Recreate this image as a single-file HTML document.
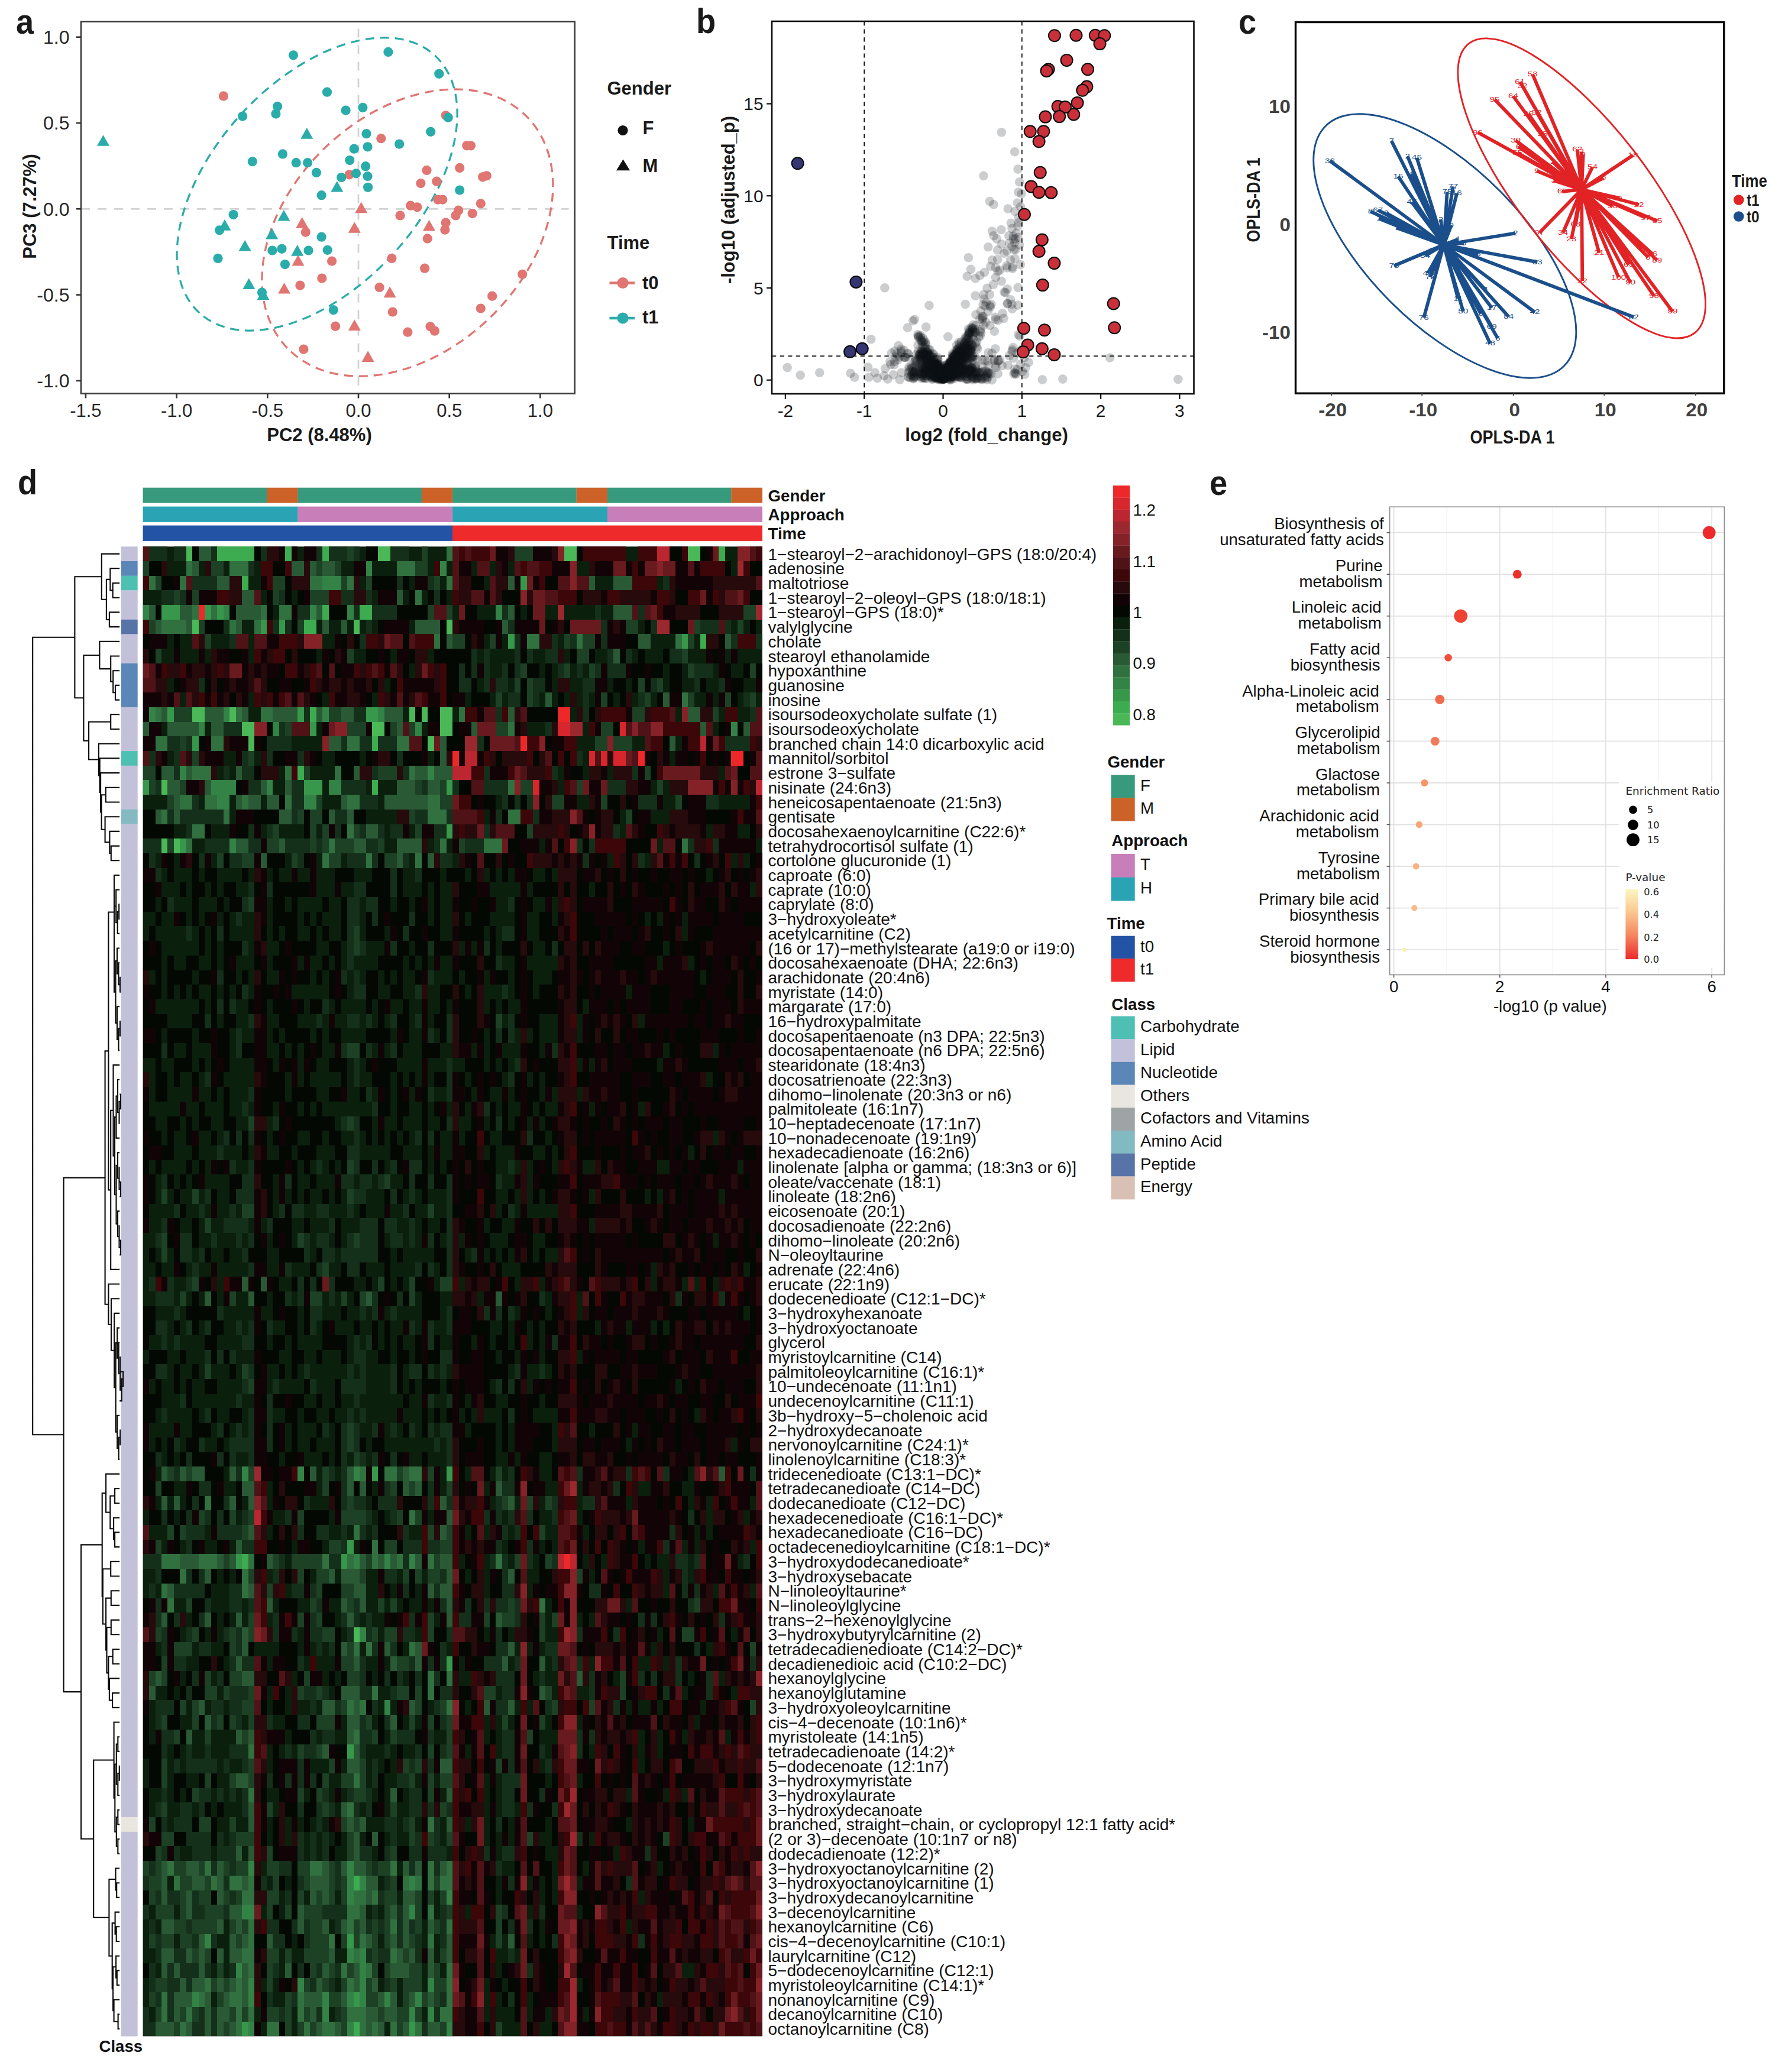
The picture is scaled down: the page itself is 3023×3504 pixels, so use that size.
<!DOCTYPE html>
<html><head><meta charset="utf-8"><title>Figure</title>
<style>
html,body{margin:0;padding:0;background:#fff}
body{width:3023px;height:3504px;overflow:hidden}
svg{display:block}
svg text{font-family:"Liberation Sans",sans-serif}
</style></head><body>
<svg width="3023" height="3504" viewBox="0 0 3023 3504">
<rect width="3023" height="3504" fill="#fff"/>
<g id="pa">
<line x1="606.0" y1="48.5" x2="606.0" y2="665.5" stroke="#d3d3d3" stroke-width="2.8" stroke-dasharray="15 13"/>
<line x1="137" y1="353.3" x2="961.7" y2="353.3" stroke="#d3d3d3" stroke-width="2.8" stroke-dasharray="15 13"/>
<ellipse cx="536.1" cy="311.4" rx="295.0" ry="174.6" transform="rotate(132.39 536.1 311.4)" fill="none" stroke="#2aacaa" stroke-width="3.3" stroke-dasharray="15 10"/>
<ellipse cx="688.9" cy="393.6" rx="281.6" ry="200.2" transform="rotate(136.20 688.9 393.6)" fill="none" stroke="#e07571" stroke-width="3.3" stroke-dasharray="15 10"/>
<circle cx="377.9" cy="162.4" r="8.1" fill="#e07571"/>
<circle cx="753.7" cy="195.3" r="8.1" fill="#e07571"/>
<circle cx="644.3" cy="234.2" r="8.1" fill="#e07571"/>
<circle cx="789.3" cy="246.3" r="8.1" fill="#e07571"/>
<circle cx="796.0" cy="246.3" r="8.1" fill="#e07571"/>
<circle cx="721.5" cy="287.9" r="8.1" fill="#e07571"/>
<circle cx="777.2" cy="283.9" r="8.1" fill="#e07571"/>
<circle cx="711.4" cy="310.1" r="8.1" fill="#e07571"/>
<circle cx="738.3" cy="306.7" r="8.1" fill="#e07571"/>
<circle cx="816.1" cy="299.3" r="8.1" fill="#e07571"/>
<circle cx="822.8" cy="297.3" r="8.1" fill="#e07571"/>
<circle cx="740.3" cy="337.6" r="8.1" fill="#e07571"/>
<circle cx="748.3" cy="337.6" r="8.1" fill="#e07571"/>
<circle cx="812.8" cy="344.3" r="8.1" fill="#e07571"/>
<circle cx="694.0" cy="347.7" r="8.1" fill="#e07571"/>
<circle cx="705.4" cy="350.3" r="8.1" fill="#e07571"/>
<circle cx="676.5" cy="364.4" r="8.1" fill="#e07571"/>
<circle cx="775.2" cy="355.7" r="8.1" fill="#e07571"/>
<circle cx="770.5" cy="364.4" r="8.1" fill="#e07571"/>
<circle cx="798.7" cy="361.1" r="8.1" fill="#e07571"/>
<circle cx="753.7" cy="376.5" r="8.1" fill="#e07571"/>
<circle cx="752.3" cy="388.6" r="8.1" fill="#e07571"/>
<circle cx="722.8" cy="403.4" r="8.1" fill="#e07571"/>
<circle cx="516.8" cy="392.6" r="8.1" fill="#e07571"/>
<circle cx="561.1" cy="441.6" r="8.1" fill="#e07571"/>
<circle cx="662.4" cy="436.9" r="8.1" fill="#e07571"/>
<circle cx="718.1" cy="453.7" r="8.1" fill="#e07571"/>
<circle cx="544.3" cy="470.5" r="8.1" fill="#e07571"/>
<circle cx="507.4" cy="482.6" r="8.1" fill="#e07571"/>
<circle cx="641.6" cy="485.9" r="8.1" fill="#e07571"/>
<circle cx="883.2" cy="463.8" r="8.1" fill="#e07571"/>
<circle cx="832.2" cy="500.7" r="8.1" fill="#e07571"/>
<circle cx="812.8" cy="521.5" r="8.1" fill="#e07571"/>
<circle cx="663.8" cy="527.5" r="8.1" fill="#e07571"/>
<circle cx="567.1" cy="551.7" r="8.1" fill="#e07571"/>
<circle cx="689.3" cy="561.7" r="8.1" fill="#e07571"/>
<circle cx="727.5" cy="552.3" r="8.1" fill="#e07571"/>
<circle cx="734.9" cy="559.7" r="8.1" fill="#e07571"/>
<circle cx="513.4" cy="590.6" r="8.1" fill="#e07571"/>
<circle cx="590.6" cy="295.3" r="8.1" fill="#e07571"/>
<path d="M610.7 341.6L621.2 360.2H600.2Z" fill="#e07571"/>
<path d="M599.3 375.2L609.8 393.8H588.8Z" fill="#e07571"/>
<path d="M510.7 367.1L521.2 385.7H500.2Z" fill="#e07571"/>
<path d="M725.5 371.8L736.0 390.4H715.0Z" fill="#e07571"/>
<path d="M504.0 430.9L514.5 449.5H493.5Z" fill="#e07571"/>
<path d="M480.5 477.9L491.0 496.4H470.0Z" fill="#e07571"/>
<path d="M659.1 484.6L669.6 503.2H648.6Z" fill="#e07571"/>
<path d="M599.3 540.3L609.8 558.9H588.8Z" fill="#e07571"/>
<path d="M622.1 593.3L632.6 611.9H611.6Z" fill="#e07571"/>
<circle cx="496.0" cy="93.3" r="8.1" fill="#2aacaa"/>
<circle cx="656.4" cy="87.9" r="8.1" fill="#2aacaa"/>
<circle cx="742.3" cy="124.8" r="8.1" fill="#2aacaa"/>
<circle cx="553.0" cy="155.7" r="8.1" fill="#2aacaa"/>
<circle cx="469.1" cy="179.9" r="8.1" fill="#2aacaa"/>
<circle cx="466.4" cy="192.6" r="8.1" fill="#2aacaa"/>
<circle cx="410.1" cy="196.6" r="8.1" fill="#2aacaa"/>
<circle cx="584.6" cy="186.6" r="8.1" fill="#2aacaa"/>
<circle cx="613.4" cy="181.9" r="8.1" fill="#2aacaa"/>
<circle cx="757.7" cy="198.7" r="8.1" fill="#2aacaa"/>
<circle cx="728.2" cy="222.8" r="8.1" fill="#2aacaa"/>
<circle cx="619.5" cy="226.2" r="8.1" fill="#2aacaa"/>
<circle cx="621.5" cy="248.3" r="8.1" fill="#2aacaa"/>
<circle cx="675.2" cy="243.6" r="8.1" fill="#2aacaa"/>
<circle cx="598.7" cy="251.7" r="8.1" fill="#2aacaa"/>
<circle cx="591.3" cy="271.1" r="8.1" fill="#2aacaa"/>
<circle cx="618.1" cy="281.2" r="8.1" fill="#2aacaa"/>
<circle cx="426.8" cy="273.2" r="8.1" fill="#2aacaa"/>
<circle cx="477.9" cy="260.4" r="8.1" fill="#2aacaa"/>
<circle cx="500.7" cy="275.2" r="8.1" fill="#2aacaa"/>
<circle cx="520.1" cy="275.2" r="8.1" fill="#2aacaa"/>
<circle cx="534.9" cy="291.9" r="8.1" fill="#2aacaa"/>
<circle cx="577.2" cy="300.0" r="8.1" fill="#2aacaa"/>
<circle cx="602.0" cy="293.3" r="8.1" fill="#2aacaa"/>
<circle cx="621.5" cy="298.0" r="8.1" fill="#2aacaa"/>
<circle cx="622.1" cy="316.8" r="8.1" fill="#2aacaa"/>
<circle cx="543.6" cy="330.2" r="8.1" fill="#2aacaa"/>
<circle cx="777.2" cy="321.5" r="8.1" fill="#2aacaa"/>
<circle cx="394.6" cy="363.1" r="8.1" fill="#2aacaa"/>
<circle cx="371.1" cy="389.3" r="8.1" fill="#2aacaa"/>
<circle cx="368.5" cy="436.9" r="8.1" fill="#2aacaa"/>
<circle cx="543.6" cy="400.7" r="8.1" fill="#2aacaa"/>
<circle cx="460.4" cy="423.5" r="8.1" fill="#2aacaa"/>
<circle cx="476.5" cy="420.8" r="8.1" fill="#2aacaa"/>
<circle cx="521.5" cy="423.5" r="8.1" fill="#2aacaa"/>
<circle cx="553.7" cy="422.8" r="8.1" fill="#2aacaa"/>
<circle cx="481.9" cy="447.0" r="8.1" fill="#2aacaa"/>
<circle cx="443.0" cy="494.6" r="8.1" fill="#2aacaa"/>
<circle cx="563.8" cy="524.2" r="8.1" fill="#2aacaa"/>
<path d="M174.5 228.2L185.0 246.8H164.0Z" fill="#2aacaa"/>
<path d="M518.8 216.1L529.3 234.7H508.3Z" fill="#2aacaa"/>
<path d="M569.8 306.0L580.3 324.6H559.3Z" fill="#2aacaa"/>
<path d="M479.9 355.0L490.4 373.6H469.4Z" fill="#2aacaa"/>
<path d="M379.9 371.1L390.4 389.7H369.4Z" fill="#2aacaa"/>
<path d="M459.7 385.9L470.2 404.5H449.2Z" fill="#2aacaa"/>
<path d="M414.1 406.0L424.6 424.6H403.6Z" fill="#2aacaa"/>
<path d="M502.7 414.1L513.2 432.7H492.2Z" fill="#2aacaa"/>
<path d="M420.8 470.5L431.3 489.1H410.3Z" fill="#2aacaa"/>
<path d="M445.0 488.6L455.5 507.2H434.5Z" fill="#2aacaa"/>
<rect x="137" y="36.5" width="834.7" height="629.0" fill="none" stroke="#3a3a3a" stroke-width="2.6"/>
<line x1="144.9" y1="665.5" x2="144.9" y2="673.5" stroke="#333" stroke-width="2.6"/>
<text x="144.9" y="704.5" text-anchor="middle" font-size="31" fill="#262626">-1.5</text>
<line x1="298.6" y1="665.5" x2="298.6" y2="673.5" stroke="#333" stroke-width="2.6"/>
<text x="298.6" y="704.5" text-anchor="middle" font-size="31" fill="#262626">-1.0</text>
<line x1="452.3" y1="665.5" x2="452.3" y2="673.5" stroke="#333" stroke-width="2.6"/>
<text x="452.3" y="704.5" text-anchor="middle" font-size="31" fill="#262626">-0.5</text>
<line x1="606.0" y1="665.5" x2="606.0" y2="673.5" stroke="#333" stroke-width="2.6"/>
<text x="606.0" y="704.5" text-anchor="middle" font-size="31" fill="#262626">0.0</text>
<line x1="759.7" y1="665.5" x2="759.7" y2="673.5" stroke="#333" stroke-width="2.6"/>
<text x="759.7" y="704.5" text-anchor="middle" font-size="31" fill="#262626">0.5</text>
<line x1="913.4" y1="665.5" x2="913.4" y2="673.5" stroke="#333" stroke-width="2.6"/>
<text x="913.4" y="704.5" text-anchor="middle" font-size="31" fill="#262626">1.0</text>
<line x1="129" y1="643.9" x2="137" y2="643.9" stroke="#333" stroke-width="2.6"/>
<text x="117.5" y="655.2" text-anchor="end" font-size="32" fill="#262626">-1.0</text>
<line x1="129" y1="498.6" x2="137" y2="498.6" stroke="#333" stroke-width="2.6"/>
<text x="117.5" y="509.9" text-anchor="end" font-size="32" fill="#262626">-0.5</text>
<line x1="129" y1="353.3" x2="137" y2="353.3" stroke="#333" stroke-width="2.6"/>
<text x="117.5" y="364.6" text-anchor="end" font-size="32" fill="#262626">0.0</text>
<line x1="129" y1="208.0" x2="137" y2="208.0" stroke="#333" stroke-width="2.6"/>
<text x="117.5" y="219.3" text-anchor="end" font-size="32" fill="#262626">0.5</text>
<line x1="129" y1="62.7" x2="137" y2="62.7" stroke="#333" stroke-width="2.6"/>
<text x="117.5" y="74.0" text-anchor="end" font-size="32" fill="#262626">1.0</text>
<text x="540" y="746" text-anchor="middle" font-size="31" font-weight="bold" fill="#1a1a1a">PC2 (8.48%)</text>
<text transform="translate(61 349) rotate(-90)" text-anchor="middle" font-size="31" font-weight="bold" fill="#1a1a1a">PC3 (7.27%)</text>
<text x="1026.5" y="159.8" font-size="31" font-weight="bold" fill="#1a1a1a">Gender</text>
<circle cx="1053" cy="220.5" r="8.6" fill="#111"/>
<text x="1086.5" y="226.5" font-size="31" font-weight="bold" fill="#1a1a1a">F</text>
<path d="M1053.5 269.5L1065 288.2H1042Z" fill="#111"/>
<text x="1086.5" y="290.5" font-size="31" font-weight="bold" fill="#1a1a1a">M</text>
<text x="1026.5" y="421" font-size="31" font-weight="bold" fill="#1a1a1a">Time</text>
<line x1="1030.5" y1="478.5" x2="1073" y2="478.5" stroke="#e07571" stroke-width="4.6"/><circle cx="1053" cy="478.5" r="9.6" fill="#e07571"/>
<text x="1086" y="488.5" font-size="31" font-weight="bold" fill="#1a1a1a">t0</text>
<line x1="1030.5" y1="538" x2="1073" y2="538" stroke="#2aacaa" stroke-width="4.6"/><circle cx="1053" cy="538" r="9.6" fill="#2aacaa"/>
<text x="1086" y="546.5" font-size="31" font-weight="bold" fill="#1a1a1a">t1</text>
<text transform="translate(27 56.5) scale(0.92 1)" font-size="59" font-weight="bold" fill="#1a1a1a">a</text>
</g>
<g id="pb">
<g fill="#101418" fill-opacity="0.21">
<circle cx="1636.8" cy="585.4" r="7.8"/>
<circle cx="1587.9" cy="628.5" r="7.8"/>
<circle cx="1599.2" cy="629.4" r="7.8"/>
<circle cx="1607.7" cy="618.3" r="7.8"/>
<circle cx="1580.6" cy="627.0" r="7.8"/>
<circle cx="1598.5" cy="638.1" r="7.8"/>
<circle cx="1598.5" cy="632.3" r="7.8"/>
<circle cx="1558.7" cy="595.8" r="7.8"/>
<circle cx="1621.6" cy="634.7" r="7.8"/>
<circle cx="1612.1" cy="617.4" r="7.8"/>
<circle cx="1584.3" cy="634.3" r="7.8"/>
<circle cx="1594.6" cy="637.1" r="7.8"/>
<circle cx="1609.9" cy="613.9" r="7.8"/>
<circle cx="1592.6" cy="632.3" r="7.8"/>
<circle cx="1593.0" cy="638.1" r="7.8"/>
<circle cx="1565.6" cy="581.8" r="7.8"/>
<circle cx="1611.1" cy="626.0" r="7.8"/>
<circle cx="1601.3" cy="630.0" r="7.8"/>
<circle cx="1604.7" cy="634.4" r="7.8"/>
<circle cx="1563.9" cy="583.0" r="7.8"/>
<circle cx="1635.9" cy="624.7" r="7.8"/>
<circle cx="1602.0" cy="626.4" r="7.8"/>
<circle cx="1589.7" cy="635.7" r="7.8"/>
<circle cx="1644.5" cy="554.5" r="7.8"/>
<circle cx="1597.5" cy="633.0" r="7.8"/>
<circle cx="1565.6" cy="627.2" r="7.8"/>
<circle cx="1589.3" cy="637.5" r="7.8"/>
<circle cx="1546.6" cy="635.1" r="7.8"/>
<circle cx="1622.3" cy="617.1" r="7.8"/>
<circle cx="1589.1" cy="628.6" r="7.8"/>
<circle cx="1581.7" cy="639.8" r="7.8"/>
<circle cx="1622.8" cy="581.7" r="7.8"/>
<circle cx="1561.1" cy="599.0" r="7.8"/>
<circle cx="1610.6" cy="624.9" r="7.8"/>
<circle cx="1551.7" cy="565.9" r="7.8"/>
<circle cx="1583.5" cy="638.7" r="7.8"/>
<circle cx="1571.2" cy="625.5" r="7.8"/>
<circle cx="1631.6" cy="572.3" r="7.8"/>
<circle cx="1638.5" cy="619.9" r="7.8"/>
<circle cx="1591.0" cy="637.0" r="7.8"/>
<circle cx="1617.6" cy="632.4" r="7.8"/>
<circle cx="1594.4" cy="636.1" r="7.8"/>
<circle cx="1611.4" cy="616.2" r="7.8"/>
<circle cx="1581.4" cy="628.9" r="7.8"/>
<circle cx="1559.8" cy="618.4" r="7.8"/>
<circle cx="1557.6" cy="600.0" r="7.8"/>
<circle cx="1607.2" cy="621.9" r="7.8"/>
<circle cx="1649.4" cy="620.7" r="7.8"/>
<circle cx="1604.6" cy="633.2" r="7.8"/>
<circle cx="1586.6" cy="618.3" r="7.8"/>
<circle cx="1641.8" cy="606.1" r="7.8"/>
<circle cx="1603.9" cy="622.2" r="7.8"/>
<circle cx="1600.8" cy="636.7" r="7.8"/>
<circle cx="1604.2" cy="628.0" r="7.8"/>
<circle cx="1595.5" cy="641.0" r="7.8"/>
<circle cx="1591.5" cy="636.3" r="7.8"/>
<circle cx="1566.0" cy="595.5" r="7.8"/>
<circle cx="1609.9" cy="612.5" r="7.8"/>
<circle cx="1596.4" cy="635.2" r="7.8"/>
<circle cx="1625.5" cy="591.7" r="7.8"/>
<circle cx="1590.1" cy="631.9" r="7.8"/>
<circle cx="1555.3" cy="607.7" r="7.8"/>
<circle cx="1596.2" cy="631.0" r="7.8"/>
<circle cx="1637.0" cy="590.5" r="7.8"/>
<circle cx="1589.8" cy="639.7" r="7.8"/>
<circle cx="1578.3" cy="636.4" r="7.8"/>
<circle cx="1571.5" cy="605.2" r="7.8"/>
<circle cx="1574.7" cy="609.6" r="7.8"/>
<circle cx="1591.7" cy="640.4" r="7.8"/>
<circle cx="1571.8" cy="613.7" r="7.8"/>
<circle cx="1632.4" cy="636.9" r="7.8"/>
<circle cx="1592.1" cy="634.0" r="7.8"/>
<circle cx="1601.0" cy="630.3" r="7.8"/>
<circle cx="1631.1" cy="586.7" r="7.8"/>
<circle cx="1632.6" cy="629.9" r="7.8"/>
<circle cx="1593.7" cy="642.1" r="7.8"/>
<circle cx="1606.0" cy="621.4" r="7.8"/>
<circle cx="1615.2" cy="607.6" r="7.8"/>
<circle cx="1594.1" cy="635.4" r="7.8"/>
<circle cx="1558.2" cy="610.7" r="7.8"/>
<circle cx="1613.3" cy="618.9" r="7.8"/>
<circle cx="1618.8" cy="605.1" r="7.8"/>
<circle cx="1607.9" cy="612.2" r="7.8"/>
<circle cx="1577.6" cy="625.7" r="7.8"/>
<circle cx="1594.1" cy="633.0" r="7.8"/>
<circle cx="1585.1" cy="636.3" r="7.8"/>
<circle cx="1591.7" cy="640.0" r="7.8"/>
<circle cx="1627.9" cy="616.9" r="7.8"/>
<circle cx="1633.2" cy="584.8" r="7.8"/>
<circle cx="1613.7" cy="599.2" r="7.8"/>
<circle cx="1610.9" cy="623.0" r="7.8"/>
<circle cx="1613.8" cy="614.9" r="7.8"/>
<circle cx="1598.2" cy="640.1" r="7.8"/>
<circle cx="1596.8" cy="635.3" r="7.8"/>
<circle cx="1583.2" cy="624.7" r="7.8"/>
<circle cx="1597.2" cy="637.9" r="7.8"/>
<circle cx="1649.7" cy="618.0" r="7.8"/>
<circle cx="1618.2" cy="607.6" r="7.8"/>
<circle cx="1590.7" cy="631.5" r="7.8"/>
<circle cx="1587.8" cy="627.4" r="7.8"/>
<circle cx="1578.9" cy="616.3" r="7.8"/>
<circle cx="1607.0" cy="627.7" r="7.8"/>
<circle cx="1607.4" cy="612.4" r="7.8"/>
<circle cx="1565.8" cy="601.2" r="7.8"/>
<circle cx="1609.5" cy="612.1" r="7.8"/>
<circle cx="1585.6" cy="626.0" r="7.8"/>
<circle cx="1630.8" cy="589.8" r="7.8"/>
<circle cx="1602.1" cy="632.0" r="7.8"/>
<circle cx="1637.4" cy="627.0" r="7.8"/>
<circle cx="1588.1" cy="625.4" r="7.8"/>
<circle cx="1592.0" cy="634.3" r="7.8"/>
<circle cx="1605.3" cy="641.1" r="7.8"/>
<circle cx="1622.4" cy="600.0" r="7.8"/>
<circle cx="1611.3" cy="604.7" r="7.8"/>
<circle cx="1570.5" cy="600.2" r="7.8"/>
<circle cx="1602.6" cy="621.1" r="7.8"/>
<circle cx="1599.0" cy="632.7" r="7.8"/>
<circle cx="1588.8" cy="629.5" r="7.8"/>
<circle cx="1583.8" cy="632.7" r="7.8"/>
<circle cx="1638.1" cy="631.3" r="7.8"/>
<circle cx="1589.7" cy="638.5" r="7.8"/>
<circle cx="1579.3" cy="617.5" r="7.8"/>
<circle cx="1612.9" cy="606.6" r="7.8"/>
<circle cx="1601.5" cy="635.6" r="7.8"/>
<circle cx="1596.8" cy="638.7" r="7.8"/>
<circle cx="1616.2" cy="608.1" r="7.8"/>
<circle cx="1609.6" cy="619.7" r="7.8"/>
<circle cx="1606.7" cy="635.8" r="7.8"/>
<circle cx="1620.3" cy="631.8" r="7.8"/>
<circle cx="1604.9" cy="627.2" r="7.8"/>
<circle cx="1584.5" cy="624.6" r="7.8"/>
<circle cx="1590.3" cy="639.2" r="7.8"/>
<circle cx="1586.7" cy="633.7" r="7.8"/>
<circle cx="1603.3" cy="639.3" r="7.8"/>
<circle cx="1574.1" cy="600.3" r="7.8"/>
<circle cx="1557.0" cy="574.9" r="7.8"/>
<circle cx="1600.5" cy="627.7" r="7.8"/>
<circle cx="1568.2" cy="596.9" r="7.8"/>
<circle cx="1554.3" cy="599.8" r="7.8"/>
<circle cx="1607.0" cy="619.2" r="7.8"/>
<circle cx="1582.4" cy="628.8" r="7.8"/>
<circle cx="1609.7" cy="619.7" r="7.8"/>
<circle cx="1586.5" cy="629.6" r="7.8"/>
<circle cx="1573.1" cy="624.2" r="7.8"/>
<circle cx="1570.3" cy="591.3" r="7.8"/>
<circle cx="1586.8" cy="635.5" r="7.8"/>
<circle cx="1592.3" cy="638.7" r="7.8"/>
<circle cx="1579.8" cy="624.1" r="7.8"/>
<circle cx="1592.1" cy="634.7" r="7.8"/>
<circle cx="1563.7" cy="624.4" r="7.8"/>
<circle cx="1598.8" cy="640.1" r="7.8"/>
<circle cx="1557.9" cy="594.2" r="7.8"/>
<circle cx="1594.1" cy="641.8" r="7.8"/>
<circle cx="1614.3" cy="628.7" r="7.8"/>
<circle cx="1623.2" cy="611.2" r="7.8"/>
<circle cx="1637.3" cy="556.2" r="7.8"/>
<circle cx="1563.2" cy="609.4" r="7.8"/>
<circle cx="1615.7" cy="599.2" r="7.8"/>
<circle cx="1625.8" cy="587.8" r="7.8"/>
<circle cx="1620.7" cy="610.1" r="7.8"/>
<circle cx="1577.4" cy="612.9" r="7.8"/>
<circle cx="1607.8" cy="638.8" r="7.8"/>
<circle cx="1640.6" cy="593.5" r="7.8"/>
<circle cx="1564.6" cy="587.9" r="7.8"/>
<circle cx="1609.3" cy="631.8" r="7.8"/>
<circle cx="1623.7" cy="634.7" r="7.8"/>
<circle cx="1582.7" cy="637.7" r="7.8"/>
<circle cx="1611.7" cy="629.4" r="7.8"/>
<circle cx="1574.2" cy="629.0" r="7.8"/>
<circle cx="1580.1" cy="612.2" r="7.8"/>
<circle cx="1580.0" cy="624.4" r="7.8"/>
<circle cx="1602.9" cy="632.9" r="7.8"/>
<circle cx="1596.4" cy="636.7" r="7.8"/>
<circle cx="1620.1" cy="619.3" r="7.8"/>
<circle cx="1577.2" cy="618.4" r="7.8"/>
<circle cx="1595.5" cy="637.5" r="7.8"/>
<circle cx="1620.3" cy="633.1" r="7.8"/>
<circle cx="1611.2" cy="621.5" r="7.8"/>
<circle cx="1568.5" cy="605.3" r="7.8"/>
<circle cx="1613.6" cy="602.8" r="7.8"/>
<circle cx="1587.7" cy="635.5" r="7.8"/>
<circle cx="1607.2" cy="628.7" r="7.8"/>
<circle cx="1605.3" cy="627.2" r="7.8"/>
<circle cx="1626.1" cy="630.9" r="7.8"/>
<circle cx="1601.1" cy="630.2" r="7.8"/>
<circle cx="1556.5" cy="567.6" r="7.8"/>
<circle cx="1567.5" cy="625.7" r="7.8"/>
<circle cx="1615.1" cy="618.7" r="7.8"/>
<circle cx="1592.6" cy="634.0" r="7.8"/>
<circle cx="1624.3" cy="607.6" r="7.8"/>
<circle cx="1604.7" cy="617.5" r="7.8"/>
<circle cx="1581.5" cy="620.2" r="7.8"/>
<circle cx="1623.0" cy="622.9" r="7.8"/>
<circle cx="1580.2" cy="627.1" r="7.8"/>
<circle cx="1552.0" cy="583.2" r="7.8"/>
<circle cx="1645.3" cy="549.4" r="7.8"/>
<circle cx="1555.2" cy="605.0" r="7.8"/>
<circle cx="1612.9" cy="623.2" r="7.8"/>
<circle cx="1619.8" cy="601.0" r="7.8"/>
<circle cx="1601.8" cy="640.3" r="7.8"/>
<circle cx="1560.4" cy="571.5" r="7.8"/>
<circle cx="1621.5" cy="611.7" r="7.8"/>
<circle cx="1565.8" cy="623.2" r="7.8"/>
<circle cx="1568.1" cy="593.4" r="7.8"/>
<circle cx="1590.3" cy="636.4" r="7.8"/>
<circle cx="1616.4" cy="631.2" r="7.8"/>
<circle cx="1605.3" cy="636.4" r="7.8"/>
<circle cx="1616.9" cy="604.4" r="7.8"/>
<circle cx="1588.4" cy="640.7" r="7.8"/>
<circle cx="1594.6" cy="640.6" r="7.8"/>
<circle cx="1572.7" cy="628.0" r="7.8"/>
<circle cx="1591.3" cy="634.6" r="7.8"/>
<circle cx="1611.9" cy="632.9" r="7.8"/>
<circle cx="1591.7" cy="629.6" r="7.8"/>
<circle cx="1609.3" cy="614.9" r="7.8"/>
<circle cx="1585.5" cy="630.6" r="7.8"/>
<circle cx="1585.1" cy="631.9" r="7.8"/>
<circle cx="1599.4" cy="629.2" r="7.8"/>
<circle cx="1594.1" cy="635.8" r="7.8"/>
<circle cx="1611.9" cy="633.1" r="7.8"/>
<circle cx="1602.5" cy="623.7" r="7.8"/>
<circle cx="1637.9" cy="564.1" r="7.8"/>
<circle cx="1593.5" cy="639.9" r="7.8"/>
<circle cx="1593.3" cy="636.7" r="7.8"/>
<circle cx="1574.9" cy="603.0" r="7.8"/>
<circle cx="1599.0" cy="630.5" r="7.8"/>
<circle cx="1614.0" cy="626.7" r="7.8"/>
<circle cx="1581.7" cy="631.5" r="7.8"/>
<circle cx="1597.4" cy="639.2" r="7.8"/>
<circle cx="1614.8" cy="613.3" r="7.8"/>
<circle cx="1595.6" cy="638.3" r="7.8"/>
<circle cx="1586.7" cy="625.4" r="7.8"/>
<circle cx="1620.6" cy="631.1" r="7.8"/>
<circle cx="1600.7" cy="634.4" r="7.8"/>
<circle cx="1607.5" cy="616.4" r="7.8"/>
<circle cx="1625.0" cy="613.3" r="7.8"/>
<circle cx="1624.5" cy="626.2" r="7.8"/>
<circle cx="1590.6" cy="634.0" r="7.8"/>
<circle cx="1586.6" cy="627.2" r="7.8"/>
<circle cx="1604.9" cy="629.0" r="7.8"/>
<circle cx="1595.5" cy="635.7" r="7.8"/>
<circle cx="1555.4" cy="614.2" r="7.8"/>
<circle cx="1627.4" cy="615.6" r="7.8"/>
<circle cx="1598.9" cy="634.4" r="7.8"/>
<circle cx="1615.2" cy="603.0" r="7.8"/>
<circle cx="1571.9" cy="623.3" r="7.8"/>
<circle cx="1627.7" cy="626.1" r="7.8"/>
<circle cx="1585.2" cy="631.9" r="7.8"/>
<circle cx="1596.1" cy="641.3" r="7.8"/>
<circle cx="1566.7" cy="609.8" r="7.8"/>
<circle cx="1594.7" cy="640.0" r="7.8"/>
<circle cx="1593.3" cy="631.6" r="7.8"/>
<circle cx="1594.3" cy="636.3" r="7.8"/>
<circle cx="1608.4" cy="635.3" r="7.8"/>
<circle cx="1599.9" cy="628.8" r="7.8"/>
<circle cx="1620.6" cy="594.4" r="7.8"/>
<circle cx="1587.9" cy="637.4" r="7.8"/>
<circle cx="1575.9" cy="627.0" r="7.8"/>
<circle cx="1598.1" cy="635.5" r="7.8"/>
<circle cx="1612.7" cy="608.0" r="7.8"/>
<circle cx="1626.7" cy="617.6" r="7.8"/>
<circle cx="1616.9" cy="617.4" r="7.8"/>
<circle cx="1558.5" cy="619.1" r="7.8"/>
<circle cx="1607.0" cy="616.2" r="7.8"/>
<circle cx="1631.6" cy="605.2" r="7.8"/>
<circle cx="1599.9" cy="631.8" r="7.8"/>
<circle cx="1586.8" cy="626.5" r="7.8"/>
<circle cx="1605.5" cy="624.5" r="7.8"/>
<circle cx="1587.1" cy="638.3" r="7.8"/>
<circle cx="1613.0" cy="620.6" r="7.8"/>
<circle cx="1598.2" cy="627.7" r="7.8"/>
<circle cx="1630.1" cy="584.0" r="7.8"/>
<circle cx="1609.8" cy="617.9" r="7.8"/>
<circle cx="1582.1" cy="617.3" r="7.8"/>
<circle cx="1612.2" cy="634.6" r="7.8"/>
<circle cx="1619.7" cy="612.8" r="7.8"/>
<circle cx="1585.6" cy="617.9" r="7.8"/>
<circle cx="1588.9" cy="639.5" r="7.8"/>
<circle cx="1546.3" cy="540.3" r="7.8"/>
<circle cx="1619.0" cy="591.9" r="7.8"/>
<circle cx="1585.2" cy="622.1" r="7.8"/>
<circle cx="1550.4" cy="608.3" r="7.8"/>
<circle cx="1558.4" cy="632.2" r="7.8"/>
<circle cx="1593.4" cy="636.8" r="7.8"/>
<circle cx="1615.7" cy="607.5" r="7.8"/>
<circle cx="1596.5" cy="637.4" r="7.8"/>
<circle cx="1609.2" cy="618.0" r="7.8"/>
<circle cx="1573.5" cy="633.5" r="7.8"/>
<circle cx="1568.1" cy="596.0" r="7.8"/>
<circle cx="1618.6" cy="597.0" r="7.8"/>
<circle cx="1609.7" cy="615.2" r="7.8"/>
<circle cx="1597.8" cy="632.4" r="7.8"/>
<circle cx="1627.6" cy="627.0" r="7.8"/>
<circle cx="1576.9" cy="637.2" r="7.8"/>
<circle cx="1589.0" cy="634.0" r="7.8"/>
<circle cx="1621.8" cy="594.4" r="7.8"/>
<circle cx="1640.1" cy="596.4" r="7.8"/>
<circle cx="1598.7" cy="630.0" r="7.8"/>
<circle cx="1636.6" cy="617.9" r="7.8"/>
<circle cx="1584.8" cy="627.1" r="7.8"/>
<circle cx="1606.0" cy="619.6" r="7.8"/>
<circle cx="1594.6" cy="636.9" r="7.8"/>
<circle cx="1562.5" cy="631.7" r="7.8"/>
<circle cx="1604.3" cy="622.5" r="7.8"/>
<circle cx="1619.6" cy="612.5" r="7.8"/>
<circle cx="1595.1" cy="639.3" r="7.8"/>
<circle cx="1596.9" cy="637.1" r="7.8"/>
<circle cx="1630.1" cy="616.9" r="7.8"/>
<circle cx="1570.2" cy="621.6" r="7.8"/>
<circle cx="1564.6" cy="578.7" r="7.8"/>
<circle cx="1583.7" cy="621.5" r="7.8"/>
<circle cx="1571.4" cy="633.9" r="7.8"/>
<circle cx="1629.0" cy="586.2" r="7.8"/>
<circle cx="1605.5" cy="637.4" r="7.8"/>
<circle cx="1578.9" cy="609.8" r="7.8"/>
<circle cx="1584.6" cy="625.0" r="7.8"/>
<circle cx="1663.3" cy="550.1" r="7.8"/>
<circle cx="1584.7" cy="638.5" r="7.8"/>
<circle cx="1581.2" cy="638.2" r="7.8"/>
<circle cx="1605.4" cy="626.1" r="7.8"/>
<circle cx="1613.0" cy="626.2" r="7.8"/>
<circle cx="1603.5" cy="621.7" r="7.8"/>
<circle cx="1577.9" cy="624.9" r="7.8"/>
<circle cx="1572.2" cy="617.3" r="7.8"/>
<circle cx="1612.0" cy="631.1" r="7.8"/>
<circle cx="1597.3" cy="637.9" r="7.8"/>
<circle cx="1561.3" cy="578.5" r="7.8"/>
<circle cx="1625.0" cy="624.4" r="7.8"/>
<circle cx="1616.1" cy="603.0" r="7.8"/>
<circle cx="1593.0" cy="641.1" r="7.8"/>
<circle cx="1592.6" cy="638.4" r="7.8"/>
<circle cx="1603.7" cy="623.8" r="7.8"/>
<circle cx="1582.9" cy="636.5" r="7.8"/>
<circle cx="1567.9" cy="600.2" r="7.8"/>
<circle cx="1605.8" cy="617.7" r="7.8"/>
<circle cx="1565.9" cy="627.8" r="7.8"/>
<circle cx="1607.4" cy="635.4" r="7.8"/>
<circle cx="1565.8" cy="627.0" r="7.8"/>
<circle cx="1596.3" cy="636.1" r="7.8"/>
<circle cx="1595.4" cy="640.3" r="7.8"/>
<circle cx="1638.9" cy="558.9" r="7.8"/>
<circle cx="1574.4" cy="620.8" r="7.8"/>
<circle cx="1566.4" cy="640.2" r="7.8"/>
<circle cx="1583.9" cy="624.6" r="7.8"/>
<circle cx="1573.0" cy="610.1" r="7.8"/>
<circle cx="1585.1" cy="632.2" r="7.8"/>
<circle cx="1608.0" cy="624.8" r="7.8"/>
<circle cx="1616.0" cy="599.5" r="7.8"/>
<circle cx="1636.1" cy="626.3" r="7.8"/>
<circle cx="1581.8" cy="634.2" r="7.8"/>
<circle cx="1658.3" cy="525.9" r="7.8"/>
<circle cx="1643.4" cy="622.2" r="7.8"/>
<circle cx="1593.9" cy="639.6" r="7.8"/>
<circle cx="1546.6" cy="618.9" r="7.8"/>
<circle cx="1596.6" cy="637.4" r="7.8"/>
<circle cx="1600.1" cy="636.4" r="7.8"/>
<circle cx="1546.4" cy="629.1" r="7.8"/>
<circle cx="1600.2" cy="634.6" r="7.8"/>
<circle cx="1594.0" cy="634.4" r="7.8"/>
<circle cx="1580.7" cy="615.1" r="7.8"/>
<circle cx="1612.7" cy="625.0" r="7.8"/>
<circle cx="1621.3" cy="589.2" r="7.8"/>
<circle cx="1587.5" cy="637.7" r="7.8"/>
<circle cx="1603.7" cy="625.8" r="7.8"/>
<circle cx="1583.7" cy="628.4" r="7.8"/>
<circle cx="1580.7" cy="618.7" r="7.8"/>
<circle cx="1600.3" cy="633.3" r="7.8"/>
<circle cx="1610.4" cy="630.6" r="7.8"/>
<circle cx="1585.7" cy="622.4" r="7.8"/>
<circle cx="1548.3" cy="606.7" r="7.8"/>
<circle cx="1611.8" cy="622.2" r="7.8"/>
<circle cx="1562.3" cy="575.5" r="7.8"/>
<circle cx="1601.3" cy="631.9" r="7.8"/>
<circle cx="1638.8" cy="605.2" r="7.8"/>
<circle cx="1598.1" cy="637.0" r="7.8"/>
<circle cx="1571.5" cy="633.9" r="7.8"/>
<circle cx="1565.4" cy="635.5" r="7.8"/>
<circle cx="1625.0" cy="597.4" r="7.8"/>
<circle cx="1598.1" cy="639.4" r="7.8"/>
<circle cx="1610.7" cy="637.8" r="7.8"/>
<circle cx="1619.5" cy="623.0" r="7.8"/>
<circle cx="1597.4" cy="630.7" r="7.8"/>
<circle cx="1591.5" cy="635.9" r="7.8"/>
<circle cx="1577.0" cy="616.5" r="7.8"/>
<circle cx="1528.6" cy="604.3" r="7.8"/>
<circle cx="1564.1" cy="590.4" r="7.8"/>
<circle cx="1596.9" cy="634.9" r="7.8"/>
<circle cx="1594.5" cy="638.9" r="7.8"/>
<circle cx="1607.6" cy="637.4" r="7.8"/>
<circle cx="1595.6" cy="638.5" r="7.8"/>
<circle cx="1602.1" cy="627.5" r="7.8"/>
<circle cx="1616.4" cy="620.5" r="7.8"/>
<circle cx="1578.4" cy="622.2" r="7.8"/>
<circle cx="1592.0" cy="635.6" r="7.8"/>
<circle cx="1562.1" cy="596.3" r="7.8"/>
<circle cx="1620.5" cy="605.3" r="7.8"/>
<circle cx="1599.4" cy="626.8" r="7.8"/>
<circle cx="1609.6" cy="635.7" r="7.8"/>
<circle cx="1633.5" cy="607.0" r="7.8"/>
<circle cx="1623.0" cy="593.8" r="7.8"/>
<circle cx="1597.1" cy="636.6" r="7.8"/>
<circle cx="1616.3" cy="591.6" r="7.8"/>
<circle cx="1566.1" cy="609.4" r="7.8"/>
<circle cx="1608.3" cy="632.8" r="7.8"/>
<circle cx="1601.6" cy="629.7" r="7.8"/>
<circle cx="1561.8" cy="613.3" r="7.8"/>
<circle cx="1628.8" cy="604.1" r="7.8"/>
<circle cx="1582.5" cy="618.7" r="7.8"/>
<circle cx="1614.0" cy="602.7" r="7.8"/>
<circle cx="1589.0" cy="634.9" r="7.8"/>
<circle cx="1621.0" cy="587.2" r="7.8"/>
<circle cx="1628.2" cy="597.9" r="7.8"/>
<circle cx="1579.7" cy="625.2" r="7.8"/>
<circle cx="1563.8" cy="620.5" r="7.8"/>
<circle cx="1595.5" cy="638.0" r="7.8"/>
<circle cx="1617.7" cy="592.6" r="7.8"/>
<circle cx="1590.1" cy="630.0" r="7.8"/>
<circle cx="1584.6" cy="633.1" r="7.8"/>
<circle cx="1609.6" cy="608.9" r="7.8"/>
<circle cx="1535.9" cy="638.1" r="7.8"/>
<circle cx="1583.4" cy="638.9" r="7.8"/>
<circle cx="1567.1" cy="610.5" r="7.8"/>
<circle cx="1605.2" cy="621.5" r="7.8"/>
<circle cx="1581.8" cy="633.4" r="7.8"/>
<circle cx="1573.2" cy="629.4" r="7.8"/>
<circle cx="1590.5" cy="641.8" r="7.8"/>
<circle cx="1565.2" cy="625.4" r="7.8"/>
<circle cx="1598.2" cy="635.2" r="7.8"/>
<circle cx="1583.0" cy="631.2" r="7.8"/>
<circle cx="1589.9" cy="640.1" r="7.8"/>
<circle cx="1582.2" cy="625.8" r="7.8"/>
<circle cx="1619.2" cy="628.1" r="7.8"/>
<circle cx="1596.0" cy="639.5" r="7.8"/>
<circle cx="1610.4" cy="621.3" r="7.8"/>
<circle cx="1609.4" cy="633.6" r="7.8"/>
<circle cx="1580.2" cy="616.1" r="7.8"/>
<circle cx="1611.4" cy="609.5" r="7.8"/>
<circle cx="1606.4" cy="627.7" r="7.8"/>
<circle cx="1605.6" cy="634.4" r="7.8"/>
<circle cx="1589.5" cy="629.0" r="7.8"/>
<circle cx="1588.8" cy="630.3" r="7.8"/>
<circle cx="1616.3" cy="600.1" r="7.8"/>
<circle cx="1647.9" cy="556.8" r="7.8"/>
<circle cx="1579.7" cy="622.4" r="7.8"/>
<circle cx="1610.6" cy="628.0" r="7.8"/>
<circle cx="1590.2" cy="639.2" r="7.8"/>
<circle cx="1616.3" cy="636.7" r="7.8"/>
<circle cx="1608.4" cy="614.2" r="7.8"/>
<circle cx="1622.5" cy="609.2" r="7.8"/>
<circle cx="1535.2" cy="604.3" r="7.8"/>
<circle cx="1584.9" cy="634.6" r="7.8"/>
<circle cx="1576.1" cy="628.4" r="7.8"/>
<circle cx="1596.1" cy="633.3" r="7.8"/>
<circle cx="1582.1" cy="632.5" r="7.8"/>
<circle cx="1584.0" cy="638.6" r="7.8"/>
<circle cx="1614.0" cy="621.0" r="7.8"/>
<circle cx="1641.6" cy="605.6" r="7.8"/>
<circle cx="1534.5" cy="554.2" r="7.8"/>
<circle cx="1591.5" cy="637.8" r="7.8"/>
<circle cx="1605.6" cy="622.9" r="7.8"/>
<circle cx="1598.6" cy="633.0" r="7.8"/>
<circle cx="1590.7" cy="632.6" r="7.8"/>
<circle cx="1567.8" cy="630.3" r="7.8"/>
<circle cx="1577.1" cy="625.3" r="7.8"/>
<circle cx="1614.9" cy="622.6" r="7.8"/>
<circle cx="1622.9" cy="637.5" r="7.8"/>
<circle cx="1600.7" cy="626.6" r="7.8"/>
<circle cx="1579.6" cy="610.7" r="7.8"/>
<circle cx="1600.7" cy="634.8" r="7.8"/>
<circle cx="1593.1" cy="630.7" r="7.8"/>
<circle cx="1610.9" cy="621.5" r="7.8"/>
<circle cx="1601.2" cy="631.5" r="7.8"/>
<circle cx="1584.4" cy="630.0" r="7.8"/>
<circle cx="1602.8" cy="625.1" r="7.8"/>
<circle cx="1571.8" cy="601.6" r="7.8"/>
<circle cx="1617.1" cy="595.9" r="7.8"/>
<circle cx="1625.3" cy="578.1" r="7.8"/>
<circle cx="1571.8" cy="618.2" r="7.8"/>
<circle cx="1608.0" cy="627.9" r="7.8"/>
<circle cx="1576.0" cy="641.4" r="7.8"/>
<circle cx="1622.8" cy="612.7" r="7.8"/>
<circle cx="1619.0" cy="630.4" r="7.8"/>
<circle cx="1593.3" cy="637.3" r="7.8"/>
<circle cx="1621.0" cy="597.2" r="7.8"/>
<circle cx="1588.7" cy="642.3" r="7.8"/>
<circle cx="1583.9" cy="639.0" r="7.8"/>
<circle cx="1585.6" cy="624.8" r="7.8"/>
<circle cx="1595.3" cy="640.6" r="7.8"/>
<circle cx="1591.2" cy="637.0" r="7.8"/>
<circle cx="1602.0" cy="625.0" r="7.8"/>
<circle cx="1584.6" cy="635.4" r="7.8"/>
<circle cx="1615.8" cy="629.4" r="7.8"/>
<circle cx="1621.6" cy="610.8" r="7.8"/>
<circle cx="1587.3" cy="633.9" r="7.8"/>
<circle cx="1566.2" cy="599.6" r="7.8"/>
<circle cx="1614.9" cy="601.6" r="7.8"/>
<circle cx="1624.3" cy="584.8" r="7.8"/>
<circle cx="1594.8" cy="640.6" r="7.8"/>
<circle cx="1569.3" cy="633.0" r="7.8"/>
<circle cx="1604.5" cy="628.3" r="7.8"/>
<circle cx="1633.0" cy="569.3" r="7.8"/>
<circle cx="1556.0" cy="570.4" r="7.8"/>
<circle cx="1609.3" cy="617.9" r="7.8"/>
<circle cx="1591.4" cy="634.1" r="7.8"/>
<circle cx="1579.1" cy="631.4" r="7.8"/>
<circle cx="1609.8" cy="633.5" r="7.8"/>
<circle cx="1569.1" cy="631.2" r="7.8"/>
<circle cx="1605.2" cy="614.0" r="7.8"/>
<circle cx="1628.3" cy="620.4" r="7.8"/>
<circle cx="1602.5" cy="623.7" r="7.8"/>
<circle cx="1578.6" cy="636.4" r="7.8"/>
<circle cx="1558.2" cy="576.9" r="7.8"/>
<circle cx="1569.4" cy="608.3" r="7.8"/>
<circle cx="1556.8" cy="632.3" r="7.8"/>
<circle cx="1634.7" cy="582.5" r="7.8"/>
<circle cx="1592.8" cy="634.5" r="7.8"/>
<circle cx="1574.8" cy="614.8" r="7.8"/>
<circle cx="1569.1" cy="602.5" r="7.8"/>
<circle cx="1574.3" cy="608.5" r="7.8"/>
<circle cx="1590.9" cy="634.3" r="7.8"/>
<circle cx="1592.4" cy="636.1" r="7.8"/>
<circle cx="1583.2" cy="629.3" r="7.8"/>
<circle cx="1594.7" cy="639.6" r="7.8"/>
<circle cx="1597.4" cy="622.8" r="7.8"/>
<circle cx="1604.9" cy="625.7" r="7.8"/>
<circle cx="1606.5" cy="612.5" r="7.8"/>
<circle cx="1590.3" cy="623.1" r="7.8"/>
<circle cx="1589.7" cy="633.2" r="7.8"/>
<circle cx="1594.1" cy="640.0" r="7.8"/>
<circle cx="1585.9" cy="616.2" r="7.8"/>
<circle cx="1596.1" cy="633.8" r="7.8"/>
<circle cx="1601.5" cy="625.3" r="7.8"/>
<circle cx="1597.6" cy="625.8" r="7.8"/>
<circle cx="1582.1" cy="628.4" r="7.8"/>
<circle cx="1586.0" cy="622.8" r="7.8"/>
<circle cx="1609.2" cy="624.0" r="7.8"/>
<circle cx="1587.7" cy="635.2" r="7.8"/>
<circle cx="1604.1" cy="635.4" r="7.8"/>
<circle cx="1603.1" cy="630.6" r="7.8"/>
<circle cx="1594.2" cy="638.3" r="7.8"/>
<circle cx="1587.9" cy="620.1" r="7.8"/>
<circle cx="1599.1" cy="629.1" r="7.8"/>
<circle cx="1588.9" cy="627.3" r="7.8"/>
<circle cx="1595.5" cy="636.8" r="7.8"/>
<circle cx="1598.2" cy="632.8" r="7.8"/>
<circle cx="1590.5" cy="631.3" r="7.8"/>
<circle cx="1595.0" cy="637.9" r="7.8"/>
<circle cx="1594.3" cy="630.8" r="7.8"/>
<circle cx="1585.6" cy="624.9" r="7.8"/>
<circle cx="1595.4" cy="637.7" r="7.8"/>
<circle cx="1591.2" cy="624.9" r="7.8"/>
<circle cx="1580.1" cy="624.0" r="7.8"/>
<circle cx="1594.0" cy="630.7" r="7.8"/>
<circle cx="1594.5" cy="636.6" r="7.8"/>
<circle cx="1591.5" cy="638.4" r="7.8"/>
<circle cx="1577.9" cy="623.9" r="7.8"/>
<circle cx="1604.4" cy="616.0" r="7.8"/>
<circle cx="1603.5" cy="633.0" r="7.8"/>
<circle cx="1603.2" cy="627.9" r="7.8"/>
<circle cx="1600.2" cy="629.6" r="7.8"/>
<circle cx="1585.4" cy="624.4" r="7.8"/>
<circle cx="1598.3" cy="636.0" r="7.8"/>
<circle cx="1588.5" cy="628.5" r="7.8"/>
<circle cx="1617.6" cy="583.6" r="7.8"/>
<circle cx="1592.3" cy="638.6" r="7.8"/>
<circle cx="1603.4" cy="623.3" r="7.8"/>
<circle cx="1582.7" cy="617.1" r="7.8"/>
<circle cx="1586.2" cy="630.3" r="7.8"/>
<circle cx="1592.2" cy="635.2" r="7.8"/>
<circle cx="1603.7" cy="619.5" r="7.8"/>
<circle cx="1602.3" cy="628.5" r="7.8"/>
<circle cx="1599.9" cy="624.3" r="7.8"/>
<circle cx="1579.9" cy="605.1" r="7.8"/>
<circle cx="1607.7" cy="609.1" r="7.8"/>
<circle cx="1588.5" cy="616.3" r="7.8"/>
<circle cx="1612.2" cy="623.3" r="7.8"/>
<circle cx="1614.6" cy="615.8" r="7.8"/>
<circle cx="1604.9" cy="622.6" r="7.8"/>
<circle cx="1606.4" cy="629.2" r="7.8"/>
<circle cx="1585.4" cy="626.0" r="7.8"/>
<circle cx="1621.2" cy="596.6" r="7.8"/>
<circle cx="1599.2" cy="636.6" r="7.8"/>
<circle cx="1606.5" cy="618.9" r="7.8"/>
<circle cx="1589.2" cy="625.3" r="7.8"/>
<circle cx="1596.6" cy="631.2" r="7.8"/>
<circle cx="1586.1" cy="630.0" r="7.8"/>
<circle cx="1594.9" cy="627.5" r="7.8"/>
<circle cx="1597.3" cy="634.2" r="7.8"/>
<circle cx="1599.6" cy="623.9" r="7.8"/>
<circle cx="1610.2" cy="623.8" r="7.8"/>
<circle cx="1601.7" cy="619.7" r="7.8"/>
<circle cx="1599.4" cy="633.3" r="7.8"/>
<circle cx="1597.5" cy="628.3" r="7.8"/>
<circle cx="1615.9" cy="609.7" r="7.8"/>
<circle cx="1591.8" cy="634.0" r="7.8"/>
<circle cx="1608.3" cy="624.0" r="7.8"/>
<circle cx="1578.9" cy="625.4" r="7.8"/>
<circle cx="1589.0" cy="631.5" r="7.8"/>
<circle cx="1601.0" cy="633.4" r="7.8"/>
<circle cx="1595.7" cy="640.6" r="7.8"/>
<circle cx="1625.2" cy="614.5" r="7.8"/>
<circle cx="1621.2" cy="579.0" r="7.8"/>
<circle cx="1583.0" cy="630.9" r="7.8"/>
<circle cx="1587.2" cy="619.5" r="7.8"/>
<circle cx="1595.8" cy="630.8" r="7.8"/>
<circle cx="1613.4" cy="602.4" r="7.8"/>
<circle cx="1607.8" cy="611.7" r="7.8"/>
<circle cx="1600.2" cy="631.1" r="7.8"/>
<circle cx="1584.0" cy="615.4" r="7.8"/>
<circle cx="1589.3" cy="630.3" r="7.8"/>
<circle cx="1572.1" cy="591.2" r="7.8"/>
<circle cx="1582.8" cy="634.2" r="7.8"/>
<circle cx="1601.2" cy="634.8" r="7.8"/>
<circle cx="1604.6" cy="624.3" r="7.8"/>
<circle cx="1585.0" cy="614.6" r="7.8"/>
<circle cx="1598.2" cy="635.6" r="7.8"/>
<circle cx="1612.4" cy="625.3" r="7.8"/>
<circle cx="1598.7" cy="627.6" r="7.8"/>
<circle cx="1594.3" cy="634.4" r="7.8"/>
<circle cx="1602.9" cy="628.2" r="7.8"/>
<circle cx="1602.1" cy="620.8" r="7.8"/>
<circle cx="1598.0" cy="632.1" r="7.8"/>
<circle cx="1592.2" cy="636.8" r="7.8"/>
<circle cx="1593.3" cy="633.1" r="7.8"/>
<circle cx="1598.1" cy="638.4" r="7.8"/>
<circle cx="1592.1" cy="627.7" r="7.8"/>
<circle cx="1609.7" cy="621.4" r="7.8"/>
<circle cx="1605.5" cy="615.1" r="7.8"/>
<circle cx="1607.4" cy="629.3" r="7.8"/>
<circle cx="1616.1" cy="625.1" r="7.8"/>
<circle cx="1611.9" cy="628.6" r="7.8"/>
<circle cx="1610.4" cy="624.1" r="7.8"/>
<circle cx="1600.7" cy="627.1" r="7.8"/>
<circle cx="1595.4" cy="634.2" r="7.8"/>
<circle cx="1618.7" cy="590.8" r="7.8"/>
<circle cx="1590.9" cy="626.4" r="7.8"/>
<circle cx="1591.4" cy="636.4" r="7.8"/>
<circle cx="1589.1" cy="634.7" r="7.8"/>
<circle cx="1599.2" cy="631.7" r="7.8"/>
<circle cx="1601.1" cy="634.3" r="7.8"/>
<circle cx="1606.8" cy="610.6" r="7.8"/>
<circle cx="1595.1" cy="627.4" r="7.8"/>
<circle cx="1581.0" cy="613.2" r="7.8"/>
<circle cx="1600.2" cy="621.3" r="7.8"/>
<circle cx="1606.3" cy="629.7" r="7.8"/>
<circle cx="1597.5" cy="627.6" r="7.8"/>
<circle cx="1596.0" cy="640.4" r="7.8"/>
<circle cx="1602.5" cy="614.9" r="7.8"/>
<circle cx="1610.6" cy="602.9" r="7.8"/>
<circle cx="1596.6" cy="631.6" r="7.8"/>
<circle cx="1584.0" cy="607.8" r="7.8"/>
<circle cx="1591.9" cy="631.7" r="7.8"/>
<circle cx="1595.7" cy="632.2" r="7.8"/>
<circle cx="1580.4" cy="615.4" r="7.8"/>
<circle cx="1604.4" cy="618.2" r="7.8"/>
<circle cx="1590.0" cy="631.4" r="7.8"/>
<circle cx="1601.9" cy="625.6" r="7.8"/>
<circle cx="1599.0" cy="630.3" r="7.8"/>
<circle cx="1594.3" cy="630.6" r="7.8"/>
<circle cx="1612.4" cy="610.4" r="7.8"/>
<circle cx="1591.9" cy="629.3" r="7.8"/>
<circle cx="1590.9" cy="639.2" r="7.8"/>
<circle cx="1599.9" cy="635.8" r="7.8"/>
<circle cx="1605.0" cy="623.8" r="7.8"/>
<circle cx="1597.2" cy="629.9" r="7.8"/>
<circle cx="1588.0" cy="621.0" r="7.8"/>
<circle cx="1603.6" cy="633.7" r="7.8"/>
<circle cx="1602.8" cy="635.3" r="7.8"/>
<circle cx="1616.5" cy="619.4" r="7.8"/>
<circle cx="1595.1" cy="641.3" r="7.8"/>
<circle cx="1599.2" cy="632.1" r="7.8"/>
<circle cx="1591.9" cy="632.7" r="7.8"/>
<circle cx="1583.3" cy="622.7" r="7.8"/>
<circle cx="1597.9" cy="626.0" r="7.8"/>
<circle cx="1605.1" cy="623.2" r="7.8"/>
<circle cx="1587.7" cy="624.5" r="7.8"/>
<circle cx="1590.9" cy="636.9" r="7.8"/>
<circle cx="1586.2" cy="621.9" r="7.8"/>
<circle cx="1609.7" cy="622.9" r="7.8"/>
<circle cx="1591.3" cy="633.2" r="7.8"/>
<circle cx="1608.7" cy="625.0" r="7.8"/>
<circle cx="1611.4" cy="625.5" r="7.8"/>
<circle cx="1610.6" cy="620.8" r="7.8"/>
<circle cx="1620.6" cy="595.1" r="7.8"/>
<circle cx="1608.7" cy="626.3" r="7.8"/>
<circle cx="1623.8" cy="594.6" r="7.8"/>
<circle cx="1627.8" cy="595.2" r="7.8"/>
<circle cx="1612.8" cy="616.2" r="7.8"/>
<circle cx="1635.9" cy="571.1" r="7.8"/>
<circle cx="1608.2" cy="625.4" r="7.8"/>
<circle cx="1628.2" cy="599.8" r="7.8"/>
<circle cx="1637.6" cy="571.9" r="7.8"/>
<circle cx="1629.7" cy="603.7" r="7.8"/>
<circle cx="1605.3" cy="631.0" r="7.8"/>
<circle cx="1608.2" cy="624.3" r="7.8"/>
<circle cx="1607.0" cy="626.0" r="7.8"/>
<circle cx="1610.3" cy="622.9" r="7.8"/>
<circle cx="1626.2" cy="604.3" r="7.8"/>
<circle cx="1643.5" cy="555.8" r="7.8"/>
<circle cx="1619.9" cy="608.4" r="7.8"/>
<circle cx="1636.7" cy="589.6" r="7.8"/>
<circle cx="1616.0" cy="606.4" r="7.8"/>
<circle cx="1644.1" cy="556.3" r="7.8"/>
<circle cx="1620.5" cy="600.8" r="7.8"/>
<circle cx="1613.0" cy="608.6" r="7.8"/>
<circle cx="1612.8" cy="622.7" r="7.8"/>
<circle cx="1609.7" cy="621.6" r="7.8"/>
<circle cx="1608.4" cy="618.9" r="7.8"/>
<circle cx="1642.2" cy="554.0" r="7.8"/>
<circle cx="1634.1" cy="596.8" r="7.8"/>
<circle cx="1611.0" cy="615.5" r="7.8"/>
<circle cx="1629.2" cy="602.0" r="7.8"/>
<circle cx="1623.7" cy="603.6" r="7.8"/>
<circle cx="1608.0" cy="620.2" r="7.8"/>
<circle cx="1644.7" cy="558.7" r="7.8"/>
<circle cx="1614.6" cy="621.9" r="7.8"/>
<circle cx="1628.1" cy="602.0" r="7.8"/>
<circle cx="1619.6" cy="596.4" r="7.8"/>
<circle cx="1624.7" cy="597.7" r="7.8"/>
<circle cx="1644.8" cy="567.2" r="7.8"/>
<circle cx="1635.8" cy="592.7" r="7.8"/>
<circle cx="1614.7" cy="614.7" r="7.8"/>
<circle cx="1633.3" cy="595.1" r="7.8"/>
<circle cx="1623.7" cy="610.4" r="7.8"/>
<circle cx="1614.7" cy="617.7" r="7.8"/>
<circle cx="1627.5" cy="593.8" r="7.8"/>
<circle cx="1614.5" cy="613.6" r="7.8"/>
<circle cx="1637.6" cy="580.0" r="7.8"/>
<circle cx="1616.9" cy="613.7" r="7.8"/>
<circle cx="1609.1" cy="622.6" r="7.8"/>
<circle cx="1639.7" cy="562.9" r="7.8"/>
<circle cx="1611.9" cy="611.2" r="7.8"/>
<circle cx="1633.5" cy="573.0" r="7.8"/>
<circle cx="1639.9" cy="588.5" r="7.8"/>
<circle cx="1634.2" cy="581.0" r="7.8"/>
<circle cx="1643.1" cy="561.4" r="7.8"/>
<circle cx="1616.0" cy="615.3" r="7.8"/>
<circle cx="1620.1" cy="606.6" r="7.8"/>
<circle cx="1630.6" cy="579.5" r="7.8"/>
<circle cx="1609.9" cy="617.9" r="7.8"/>
<circle cx="1644.7" cy="560.7" r="7.8"/>
<circle cx="1631.6" cy="603.7" r="7.8"/>
<circle cx="1632.3" cy="603.8" r="7.8"/>
<circle cx="1628.5" cy="588.2" r="7.8"/>
<circle cx="1625.4" cy="596.5" r="7.8"/>
<circle cx="1612.9" cy="621.8" r="7.8"/>
<circle cx="1609.4" cy="628.0" r="7.8"/>
<circle cx="1615.3" cy="617.8" r="7.8"/>
<circle cx="1606.3" cy="624.5" r="7.8"/>
<circle cx="1630.1" cy="596.2" r="7.8"/>
<circle cx="1612.4" cy="614.7" r="7.8"/>
<circle cx="1642.0" cy="589.5" r="7.8"/>
<circle cx="1609.5" cy="619.2" r="7.8"/>
<circle cx="1618.0" cy="617.3" r="7.8"/>
<circle cx="1639.5" cy="562.2" r="7.8"/>
<circle cx="1630.0" cy="599.7" r="7.8"/>
<circle cx="1621.7" cy="615.9" r="7.8"/>
<circle cx="1634.4" cy="574.8" r="7.8"/>
<circle cx="1621.2" cy="608.8" r="7.8"/>
<circle cx="1611.4" cy="619.9" r="7.8"/>
<circle cx="1644.3" cy="587.3" r="7.8"/>
<circle cx="1640.0" cy="589.7" r="7.8"/>
<circle cx="1634.7" cy="588.9" r="7.8"/>
<circle cx="1616.4" cy="615.5" r="7.8"/>
<circle cx="1625.4" cy="598.3" r="7.8"/>
<circle cx="1608.7" cy="625.4" r="7.8"/>
<circle cx="1606.7" cy="625.9" r="7.8"/>
<circle cx="1643.0" cy="593.8" r="7.8"/>
<circle cx="1621.9" cy="603.4" r="7.8"/>
<circle cx="1613.9" cy="613.2" r="7.8"/>
<circle cx="1636.7" cy="567.2" r="7.8"/>
<circle cx="1626.2" cy="591.2" r="7.8"/>
<circle cx="1631.6" cy="603.6" r="7.8"/>
<circle cx="1609.5" cy="623.1" r="7.8"/>
<circle cx="1623.0" cy="595.3" r="7.8"/>
<circle cx="1621.5" cy="598.8" r="7.8"/>
<circle cx="1616.9" cy="619.6" r="7.8"/>
<circle cx="1612.3" cy="624.8" r="7.8"/>
<circle cx="1640.1" cy="577.6" r="7.8"/>
<circle cx="1634.9" cy="586.8" r="7.8"/>
<circle cx="1627.7" cy="606.0" r="7.8"/>
<circle cx="1616.1" cy="616.4" r="7.8"/>
<circle cx="1630.5" cy="596.0" r="7.8"/>
<circle cx="1621.6" cy="596.9" r="7.8"/>
<circle cx="1605.2" cy="629.6" r="7.8"/>
<circle cx="1630.1" cy="582.0" r="7.8"/>
<circle cx="1631.8" cy="577.9" r="7.8"/>
<circle cx="1643.6" cy="583.5" r="7.8"/>
<circle cx="1638.2" cy="566.3" r="7.8"/>
<circle cx="1608.3" cy="628.1" r="7.8"/>
<circle cx="1617.8" cy="611.8" r="7.8"/>
<circle cx="1606.9" cy="629.4" r="7.8"/>
<circle cx="1607.9" cy="625.7" r="7.8"/>
<circle cx="1623.8" cy="606.5" r="7.8"/>
<circle cx="1613.5" cy="611.0" r="7.8"/>
<circle cx="1607.6" cy="620.0" r="7.8"/>
<circle cx="1630.2" cy="596.9" r="7.8"/>
<circle cx="1642.0" cy="581.6" r="7.8"/>
<circle cx="1638.2" cy="561.9" r="7.8"/>
<circle cx="1607.3" cy="628.3" r="7.8"/>
<circle cx="1568.9" cy="610.8" r="7.8"/>
<circle cx="1573.1" cy="611.1" r="7.8"/>
<circle cx="1575.5" cy="621.0" r="7.8"/>
<circle cx="1557.4" cy="593.5" r="7.8"/>
<circle cx="1563.3" cy="598.2" r="7.8"/>
<circle cx="1557.2" cy="602.3" r="7.8"/>
<circle cx="1579.1" cy="617.5" r="7.8"/>
<circle cx="1578.0" cy="620.4" r="7.8"/>
<circle cx="1581.4" cy="624.2" r="7.8"/>
<circle cx="1567.3" cy="600.9" r="7.8"/>
<circle cx="1552.5" cy="570.7" r="7.8"/>
<circle cx="1584.2" cy="631.5" r="7.8"/>
<circle cx="1555.6" cy="598.5" r="7.8"/>
<circle cx="1559.9" cy="605.3" r="7.8"/>
<circle cx="1553.0" cy="569.2" r="7.8"/>
<circle cx="1566.1" cy="604.8" r="7.8"/>
<circle cx="1576.8" cy="615.0" r="7.8"/>
<circle cx="1585.3" cy="632.4" r="7.8"/>
<circle cx="1571.6" cy="602.8" r="7.8"/>
<circle cx="1555.0" cy="599.9" r="7.8"/>
<circle cx="1583.7" cy="626.1" r="7.8"/>
<circle cx="1555.4" cy="603.5" r="7.8"/>
<circle cx="1559.2" cy="583.1" r="7.8"/>
<circle cx="1559.8" cy="597.6" r="7.8"/>
<circle cx="1583.7" cy="626.6" r="7.8"/>
<circle cx="1566.6" cy="601.6" r="7.8"/>
<circle cx="1582.2" cy="628.6" r="7.8"/>
<circle cx="1571.9" cy="612.1" r="7.8"/>
<circle cx="1569.0" cy="617.7" r="7.8"/>
<circle cx="1580.2" cy="619.5" r="7.8"/>
<circle cx="1559.4" cy="595.2" r="7.8"/>
<circle cx="1561.6" cy="603.0" r="7.8"/>
<circle cx="1584.6" cy="629.9" r="7.8"/>
<circle cx="1573.6" cy="615.2" r="7.8"/>
<circle cx="1565.5" cy="610.5" r="7.8"/>
<circle cx="1574.5" cy="617.1" r="7.8"/>
<circle cx="1578.8" cy="618.6" r="7.8"/>
<circle cx="1577.5" cy="618.2" r="7.8"/>
<circle cx="1570.0" cy="598.9" r="7.8"/>
<circle cx="1574.3" cy="610.5" r="7.8"/>
<circle cx="1560.4" cy="586.1" r="7.8"/>
<circle cx="1569.2" cy="614.8" r="7.8"/>
<circle cx="1583.6" cy="627.4" r="7.8"/>
<circle cx="1584.7" cy="631.2" r="7.8"/>
<circle cx="1552.6" cy="593.4" r="7.8"/>
<circle cx="1561.0" cy="600.8" r="7.8"/>
<circle cx="1561.3" cy="594.6" r="7.8"/>
<circle cx="1563.6" cy="601.9" r="7.8"/>
<circle cx="1562.8" cy="601.2" r="7.8"/>
<circle cx="1562.0" cy="601.0" r="7.8"/>
<circle cx="1568.9" cy="596.9" r="7.8"/>
<circle cx="1560.5" cy="597.6" r="7.8"/>
<circle cx="1578.1" cy="614.3" r="7.8"/>
<circle cx="1552.9" cy="568.1" r="7.8"/>
<circle cx="1586.5" cy="630.8" r="7.8"/>
<circle cx="1558.6" cy="578.8" r="7.8"/>
<circle cx="1584.0" cy="623.9" r="7.8"/>
<circle cx="1576.3" cy="612.7" r="7.8"/>
<circle cx="1583.7" cy="625.7" r="7.8"/>
<circle cx="1567.5" cy="611.3" r="7.8"/>
<circle cx="1560.2" cy="635.6" r="7.8"/>
<circle cx="1541.9" cy="632.3" r="7.8"/>
<circle cx="1564.9" cy="622.9" r="7.8"/>
<circle cx="1608.4" cy="636.2" r="7.8"/>
<circle cx="1595.7" cy="640.8" r="7.8"/>
<circle cx="1640.2" cy="623.0" r="7.8"/>
<circle cx="1576.6" cy="640.1" r="7.8"/>
<circle cx="1621.4" cy="637.7" r="7.8"/>
<circle cx="1585.0" cy="632.2" r="7.8"/>
<circle cx="1565.5" cy="625.7" r="7.8"/>
<circle cx="1643.1" cy="621.4" r="7.8"/>
<circle cx="1575.5" cy="638.6" r="7.8"/>
<circle cx="1607.1" cy="637.6" r="7.8"/>
<circle cx="1569.7" cy="621.0" r="7.8"/>
<circle cx="1625.3" cy="630.4" r="7.8"/>
<circle cx="1558.9" cy="623.9" r="7.8"/>
<circle cx="1543.3" cy="634.7" r="7.8"/>
<circle cx="1622.3" cy="636.4" r="7.8"/>
<circle cx="1603.7" cy="623.6" r="7.8"/>
<circle cx="1625.6" cy="638.2" r="7.8"/>
<circle cx="1545.4" cy="636.9" r="7.8"/>
<circle cx="1643.3" cy="634.7" r="7.8"/>
<circle cx="1541.3" cy="635.4" r="7.8"/>
<circle cx="1668.4" cy="639.1" r="7.8"/>
<circle cx="1666.0" cy="636.4" r="7.8"/>
<circle cx="1646.6" cy="638.9" r="7.8"/>
<circle cx="1578.3" cy="631.1" r="7.8"/>
<circle cx="1624.9" cy="627.6" r="7.8"/>
<circle cx="1673.3" cy="631.5" r="7.8"/>
<circle cx="1634.9" cy="641.2" r="7.8"/>
<circle cx="1627.0" cy="629.8" r="7.8"/>
<circle cx="1538.7" cy="627.2" r="7.8"/>
<circle cx="1539.6" cy="638.8" r="7.8"/>
<circle cx="1622.5" cy="632.1" r="7.8"/>
<circle cx="1599.6" cy="621.5" r="7.8"/>
<circle cx="1603.2" cy="624.7" r="7.8"/>
<circle cx="1561.3" cy="632.8" r="7.8"/>
<circle cx="1577.2" cy="637.1" r="7.8"/>
<circle cx="1659.1" cy="639.2" r="7.8"/>
<circle cx="1585.6" cy="641.7" r="7.8"/>
<circle cx="1670.4" cy="637.6" r="7.8"/>
<circle cx="1557.9" cy="632.1" r="7.8"/>
<circle cx="1608.9" cy="631.8" r="7.8"/>
<circle cx="1623.9" cy="638.9" r="7.8"/>
<circle cx="1630.5" cy="632.8" r="7.8"/>
<circle cx="1647.2" cy="633.1" r="7.8"/>
<circle cx="1640.4" cy="625.0" r="7.8"/>
<circle cx="1649.0" cy="622.6" r="7.8"/>
<circle cx="1542.8" cy="621.8" r="7.8"/>
<circle cx="1545.8" cy="632.1" r="7.8"/>
<circle cx="1553.1" cy="624.1" r="7.8"/>
<circle cx="1562.2" cy="629.2" r="7.8"/>
<circle cx="1635.0" cy="640.5" r="7.8"/>
<circle cx="1609.8" cy="641.1" r="7.8"/>
<circle cx="1633.5" cy="629.5" r="7.8"/>
<circle cx="1618.4" cy="627.8" r="7.8"/>
<circle cx="1612.9" cy="628.5" r="7.8"/>
<circle cx="1560.5" cy="632.1" r="7.8"/>
<circle cx="1654.9" cy="629.8" r="7.8"/>
<circle cx="1642.7" cy="628.2" r="7.8"/>
<circle cx="1640.3" cy="627.4" r="7.8"/>
<circle cx="1664.9" cy="639.6" r="7.8"/>
<circle cx="1589.9" cy="632.3" r="7.8"/>
<circle cx="1593.6" cy="635.5" r="7.8"/>
<circle cx="1600.5" cy="632.2" r="7.8"/>
<circle cx="1583.5" cy="634.1" r="7.8"/>
<circle cx="1606.1" cy="641.1" r="7.8"/>
<circle cx="1622.2" cy="625.5" r="7.8"/>
<circle cx="1616.7" cy="631.3" r="7.8"/>
<circle cx="1559.2" cy="623.6" r="7.8"/>
<circle cx="1636.0" cy="641.8" r="7.8"/>
<circle cx="1544.4" cy="640.6" r="7.8"/>
<circle cx="1563.5" cy="640.0" r="7.8"/>
<circle cx="1590.0" cy="623.7" r="7.8"/>
<circle cx="1650.2" cy="631.6" r="7.8"/>
<circle cx="1569.8" cy="626.3" r="7.8"/>
<circle cx="1650.3" cy="641.0" r="7.8"/>
<circle cx="1615.8" cy="626.4" r="7.8"/>
<circle cx="1632.4" cy="641.0" r="7.8"/>
<circle cx="1576.0" cy="622.8" r="7.8"/>
<circle cx="1670.4" cy="631.5" r="7.8"/>
<circle cx="1625.6" cy="621.8" r="7.8"/>
<circle cx="1545.8" cy="628.9" r="7.8"/>
<circle cx="1647.4" cy="629.6" r="7.8"/>
<circle cx="1599.9" cy="639.1" r="7.8"/>
<circle cx="1651.4" cy="628.9" r="7.8"/>
<circle cx="1632.6" cy="626.3" r="7.8"/>
<circle cx="1669.8" cy="629.4" r="7.8"/>
<circle cx="1661.8" cy="627.7" r="7.8"/>
<circle cx="1627.8" cy="623.4" r="7.8"/>
<circle cx="1641.6" cy="627.5" r="7.8"/>
<circle cx="1542.9" cy="628.7" r="7.8"/>
<circle cx="1645.8" cy="631.2" r="7.8"/>
<circle cx="1637.4" cy="632.8" r="7.8"/>
<circle cx="1666.5" cy="627.2" r="7.8"/>
<circle cx="1640.2" cy="624.6" r="7.8"/>
<circle cx="1620.9" cy="626.8" r="7.8"/>
<circle cx="1643.5" cy="640.5" r="7.8"/>
<circle cx="1618.8" cy="637.1" r="7.8"/>
<circle cx="1602.1" cy="629.3" r="7.8"/>
<circle cx="1671.7" cy="630.3" r="7.8"/>
<circle cx="1603.7" cy="622.7" r="7.8"/>
<circle cx="1548.7" cy="621.3" r="7.8"/>
<circle cx="1540.9" cy="623.2" r="7.8"/>
<circle cx="1586.1" cy="629.5" r="7.8"/>
<circle cx="1598.4" cy="627.0" r="7.8"/>
<circle cx="1612.4" cy="624.2" r="7.8"/>
<circle cx="1544.3" cy="639.5" r="7.8"/>
<circle cx="1611.6" cy="635.9" r="7.8"/>
<circle cx="1668.7" cy="642.2" r="7.8"/>
<circle cx="1639.7" cy="629.1" r="7.8"/>
<circle cx="1633.0" cy="622.7" r="7.8"/>
<circle cx="1606.6" cy="642.6" r="7.8"/>
<circle cx="1658.3" cy="639.9" r="7.8"/>
<circle cx="1547.2" cy="638.3" r="7.8"/>
<circle cx="1643.3" cy="625.7" r="7.8"/>
<circle cx="1634.3" cy="634.6" r="7.8"/>
<circle cx="1587.5" cy="638.4" r="7.8"/>
<circle cx="1603.2" cy="634.6" r="7.8"/>
<circle cx="1555.8" cy="637.1" r="7.8"/>
<circle cx="1535.4" cy="637.2" r="7.8"/>
<circle cx="1581.5" cy="630.4" r="7.8"/>
<circle cx="1581.8" cy="628.1" r="7.8"/>
<circle cx="1607.4" cy="637.3" r="7.8"/>
<circle cx="1582.9" cy="630.7" r="7.8"/>
<circle cx="1659.0" cy="642.1" r="7.8"/>
<circle cx="1554.7" cy="621.5" r="7.8"/>
<circle cx="1649.8" cy="640.5" r="7.8"/>
<circle cx="1610.7" cy="630.5" r="7.8"/>
<circle cx="1565.5" cy="621.0" r="7.8"/>
<circle cx="1657.1" cy="635.7" r="7.8"/>
<circle cx="1611.9" cy="636.4" r="7.8"/>
<circle cx="1548.0" cy="626.6" r="7.8"/>
<circle cx="1655.8" cy="632.5" r="7.8"/>
<circle cx="1572.7" cy="636.9" r="7.8"/>
<circle cx="1614.5" cy="630.2" r="7.8"/>
<circle cx="1629.5" cy="624.7" r="7.8"/>
<circle cx="1638.6" cy="628.1" r="7.8"/>
<circle cx="1634.8" cy="637.5" r="7.8"/>
<circle cx="1650.9" cy="628.1" r="7.8"/>
<circle cx="1642.4" cy="622.4" r="7.8"/>
<circle cx="1560.9" cy="638.4" r="7.8"/>
<circle cx="1612.5" cy="628.5" r="7.8"/>
<circle cx="1603.6" cy="631.8" r="7.8"/>
<circle cx="1553.2" cy="628.2" r="7.8"/>
<circle cx="1595.2" cy="639.7" r="7.8"/>
<circle cx="1643.2" cy="637.6" r="7.8"/>
<circle cx="1596.7" cy="635.1" r="7.8"/>
<circle cx="1589.4" cy="624.4" r="7.8"/>
<circle cx="1601.2" cy="634.3" r="7.8"/>
<circle cx="1613.6" cy="635.3" r="7.8"/>
<circle cx="1641.6" cy="626.5" r="7.8"/>
<circle cx="1653.9" cy="639.7" r="7.8"/>
<circle cx="1575.0" cy="635.7" r="7.8"/>
<circle cx="1571.4" cy="630.7" r="7.8"/>
<circle cx="1578.7" cy="635.1" r="7.8"/>
<circle cx="1655.6" cy="629.7" r="7.8"/>
<circle cx="1660.6" cy="629.6" r="7.8"/>
<circle cx="1582.4" cy="639.6" r="7.8"/>
<circle cx="1651.2" cy="639.8" r="7.8"/>
<circle cx="1610.7" cy="625.6" r="7.8"/>
<circle cx="1668.6" cy="633.6" r="7.8"/>
<circle cx="1614.3" cy="639.4" r="7.8"/>
<circle cx="1661.1" cy="641.0" r="7.8"/>
<circle cx="1612.1" cy="633.6" r="7.8"/>
<circle cx="1583.4" cy="624.3" r="7.8"/>
<circle cx="1653.4" cy="638.2" r="7.8"/>
<circle cx="1581.7" cy="621.0" r="7.8"/>
<circle cx="1644.9" cy="642.2" r="7.8"/>
<circle cx="1608.8" cy="629.8" r="7.8"/>
<circle cx="1617.9" cy="613.0" r="7.8"/>
<circle cx="1602.8" cy="634.3" r="7.8"/>
<circle cx="1578.0" cy="598.5" r="7.8"/>
<circle cx="1583.2" cy="626.2" r="7.8"/>
<circle cx="1604.7" cy="614.4" r="7.8"/>
<circle cx="1635.7" cy="612.9" r="7.8"/>
<circle cx="1592.6" cy="632.5" r="7.8"/>
<circle cx="1585.8" cy="607.4" r="7.8"/>
<circle cx="1590.8" cy="620.1" r="7.8"/>
<circle cx="1645.1" cy="603.6" r="7.8"/>
<circle cx="1578.7" cy="628.6" r="7.8"/>
<circle cx="1570.0" cy="614.6" r="7.8"/>
<circle cx="1635.4" cy="607.0" r="7.8"/>
<circle cx="1565.9" cy="629.5" r="7.8"/>
<circle cx="1630.6" cy="605.2" r="7.8"/>
<circle cx="1611.2" cy="600.3" r="7.8"/>
<circle cx="1641.3" cy="594.9" r="7.8"/>
<circle cx="1583.3" cy="617.4" r="7.8"/>
<circle cx="1632.1" cy="632.2" r="7.8"/>
<circle cx="1562.4" cy="624.9" r="7.8"/>
<circle cx="1625.4" cy="600.7" r="7.8"/>
<circle cx="1584.2" cy="630.2" r="7.8"/>
<circle cx="1596.3" cy="627.9" r="7.8"/>
<circle cx="1626.8" cy="606.9" r="7.8"/>
<circle cx="1612.1" cy="615.4" r="7.8"/>
<circle cx="1596.0" cy="625.4" r="7.8"/>
<circle cx="1581.0" cy="629.0" r="7.8"/>
<circle cx="1623.0" cy="608.2" r="7.8"/>
<circle cx="1596.7" cy="631.5" r="7.8"/>
<circle cx="1576.7" cy="598.6" r="7.8"/>
<circle cx="1590.1" cy="628.7" r="7.8"/>
<circle cx="1626.7" cy="625.7" r="7.8"/>
<circle cx="1559.8" cy="619.4" r="7.8"/>
<circle cx="1583.7" cy="617.1" r="7.8"/>
<circle cx="1620.4" cy="630.1" r="7.8"/>
<circle cx="1610.0" cy="598.4" r="7.8"/>
<circle cx="1594.3" cy="630.0" r="7.8"/>
<circle cx="1568.6" cy="620.7" r="7.8"/>
<circle cx="1558.8" cy="608.7" r="7.8"/>
<circle cx="1590.9" cy="617.4" r="7.8"/>
<circle cx="1616.9" cy="608.9" r="7.8"/>
<circle cx="1578.8" cy="616.9" r="7.8"/>
<circle cx="1636.3" cy="605.8" r="7.8"/>
<circle cx="1610.7" cy="602.7" r="7.8"/>
<circle cx="1595.8" cy="627.6" r="7.8"/>
<circle cx="1622.9" cy="624.8" r="7.8"/>
<circle cx="1581.7" cy="633.2" r="7.8"/>
<circle cx="1635.5" cy="620.5" r="7.8"/>
<circle cx="1587.8" cy="625.2" r="7.8"/>
<circle cx="1555.0" cy="599.7" r="7.8"/>
<circle cx="1643.2" cy="629.8" r="7.8"/>
<circle cx="1599.5" cy="617.7" r="7.8"/>
<circle cx="1636.4" cy="630.9" r="7.8"/>
<circle cx="1564.4" cy="620.6" r="7.8"/>
<circle cx="1572.6" cy="617.0" r="7.8"/>
<circle cx="1598.4" cy="618.1" r="7.8"/>
<circle cx="1635.7" cy="594.9" r="7.8"/>
<circle cx="1562.9" cy="631.7" r="7.8"/>
<circle cx="1603.3" cy="629.8" r="7.8"/>
<circle cx="1623.2" cy="615.2" r="7.8"/>
<circle cx="1589.9" cy="631.3" r="7.8"/>
<circle cx="1594.9" cy="625.1" r="7.8"/>
<circle cx="1639.1" cy="608.6" r="7.8"/>
<circle cx="1603.2" cy="626.0" r="7.8"/>
<circle cx="1617.1" cy="609.1" r="7.8"/>
<circle cx="1615.5" cy="606.0" r="7.8"/>
<circle cx="1635.8" cy="598.7" r="7.8"/>
<circle cx="1585.5" cy="608.4" r="7.8"/>
<circle cx="1604.1" cy="622.0" r="7.8"/>
<circle cx="1573.9" cy="602.6" r="7.8"/>
<circle cx="1584.7" cy="604.1" r="7.8"/>
<circle cx="1629.0" cy="611.7" r="7.8"/>
<circle cx="1641.9" cy="603.7" r="7.8"/>
<circle cx="1584.2" cy="619.0" r="7.8"/>
<circle cx="1623.6" cy="617.9" r="7.8"/>
<circle cx="1603.2" cy="629.6" r="7.8"/>
<circle cx="1617.3" cy="629.7" r="7.8"/>
<circle cx="1587.7" cy="628.0" r="7.8"/>
<circle cx="1586.5" cy="625.9" r="7.8"/>
<circle cx="1573.2" cy="610.3" r="7.8"/>
<circle cx="1693.5" cy="412.8" r="7.8"/>
<circle cx="1697.7" cy="428.3" r="7.8"/>
<circle cx="1703.8" cy="513.6" r="7.8"/>
<circle cx="1683.3" cy="452.7" r="7.8"/>
<circle cx="1677.1" cy="597.3" r="7.8"/>
<circle cx="1687.4" cy="541.8" r="7.8"/>
<circle cx="1696.9" cy="538.4" r="7.8"/>
<circle cx="1711.7" cy="451.6" r="7.8"/>
<circle cx="1650.0" cy="532.0" r="7.8"/>
<circle cx="1713.1" cy="399.2" r="7.8"/>
<circle cx="1644.4" cy="602.2" r="7.8"/>
<circle cx="1625.6" cy="602.5" r="7.8"/>
<circle cx="1706.7" cy="411.0" r="7.8"/>
<circle cx="1647.8" cy="602.2" r="7.8"/>
<circle cx="1711.0" cy="386.4" r="7.8"/>
<circle cx="1660.9" cy="538.1" r="7.8"/>
<circle cx="1660.5" cy="534.9" r="7.8"/>
<circle cx="1714.3" cy="422.2" r="7.8"/>
<circle cx="1702.7" cy="453.0" r="7.8"/>
<circle cx="1629.9" cy="605.1" r="7.8"/>
<circle cx="1722.0" cy="376.5" r="7.8"/>
<circle cx="1645.5" cy="573.4" r="7.8"/>
<circle cx="1693.1" cy="475.5" r="7.8"/>
<circle cx="1721.6" cy="566.0" r="7.8"/>
<circle cx="1711.4" cy="522.2" r="7.8"/>
<circle cx="1674.6" cy="519.0" r="7.8"/>
<circle cx="1722.3" cy="368.0" r="7.8"/>
<circle cx="1695.1" cy="529.9" r="7.8"/>
<circle cx="1649.8" cy="562.2" r="7.8"/>
<circle cx="1724.1" cy="568.2" r="7.8"/>
<circle cx="1682.8" cy="589.7" r="7.8"/>
<circle cx="1657.3" cy="560.6" r="7.8"/>
<circle cx="1669.0" cy="487.3" r="7.8"/>
<circle cx="1644.0" cy="583.7" r="7.8"/>
<circle cx="1683.5" cy="540.2" r="7.8"/>
<circle cx="1682.7" cy="536.2" r="7.8"/>
<circle cx="1640.4" cy="593.6" r="7.8"/>
<circle cx="1667.0" cy="545.0" r="7.8"/>
<circle cx="1651.5" cy="577.9" r="7.8"/>
<circle cx="1716.9" cy="403.8" r="7.8"/>
<circle cx="1644.1" cy="609.2" r="7.8"/>
<circle cx="1687.1" cy="458.8" r="7.8"/>
<circle cx="1690.4" cy="456.8" r="7.8"/>
<circle cx="1686.6" cy="438.7" r="7.8"/>
<circle cx="1662.6" cy="535.4" r="7.8"/>
<circle cx="1649.3" cy="550.5" r="7.8"/>
<circle cx="1624.7" cy="625.1" r="7.8"/>
<circle cx="1645.1" cy="564.0" r="7.8"/>
<circle cx="1708.5" cy="439.4" r="7.8"/>
<circle cx="1652.7" cy="590.1" r="7.8"/>
<circle cx="1679.3" cy="481.5" r="7.8"/>
<circle cx="1654.8" cy="570.1" r="7.8"/>
<circle cx="1630.5" cy="594.0" r="7.8"/>
<circle cx="1667.6" cy="511.2" r="7.8"/>
<circle cx="1727.0" cy="327.6" r="7.8"/>
<circle cx="1665.6" cy="517.3" r="7.8"/>
<circle cx="1658.5" cy="562.9" r="7.8"/>
<circle cx="1683.4" cy="469.0" r="7.8"/>
<circle cx="1661.1" cy="541.2" r="7.8"/>
<circle cx="1648.4" cy="562.1" r="7.8"/>
<circle cx="1663.5" cy="505.8" r="7.8"/>
<circle cx="1717.4" cy="422.0" r="7.8"/>
<circle cx="1638.7" cy="595.0" r="7.8"/>
<circle cx="1637.5" cy="576.1" r="7.8"/>
<circle cx="1702.2" cy="449.6" r="7.8"/>
<circle cx="1643.3" cy="620.9" r="7.8"/>
<circle cx="1637.4" cy="580.1" r="7.8"/>
<circle cx="1649.1" cy="580.9" r="7.8"/>
<circle cx="1715.6" cy="410.1" r="7.8"/>
<circle cx="1721.6" cy="325.0" r="7.8"/>
<circle cx="1720.8" cy="382.3" r="7.8"/>
<circle cx="1656.5" cy="539.4" r="7.8"/>
<circle cx="1718.0" cy="394.5" r="7.8"/>
<circle cx="1630.4" cy="590.7" r="7.8"/>
<circle cx="1673.9" cy="550.3" r="7.8"/>
<circle cx="1681.2" cy="560.2" r="7.8"/>
<circle cx="1670.5" cy="526.6" r="7.8"/>
<circle cx="1725.6" cy="349.5" r="7.8"/>
<circle cx="1702.2" cy="424.6" r="7.8"/>
<circle cx="1673.5" cy="517.0" r="7.8"/>
<circle cx="1700.0" cy="494.8" r="7.8"/>
<circle cx="1703.1" cy="513.4" r="7.8"/>
<circle cx="1635.5" cy="625.6" r="7.8"/>
<circle cx="1657.3" cy="568.1" r="7.8"/>
<circle cx="1657.9" cy="556.7" r="7.8"/>
<circle cx="1681.0" cy="609.9" r="7.8"/>
<circle cx="1725.4" cy="615.9" r="7.8"/>
<circle cx="1646.2" cy="639.6" r="7.8"/>
<circle cx="1694.3" cy="618.5" r="7.8"/>
<circle cx="1710.9" cy="594.2" r="7.8"/>
<circle cx="1739.1" cy="612.7" r="7.8"/>
<circle cx="1635.5" cy="629.0" r="7.8"/>
<circle cx="1711.7" cy="591.8" r="7.8"/>
<circle cx="1670.8" cy="618.8" r="7.8"/>
<circle cx="1714.0" cy="632.4" r="7.8"/>
<circle cx="1690.7" cy="609.3" r="7.8"/>
<circle cx="1717.7" cy="632.9" r="7.8"/>
<circle cx="1652.1" cy="607.7" r="7.8"/>
<circle cx="1732.0" cy="604.7" r="7.8"/>
<circle cx="1675.8" cy="631.9" r="7.8"/>
<circle cx="1720.2" cy="625.1" r="7.8"/>
<circle cx="1665.7" cy="609.7" r="7.8"/>
<circle cx="1648.9" cy="630.4" r="7.8"/>
<circle cx="1671.1" cy="596.6" r="7.8"/>
<circle cx="1706.4" cy="601.7" r="7.8"/>
<circle cx="1732.6" cy="632.9" r="7.8"/>
<circle cx="1687.5" cy="609.7" r="7.8"/>
<circle cx="1670.1" cy="610.6" r="7.8"/>
<circle cx="1733.9" cy="621.8" r="7.8"/>
<circle cx="1713.5" cy="605.9" r="7.8"/>
<circle cx="1682.7" cy="618.6" r="7.8"/>
<circle cx="1704.1" cy="617.8" r="7.8"/>
<circle cx="1661.7" cy="620.6" r="7.8"/>
<circle cx="1687.6" cy="610.5" r="7.8"/>
<circle cx="1677.2" cy="642.6" r="7.8"/>
<circle cx="1660.7" cy="609.0" r="7.8"/>
<circle cx="1643.9" cy="636.0" r="7.8"/>
<circle cx="1658.8" cy="630.0" r="7.8"/>
<circle cx="1719.7" cy="597.1" r="7.8"/>
<circle cx="1715.5" cy="630.0" r="7.8"/>
<circle cx="1681.2" cy="607.9" r="7.8"/>
<circle cx="1728.4" cy="628.5" r="7.8"/>
<circle cx="1651.3" cy="586.9" r="7.8"/>
<circle cx="1712.8" cy="587.6" r="7.8"/>
<circle cx="1715.8" cy="624.1" r="7.8"/>
<circle cx="1641.6" cy="591.6" r="7.8"/>
<circle cx="1726.8" cy="591.6" r="7.8"/>
<circle cx="1717.0" cy="631.3" r="7.8"/>
<circle cx="1684.0" cy="621.6" r="7.8"/>
<circle cx="1687.2" cy="632.1" r="7.8"/>
<circle cx="1512.8" cy="611.4" r="7.8"/>
<circle cx="1536.6" cy="620.9" r="7.8"/>
<circle cx="1534.7" cy="597.7" r="7.8"/>
<circle cx="1530.7" cy="604.6" r="7.8"/>
<circle cx="1510.4" cy="633.9" r="7.8"/>
<circle cx="1537.2" cy="624.4" r="7.8"/>
<circle cx="1570.2" cy="607.9" r="7.8"/>
<circle cx="1523.3" cy="590.2" r="7.8"/>
<circle cx="1549.5" cy="612.5" r="7.8"/>
<circle cx="1513.0" cy="593.7" r="7.8"/>
<circle cx="1554.7" cy="630.2" r="7.8"/>
<circle cx="1540.6" cy="618.7" r="7.8"/>
<circle cx="1567.9" cy="612.3" r="7.8"/>
<circle cx="1500.8" cy="641.1" r="7.8"/>
<circle cx="1547.0" cy="611.4" r="7.8"/>
<circle cx="1528.2" cy="592.2" r="7.8"/>
<circle cx="1524.1" cy="630.3" r="7.8"/>
<circle cx="1521.2" cy="642.0" r="7.8"/>
<circle cx="1566.7" cy="610.7" r="7.8"/>
<circle cx="1514.7" cy="603.6" r="7.8"/>
<circle cx="1545.0" cy="628.3" r="7.8"/>
<circle cx="1496.6" cy="623.4" r="7.8"/>
<circle cx="1571.6" cy="628.7" r="7.8"/>
<circle cx="1558.7" cy="637.8" r="7.8"/>
<circle cx="1549.7" cy="598.7" r="7.8"/>
<circle cx="1536.0" cy="630.0" r="7.8"/>
<circle cx="1523.3" cy="597.0" r="7.8"/>
<circle cx="1529.4" cy="604.1" r="7.8"/>
<circle cx="1547.3" cy="636.6" r="7.8"/>
<circle cx="1535.2" cy="598.4" r="7.8"/>
<circle cx="1566.0" cy="635.4" r="7.8"/>
<circle cx="1520.5" cy="603.7" r="7.8"/>
<circle cx="1563.6" cy="638.4" r="7.8"/>
<circle cx="1518.6" cy="608.3" r="7.8"/>
<circle cx="1506.1" cy="616.4" r="7.8"/>
<circle cx="1504.7" cy="611.7" r="7.8"/>
<circle cx="1515.8" cy="598.4" r="7.8"/>
<circle cx="1567.9" cy="607.8" r="7.8"/>
<circle cx="1558.5" cy="640.0" r="7.8"/>
<circle cx="1553.3" cy="633.0" r="7.8"/>
<circle cx="1519.0" cy="584.6" r="7.8"/>
<circle cx="1511.8" cy="616.7" r="7.8"/>
<circle cx="1523.5" cy="594.1" r="7.8"/>
<circle cx="1548.0" cy="610.1" r="7.8"/>
<circle cx="1507.5" cy="596.9" r="7.8"/>
<circle cx="1693.3" cy="223.8" r="7.8"/>
<circle cx="1715.5" cy="256.8" r="7.8"/>
<circle cx="1721.1" cy="286.1" r="7.8"/>
<circle cx="1663.0" cy="297.4" r="7.8"/>
<circle cx="1723.7" cy="307.7" r="7.8"/>
<circle cx="1673.3" cy="340.6" r="7.8"/>
<circle cx="1680.0" cy="345.8" r="7.8"/>
<circle cx="1720.1" cy="343.2" r="7.8"/>
<circle cx="1704.2" cy="353.0" r="7.8"/>
<circle cx="1716.0" cy="357.6" r="7.8"/>
<circle cx="1709.3" cy="377.2" r="7.8"/>
<circle cx="1677.4" cy="391.0" r="7.8"/>
<circle cx="1692.8" cy="388.5" r="7.8"/>
<circle cx="1680.0" cy="398.8" r="7.8"/>
<circle cx="1705.7" cy="398.8" r="7.8"/>
<circle cx="1713.4" cy="403.9" r="7.8"/>
<circle cx="1721.1" cy="401.3" r="7.8"/>
<circle cx="1685.1" cy="403.9" r="7.8"/>
<circle cx="1670.7" cy="417.8" r="7.8"/>
<circle cx="1686.7" cy="422.9" r="7.8"/>
<circle cx="1710.8" cy="416.8" r="7.8"/>
<circle cx="1723.7" cy="414.2" r="7.8"/>
<circle cx="1637.3" cy="435.8" r="7.8"/>
<circle cx="1716.0" cy="437.4" r="7.8"/>
<circle cx="1677.4" cy="439.9" r="7.8"/>
<circle cx="1674.8" cy="450.2" r="7.8"/>
<circle cx="1725.3" cy="447.6" r="7.8"/>
<circle cx="1641.4" cy="455.4" r="7.8"/>
<circle cx="1711.9" cy="454.3" r="7.8"/>
<circle cx="1635.2" cy="467.2" r="7.8"/>
<circle cx="1656.8" cy="465.7" r="7.8"/>
<circle cx="1664.5" cy="460.5" r="7.8"/>
<circle cx="1649.1" cy="470.8" r="7.8"/>
<circle cx="1495.8" cy="486.8" r="7.8"/>
<circle cx="1721.1" cy="486.2" r="7.8"/>
<circle cx="1703.1" cy="488.8" r="7.8"/>
<circle cx="1698.0" cy="494.0" r="7.8"/>
<circle cx="1649.1" cy="500.1" r="7.8"/>
<circle cx="1663.0" cy="498.1" r="7.8"/>
<circle cx="1673.3" cy="498.1" r="7.8"/>
<circle cx="1708.3" cy="506.8" r="7.8"/>
<circle cx="1570.9" cy="516.6" r="7.8"/>
<circle cx="1632.1" cy="514.5" r="7.8"/>
<circle cx="1662.0" cy="515.6" r="7.8"/>
<circle cx="1675.9" cy="514.5" r="7.8"/>
<circle cx="1710.8" cy="514.5" r="7.8"/>
<circle cx="1721.1" cy="516.1" r="7.8"/>
<circle cx="1331.1" cy="621.6" r="7.8"/>
<circle cx="1353.2" cy="634.4" r="7.8"/>
<circle cx="1385.7" cy="630.3" r="7.8"/>
<circle cx="1438.1" cy="631.3" r="7.8"/>
<circle cx="1444.8" cy="638.0" r="7.8"/>
<circle cx="1467.5" cy="621.0" r="7.8"/>
<circle cx="1469.0" cy="638.0" r="7.8"/>
<circle cx="1479.3" cy="630.3" r="7.8"/>
<circle cx="1483.4" cy="639.6" r="7.8"/>
<circle cx="1494.7" cy="635.5" r="7.8"/>
<circle cx="1762.3" cy="642.1" r="7.8"/>
<circle cx="1796.8" cy="641.1" r="7.8"/>
<circle cx="1991.8" cy="641.6" r="7.8"/>
<circle cx="1876.5" cy="605.1" r="7.8"/>
<circle cx="1543.6" cy="542.8" r="7.8"/>
<circle cx="1565.7" cy="553.1" r="7.8"/>
<circle cx="1472.6" cy="573.7" r="7.8"/>
<circle cx="1602.8" cy="569.6" r="7.8"/>
</g>
<line x1="1461.2" y1="36" x2="1461.2" y2="666" stroke="#111" stroke-width="1.8" stroke-dasharray="7.2 6.4"/>
<line x1="1727.8" y1="36" x2="1727.8" y2="666" stroke="#111" stroke-width="1.8" stroke-dasharray="7.2 6.4"/>
<line x1="1305" y1="602.1" x2="2018.5" y2="602.1" stroke="#111" stroke-width="1.8" stroke-dasharray="7.2 6.4"/>
<g fill="#c9303a" stroke="#0a0a0a" stroke-width="2">
<circle cx="1782.9" cy="60.2" r="10"/>
<circle cx="1819.4" cy="59.7" r="10"/>
<circle cx="1851.8" cy="59.7" r="10"/>
<circle cx="1867.3" cy="60.2" r="10"/>
<circle cx="1859.5" cy="74.1" r="10"/>
<circle cx="1803.5" cy="101.9" r="10"/>
<circle cx="1772.6" cy="117.3" r="10"/>
<circle cx="1769.5" cy="119.9" r="10"/>
<circle cx="1839.0" cy="117.3" r="10"/>
<circle cx="1837.4" cy="146.6" r="10"/>
<circle cx="1830.2" cy="152.8" r="10"/>
<circle cx="1821.5" cy="173.9" r="10"/>
<circle cx="1788.5" cy="180.1" r="10"/>
<circle cx="1815.3" cy="193.5" r="10"/>
<circle cx="1800.9" cy="181.1" r="10"/>
<circle cx="1791.1" cy="197.1" r="10"/>
<circle cx="1767.4" cy="197.6" r="10"/>
<circle cx="1741.7" cy="222.3" r="10"/>
<circle cx="1764.4" cy="222.3" r="10"/>
<circle cx="1756.6" cy="239.3" r="10"/>
<circle cx="1758.7" cy="291.7" r="10"/>
<circle cx="1743.3" cy="315.4" r="10"/>
<circle cx="1756.6" cy="325.2" r="10"/>
<circle cx="1777.2" cy="325.7" r="10"/>
<circle cx="1731.9" cy="362.7" r="10"/>
<circle cx="1761.8" cy="405.5" r="10"/>
<circle cx="1756.6" cy="425.0" r="10"/>
<circle cx="1782.4" cy="445.1" r="10"/>
<circle cx="1762.8" cy="482.1" r="10"/>
<circle cx="1882.7" cy="513.5" r="10"/>
<circle cx="1884.2" cy="554.2" r="10"/>
<circle cx="1730.9" cy="555.2" r="10"/>
<circle cx="1765.9" cy="558.3" r="10"/>
<circle cx="1737.6" cy="583.5" r="10"/>
<circle cx="1761.8" cy="589.7" r="10"/>
<circle cx="1729.9" cy="595.3" r="10"/>
<circle cx="1782.4" cy="599.9" r="10"/>
</g><g fill="#343572" stroke="#0a0a0a" stroke-width="2">
<circle cx="1348.6" cy="276.3" r="10"/>
<circle cx="1447.4" cy="477.0" r="10"/>
<circle cx="1457.7" cy="589.7" r="10"/>
<circle cx="1437.1" cy="594.8" r="10"/>
</g>
<rect x="1305" y="36" width="713.5" height="630" fill="none" stroke="#0a0a0a" stroke-width="2.6"/>
<line x1="1327.9" y1="666" x2="1327.9" y2="675" stroke="#0a0a0a" stroke-width="2.2"/>
<text x="1327.9" y="704.5" text-anchor="middle" font-size="29.8" fill="#1a1a1a">-2</text>
<line x1="1461.2" y1="666" x2="1461.2" y2="675" stroke="#0a0a0a" stroke-width="2.2"/>
<text x="1461.2" y="704.5" text-anchor="middle" font-size="29.8" fill="#1a1a1a">-1</text>
<line x1="1594.5" y1="666" x2="1594.5" y2="675" stroke="#0a0a0a" stroke-width="2.2"/>
<text x="1594.5" y="704.5" text-anchor="middle" font-size="29.8" fill="#1a1a1a">0</text>
<line x1="1727.8" y1="666" x2="1727.8" y2="675" stroke="#0a0a0a" stroke-width="2.2"/>
<text x="1727.8" y="704.5" text-anchor="middle" font-size="29.8" fill="#1a1a1a">1</text>
<line x1="1861.1" y1="666" x2="1861.1" y2="675" stroke="#0a0a0a" stroke-width="2.2"/>
<text x="1861.1" y="704.5" text-anchor="middle" font-size="29.8" fill="#1a1a1a">2</text>
<line x1="1994.4" y1="666" x2="1994.4" y2="675" stroke="#0a0a0a" stroke-width="2.2"/>
<text x="1994.4" y="704.5" text-anchor="middle" font-size="29.8" fill="#1a1a1a">3</text>
<line x1="1296" y1="642.7" x2="1305" y2="642.7" stroke="#0a0a0a" stroke-width="2.2"/>
<text x="1290.5" y="653.3" text-anchor="end" font-size="29.8" fill="#1a1a1a">0</text>
<line x1="1296" y1="487.0" x2="1305" y2="487.0" stroke="#0a0a0a" stroke-width="2.2"/>
<text x="1290.5" y="497.6" text-anchor="end" font-size="29.8" fill="#1a1a1a">5</text>
<line x1="1296" y1="331.2" x2="1305" y2="331.2" stroke="#0a0a0a" stroke-width="2.2"/>
<text x="1290.5" y="341.8" text-anchor="end" font-size="29.8" fill="#1a1a1a">10</text>
<line x1="1296" y1="175.5" x2="1305" y2="175.5" stroke="#0a0a0a" stroke-width="2.2"/>
<text x="1290.5" y="186.1" text-anchor="end" font-size="29.8" fill="#1a1a1a">15</text>
<text x="1668" y="746" text-anchor="middle" font-size="31" font-weight="bold" fill="#1a1a1a">log2 (fold_change)</text>
<text transform="translate(1242 338) rotate(-90)" text-anchor="middle" font-size="31" font-weight="bold" fill="#1a1a1a">-log10 (adjusted_p)</text>
<text transform="translate(1177 55.5) scale(0.92 1)" font-size="59" font-weight="bold" fill="#1a1a1a">b</text>
</g>
<g id="pc">
<ellipse cx="2442.8" cy="416.0" rx="286.0" ry="131.6" transform="rotate(45.23 2442.8 416.0)" fill="none" stroke="#1b4f8b" stroke-width="2.9"/>
<ellipse cx="2674.2" cy="318.4" rx="310.4" ry="108.4" transform="rotate(52.00 2674.2 318.4)" fill="none" stroke="#e22326" stroke-width="2.9"/>
<path d="M2441 414L2248.5 272.1M2441 414L2352.6 238.4M2441 414L2379.7 264.1M2441 414L2395.4 266.9M2441 414L2364.0 298.3M2441 414L2385.4 294.0M2441 414L2456.7 315.4M2441 414L2446.7 324.6M2441 414L2463.2 326.8M2441 414L2386.8 341.7M2441 414L2316.9 357.6M2441 414L2329.8 355.4M2441 414L2344.0 360.5M2441 414L2331.2 369.6M2441 414L2361.1 385.3M2441 414L2435.9 371.0M2441 414L2453.8 381.0M2441 414L2562.2 394.4M2441 414L2465.2 404.7M2441 414L2475.2 411.0M2441 414L2499.5 429.5M2441 414L2599.3 443.2M2441 414L2418.2 423.8M2441 414L2409.6 432.4M2441 414L2356.9 449.5M2441 414L2413.9 462.3M2441 414L2418.2 468.9M2441 414L2595.0 527.9M2441 414L2550.8 535.6M2441 414L2522.3 520.8M2441 414L2510.9 489.4M2441 414L2465.2 505.1M2441 414L2473.8 526.5M2441 414L2407.3 537.3M2441 414L2522.3 552.7M2441 414L2532.3 572.1M2441 414L2519.4 580.7M2441 414L2503.7 530.8M2441 414L2762.3 536.3" stroke="#1b4f8b" stroke-width="5.8" fill="none"/>
<path d="M2674 320.5L2591.2 125.6M2674 320.5L2569.8 138.4M2674 320.5L2574.1 145.5M2674 320.5L2558.4 162.6M2674 320.5L2527.0 168.3M2674 320.5L2584.0 192.6M2674 320.5L2598.3 190.3M2674 320.5L2498.5 224.0M2674 320.5L2608.3 226.8M2674 320.5L2562.6 237.6M2674 320.5L2566.9 248.2M2674 320.5L2565.5 258.2M2674 320.5L2666.8 252.5M2674 320.5L2673.9 256.8M2674 320.5L2676.7 261.6M2674 320.5L2760.9 262.5M2674 320.5L2598.3 289.0M2674 320.5L2692.4 282.4M2674 320.5L2625.4 273.9M2674 320.5L2626.8 305.2M2674 320.5L2711.0 301.0M2674 320.5L2641.1 323.8M2674 320.5L2738.1 335.2M2674 320.5L2770.9 346.0M2674 320.5L2726.7 348.9M2674 320.5L2782.3 368.0M2674 320.5L2802.2 373.7M2674 320.5L2663.9 379.4M2674 320.5L2602.6 393.7M2674 320.5L2642.5 393.7M2674 320.5L2656.8 404.2M2674 320.5L2703.8 427.9M2674 320.5L2793.7 429.3M2674 320.5L2786.5 435.0M2674 320.5L2801.7 440.2M2674 320.5L2753.7 447.9M2674 320.5L2675.3 475.0M2674 320.5L2736.6 469.2M2674 320.5L2756.6 477.8M2674 320.5L2796.5 500.6M2674 320.5L2827.9 526.9" stroke="#e22326" stroke-width="5.8" fill="none"/>
<g font-size="10.5" text-anchor="middle" fill="#1b4f8b">
<text transform="translate(2248.5 275.6) scale(1.45 1)">36</text>
<text transform="translate(2352.6 241.9) scale(1.45 1)">7</text>
<text transform="translate(2379.7 267.6) scale(1.45 1)">2</text>
<text transform="translate(2395.4 270.4) scale(1.45 1)">45</text>
<text transform="translate(2364.0 301.8) scale(1.45 1)">15</text>
<text transform="translate(2385.4 297.5) scale(1.45 1)">4</text>
<text transform="translate(2456.7 318.9) scale(1.45 1)">77</text>
<text transform="translate(2446.7 328.1) scale(1.45 1)">75</text>
<text transform="translate(2463.2 330.3) scale(1.45 1)">16</text>
<text transform="translate(2386.8 345.2) scale(1.45 1)">47</text>
<text transform="translate(2316.9 361.1) scale(1.45 1)">8</text>
<text transform="translate(2329.8 358.9) scale(1.45 1)">67</text>
<text transform="translate(2344.0 364.0) scale(1.45 1)">0</text>
<text transform="translate(2331.2 373.1) scale(1.45 1)">1</text>
<text transform="translate(2361.1 388.8) scale(1.45 1)">7</text>
<text transform="translate(2435.9 374.5) scale(1.45 1)">2</text>
<text transform="translate(2453.8 384.5) scale(1.45 1)">9</text>
<text transform="translate(2562.2 397.9) scale(1.45 1)">2</text>
<text transform="translate(2465.2 408.2) scale(1.45 1)">1</text>
<text transform="translate(2475.2 414.5) scale(1.45 1)">3</text>
<text transform="translate(2499.5 433.0) scale(1.45 1)">8</text>
<text transform="translate(2599.3 446.7) scale(1.45 1)">33</text>
<text transform="translate(2418.2 427.3) scale(1.45 1)">7</text>
<text transform="translate(2409.6 435.9) scale(1.45 1)">34</text>
<text transform="translate(2356.9 453.0) scale(1.45 1)">78</text>
<text transform="translate(2413.9 465.8) scale(1.45 1)">41</text>
<text transform="translate(2418.2 472.4) scale(1.45 1)">72</text>
<text transform="translate(2595.0 531.4) scale(1.45 1)">42</text>
<text transform="translate(2550.8 539.1) scale(1.45 1)">84</text>
<text transform="translate(2522.3 524.3) scale(1.45 1)">17</text>
<text transform="translate(2510.9 492.9) scale(1.45 1)">8</text>
<text transform="translate(2465.2 508.6) scale(1.45 1)">11</text>
<text transform="translate(2473.8 530.0) scale(1.45 1)">50</text>
<text transform="translate(2407.3 540.8) scale(1.45 1)">76</text>
<text transform="translate(2522.3 556.2) scale(1.45 1)">69</text>
<text transform="translate(2532.3 575.6) scale(1.45 1)">6</text>
<text transform="translate(2519.4 584.2) scale(1.45 1)">48</text>
<text transform="translate(2503.7 534.3) scale(1.45 1)">5</text>
<text transform="translate(2762.3 539.8) scale(1.45 1)">82</text>
</g><g font-size="10.5" text-anchor="middle" fill="#e22326">
<text transform="translate(2591.2 129.1) scale(1.45 1)">53</text>
<text transform="translate(2569.8 141.9) scale(1.45 1)">61</text>
<text transform="translate(2574.1 149.0) scale(1.45 1)">32</text>
<text transform="translate(2558.4 166.1) scale(1.45 1)">64</text>
<text transform="translate(2527.0 171.8) scale(1.45 1)">95</text>
<text transform="translate(2584.0 196.1) scale(1.45 1)">26</text>
<text transform="translate(2598.3 193.8) scale(1.45 1)">52</text>
<text transform="translate(2498.5 227.5) scale(1.45 1)">96</text>
<text transform="translate(2608.3 230.3) scale(1.45 1)">25</text>
<text transform="translate(2562.6 241.1) scale(1.45 1)">30</text>
<text transform="translate(2566.9 251.7) scale(1.45 1)">6</text>
<text transform="translate(2565.5 261.7) scale(1.45 1)">55</text>
<text transform="translate(2666.8 256.0) scale(1.45 1)">62</text>
<text transform="translate(2673.9 260.3) scale(1.45 1)">3</text>
<text transform="translate(2676.7 265.1) scale(1.45 1)">9</text>
<text transform="translate(2760.9 266.0) scale(1.45 1)">18</text>
<text transform="translate(2598.3 292.5) scale(1.45 1)">9</text>
<text transform="translate(2692.4 285.9) scale(1.45 1)">54</text>
<text transform="translate(2625.4 277.4) scale(1.45 1)">2</text>
<text transform="translate(2626.8 308.7) scale(1.45 1)">3</text>
<text transform="translate(2711.0 304.5) scale(1.45 1)">0</text>
<text transform="translate(2641.1 327.3) scale(1.45 1)">65</text>
<text transform="translate(2738.1 338.7) scale(1.45 1)">9</text>
<text transform="translate(2770.9 349.5) scale(1.45 1)">22</text>
<text transform="translate(2726.7 352.4) scale(1.45 1)">58</text>
<text transform="translate(2782.3 371.5) scale(1.45 1)">97</text>
<text transform="translate(2802.2 377.2) scale(1.45 1)">85</text>
<text transform="translate(2663.9 382.9) scale(1.45 1)">68</text>
<text transform="translate(2602.6 397.2) scale(1.45 1)">67</text>
<text transform="translate(2642.5 397.2) scale(1.45 1)">34</text>
<text transform="translate(2656.8 407.7) scale(1.45 1)">23</text>
<text transform="translate(2703.8 431.4) scale(1.45 1)">21</text>
<text transform="translate(2793.7 432.8) scale(1.45 1)">86</text>
<text transform="translate(2786.5 438.5) scale(1.45 1)">8</text>
<text transform="translate(2801.7 443.7) scale(1.45 1)">89</text>
<text transform="translate(2753.7 451.4) scale(1.45 1)">63</text>
<text transform="translate(2675.3 478.5) scale(1.45 1)">92</text>
<text transform="translate(2736.6 472.7) scale(1.45 1)">100</text>
<text transform="translate(2756.6 481.3) scale(1.45 1)">90</text>
<text transform="translate(2796.5 504.1) scale(1.45 1)">98</text>
<text transform="translate(2827.9 530.4) scale(1.45 1)">99</text>
</g>
<rect x="2190.5" y="37.5" width="724.3000000000002" height="627.7" fill="none" stroke="#050505" stroke-width="3.4"/>
<line x1="2251.2" y1="665.2" x2="2251.2" y2="669.2" stroke="#444" stroke-width="2"/>
<text transform="translate(2253.2 704) scale(1.07 1)" text-anchor="middle" font-size="31" font-weight="bold" fill="#404040">-20</text>
<line x1="2404.2" y1="665.2" x2="2404.2" y2="669.2" stroke="#444" stroke-width="2"/>
<text transform="translate(2406.2 704) scale(1.07 1)" text-anchor="middle" font-size="31" font-weight="bold" fill="#404040">-10</text>
<line x1="2558.8" y1="665.2" x2="2558.8" y2="669.2" stroke="#444" stroke-width="2"/>
<text transform="translate(2560.8 704) scale(1.07 1)" text-anchor="middle" font-size="31" font-weight="bold" fill="#404040">0</text>
<line x1="2712.3" y1="665.2" x2="2712.3" y2="669.2" stroke="#444" stroke-width="2"/>
<text transform="translate(2714.3 704) scale(1.07 1)" text-anchor="middle" font-size="31" font-weight="bold" fill="#404040">10</text>
<line x1="2866.8" y1="665.2" x2="2866.8" y2="669.2" stroke="#444" stroke-width="2"/>
<text transform="translate(2868.8 704) scale(1.07 1)" text-anchor="middle" font-size="31" font-weight="bold" fill="#404040">20</text>
<text transform="translate(2182 191.2) scale(1.07 1)" text-anchor="end" font-size="31" font-weight="bold" fill="#404040">10</text>
<text transform="translate(2182 390.5) scale(1.07 1)" text-anchor="end" font-size="31" font-weight="bold" fill="#404040">0</text>
<text transform="translate(2182 573.3) scale(1.07 1)" text-anchor="end" font-size="31" font-weight="bold" fill="#404040">-10</text>
<text transform="translate(2557 750) scale(0.844 1)" text-anchor="middle" font-size="32" font-weight="bold" fill="#1a1a1a">OPLS-DA 1</text>
<text transform="translate(2130 338) rotate(-90) scale(0.844 1)" text-anchor="middle" font-size="32" font-weight="bold" fill="#1a1a1a">OPLS-DA 1</text>
<text transform="translate(2928 316) scale(0.86 1)" font-size="30" font-weight="bold" fill="#1a1a1a">Time</text>
<circle cx="2939.7" cy="338" r="8.8" fill="#e22326"/><circle cx="2939.7" cy="366" r="8.8" fill="#1b4f8b"/>
<text transform="translate(2953 347.5) scale(0.9 1)" font-size="27" font-weight="bold" fill="#1a1a1a">t1</text>
<text transform="translate(2953 376) scale(0.9 1)" font-size="27" font-weight="bold" fill="#1a1a1a">t0</text>
<text transform="translate(2094 57) scale(0.92 1)" font-size="59" font-weight="bold" fill="#1a1a1a">c</text>
</g>
<g id="pd">
<rect x="241.6" y="824.7" width="209.7" height="25.9" fill="#379a7c"/><rect x="451.0" y="824.7" width="52.7" height="25.9" fill="#cd6228"/><rect x="503.4" y="824.7" width="209.7" height="25.9" fill="#379a7c"/><rect x="712.8" y="824.7" width="52.7" height="25.9" fill="#cd6228"/><rect x="765.1" y="824.7" width="209.7" height="25.9" fill="#379a7c"/><rect x="974.6" y="824.7" width="52.7" height="25.9" fill="#cd6228"/><rect x="1026.9" y="824.7" width="209.7" height="25.9" fill="#379a7c"/><rect x="1236.3" y="824.7" width="52.7" height="25.9" fill="#cd6228"/>
<rect x="241.6" y="856.6" width="262.1" height="26.3" fill="#2aa4b5"/><rect x="503.4" y="856.6" width="262.1" height="26.3" fill="#c87eb8"/><rect x="765.1" y="856.6" width="262.1" height="26.3" fill="#2aa4b5"/><rect x="1026.9" y="856.6" width="262.1" height="26.3" fill="#c87eb8"/>
<rect x="241.6" y="888.6" width="523.8" height="26.3" fill="#2353a5"/><rect x="765.1" y="888.6" width="523.8" height="26.3" fill="#ee2a2a"/>
<text x="1298.5" y="847.5" font-size="27.7" font-weight="bold" fill="#111">Gender</text>
<text x="1298.5" y="879.6" font-size="27.7" font-weight="bold" fill="#111">Approach</text>
<text x="1298.5" y="911.6" font-size="27.7" font-weight="bold" fill="#111">Time</text>
<rect x="241.6" y="924.3" width="1047.1" height="2519.2" fill="#0b1f0d"/>
<g transform="translate(241.6 924.3) scale(10.471 24.698)" shape-rendering="crispEdges">
<path fill="#ee2729" d="M9 4h1v1h-1zM67 11h2v1h-2zM61 13h1v1h-1zM50 14h1v1h-1zM80 14h1v1h-1zM95 14h2v1h-2zM68 69h1v1h-1z"/>
<path fill="#d7262c" d="M67 12h2v1h-2zM77 12h1v1h-1zM72 14h1v1h-1zM74 14h1v1h-1zM76 14h2v1h-2zM63 16h1v1h-1z"/>
<path fill="#bb2630" d="M83 0h2v1h-2zM90 13h1v1h-1zM52 14h2v1h-2zM50 15h3v1h-3zM99 16h1v1h-1zM18 66h1v1h-1zM67 69h1v1h-1zM69 69h1v1h-1z"/>
<path fill="#9b282e" d="M96 1h1v1h-1zM67 4h1v1h-1zM99 4h1v1h-1zM83 5h2v1h-2zM69 12h2v1h-2zM52 13h2v1h-2zM18 63h1v1h-1zM69 64h1v1h-1zM68 74h1v1h-1zM69 85h1v1h-1zM68 86h1v1h-1zM69 88h1v1h-1zM68 91h1v1h-1zM68 97h1v1h-1zM69 98h1v1h-1zM69 99h1v1h-1zM69 100h1v1h-1z"/>
<path fill="#842228" d="M67 0h1v1h-1zM96 0h2v1h-2zM69 1h1v1h-1zM83 1h1v1h-1zM69 2h1v1h-1zM61 3h1v1h-1zM26 6h3v1h-3zM87 11h1v1h-1zM18 12h2v1h-2zM31 12h2v1h-2zM79 12h1v1h-1zM82 12h2v1h-2zM29 13h1v1h-1zM64 13h1v1h-1zM75 13h1v1h-1zM60 16h1v1h-1zM88 16h4v1h-4zM95 16h1v1h-1zM63 17h1v1h-1zM69 18h1v1h-1zM72 19h1v1h-1zM69 20h1v1h-1zM90 63h1v1h-1zM61 64h1v1h-1zM18 65h1v1h-1zM69 70h1v1h-1zM61 71h1v1h-1zM68 71h2v1h-2zM69 72h1v1h-1zM69 73h1v1h-1zM18 74h1v1h-1zM69 74h1v1h-1zM61 75h1v1h-1zM73 76h1v1h-1zM99 77h1v1h-1zM61 78h1v1h-1zM50 79h1v1h-1zM68 80h2v1h-2zM69 82h1v1h-1zM99 90h1v1h-1zM61 91h1v1h-1zM68 92h2v1h-2zM73 93h1v1h-1zM99 93h1v1h-1zM69 94h1v1h-1zM68 95h1v1h-1zM69 96h1v1h-1zM50 98h1v1h-1zM99 98h1v1h-1zM54 99h1v1h-1zM73 100h1v1h-1zM95 100h1v1h-1zM68 101h2v1h-2z"/>
<path fill="#691a1e" d="M56 0h1v1h-1zM92 0h1v1h-1zM76 1h2v1h-2zM81 1h2v1h-2zM84 1h2v1h-2zM62 2h1v1h-1zM63 3h2v1h-2zM90 3h1v1h-1zM96 3h1v1h-1zM51 4h1v1h-1zM63 4h2v1h-2zM82 4h1v1h-1zM64 5h1v1h-1zM69 5h5v1h-5zM88 5h1v1h-1zM39 6h1v1h-1zM0 8h1v1h-1zM14 8h2v1h-2zM45 8h1v1h-1zM30 12h1v1h-1zM54 12h3v1h-3zM47 13h1v1h-1zM56 13h4v1h-4zM92 13h1v1h-1zM78 14h1v1h-1zM60 15h1v1h-1zM84 15h6v1h-6zM95 15h1v1h-1zM71 16h1v1h-1zM74 16h1v1h-1zM50 17h1v1h-1zM54 19h1v1h-1zM58 20h1v1h-1zM82 20h1v1h-1zM29 50h1v1h-1zM96 63h1v1h-1zM54 64h1v1h-1zM68 64h1v1h-1zM61 65h1v1h-1zM50 66h1v1h-1zM69 66h1v1h-1zM79 66h1v1h-1zM69 68h1v1h-1zM61 69h1v1h-1zM94 69h1v1h-1zM50 70h1v1h-1zM61 72h1v1h-1zM75 72h2v1h-2zM95 72h1v1h-1zM18 73h1v1h-1zM67 73h1v1h-1zM19 74h1v1h-1zM45 75h1v1h-1zM67 75h2v1h-2zM61 76h1v1h-1zM69 76h1v1h-1zM90 76h1v1h-1zM96 76h1v1h-1zM61 77h1v1h-1zM67 77h1v1h-1zM18 78h1v1h-1zM68 78h1v1h-1zM50 80h1v1h-1zM61 80h1v1h-1zM67 81h3v1h-3zM61 82h1v1h-1zM68 82h1v1h-1zM68 83h2v1h-2zM73 83h1v1h-1zM61 84h1v1h-1zM69 84h1v1h-1zM61 85h1v1h-1zM67 85h1v1h-1zM69 86h1v1h-1zM54 87h1v1h-1zM69 87h1v1h-1zM91 87h1v1h-1zM99 87h1v1h-1zM54 88h1v1h-1zM99 88h1v1h-1zM68 89h1v1h-1zM68 90h1v1h-1zM67 91h1v1h-1zM69 91h1v1h-1zM95 91h1v1h-1zM99 92h1v1h-1zM18 93h1v1h-1zM61 93h1v1h-1zM67 93h1v1h-1zM93 93h1v1h-1zM61 94h1v1h-1zM67 94h2v1h-2zM54 95h1v1h-1zM69 95h1v1h-1zM99 95h1v1h-1zM61 96h1v1h-1zM68 96h1v1h-1zM98 96h1v1h-1zM50 97h1v1h-1zM61 97h1v1h-1zM99 97h1v1h-1zM54 98h1v1h-1zM50 99h1v1h-1zM95 99h1v1h-1zM99 99h1v1h-1zM67 100h1v1h-1zM94 100h1v1h-1zM99 100h1v1h-1zM93 101h1v1h-1z"/>
<path fill="#4f1216" d="M0 0h1v1h-1zM50 0h1v1h-1zM52 0h1v1h-1zM98 0h1v1h-1zM50 1h1v1h-1zM54 1h2v1h-2zM60 1h1v1h-1zM62 1h2v1h-2zM88 1h1v1h-1zM7 2h1v1h-1zM50 2h1v1h-1zM56 2h1v1h-1zM67 2h2v1h-2zM70 2h2v1h-2zM99 2h1v1h-1zM18 3h1v1h-1zM53 3h2v1h-2zM56 3h1v1h-1zM65 3h2v1h-2zM94 3h2v1h-2zM47 4h2v1h-2zM79 4h1v1h-1zM81 4h1v1h-1zM93 5h1v1h-1zM8 6h1v1h-1zM15 6h2v1h-2zM18 6h2v1h-2zM40 6h2v1h-2zM43 6h1v1h-1zM1 8h1v1h-1zM28 8h1v1h-1zM30 8h1v1h-1zM37 8h1v1h-1zM40 8h1v1h-1zM0 9h2v1h-2zM18 9h1v1h-1zM5 10h1v1h-1zM7 10h1v1h-1zM23 10h1v1h-1zM25 10h1v1h-1zM41 10h1v1h-1zM44 10h1v1h-1zM55 11h2v1h-2zM61 11h1v1h-1zM85 11h1v1h-1zM99 11h1v1h-1zM24 12h3v1h-3zM42 12h1v1h-1zM78 12h1v1h-1zM80 12h2v1h-2zM91 12h1v1h-1zM98 12h2v1h-2zM43 13h2v1h-2zM60 13h1v1h-1zM81 13h1v1h-1zM0 14h1v1h-1zM6 14h1v1h-1zM65 14h1v1h-1zM73 14h1v1h-1zM79 14h1v1h-1zM99 14h1v1h-1zM61 15h1v1h-1zM94 15h1v1h-1zM98 15h2v1h-2zM53 16h2v1h-2zM69 16h1v1h-1zM50 18h4v1h-4zM70 18h1v1h-1zM99 18h1v1h-1zM57 19h3v1h-3zM78 19h1v1h-1zM66 20h1v1h-1zM84 20h2v1h-2zM54 21h1v1h-1zM83 21h1v1h-1zM68 48h1v1h-1zM68 50h1v1h-1zM72 50h1v1h-1zM88 50h1v1h-1zM71 51h1v1h-1zM69 60h1v1h-1zM53 63h2v1h-2zM67 63h1v1h-1zM69 63h1v1h-1zM74 63h1v1h-1zM80 63h1v1h-1zM83 63h1v1h-1zM89 63h1v1h-1zM92 63h1v1h-1zM18 64h1v1h-1zM99 64h1v1h-1zM19 65h1v1h-1zM50 65h1v1h-1zM74 65h1v1h-1zM99 65h1v1h-1zM61 66h1v1h-1zM68 66h1v1h-1zM0 67h1v1h-1zM18 67h1v1h-1zM54 67h1v1h-1zM67 67h2v1h-2zM79 67h1v1h-1zM67 68h1v1h-1zM86 68h1v1h-1zM90 69h1v1h-1zM61 70h1v1h-1zM74 70h1v1h-1zM18 71h1v1h-1zM85 71h1v1h-1zM93 71h1v1h-1zM99 71h1v1h-1zM18 72h1v1h-1zM79 72h1v1h-1zM73 73h1v1h-1zM0 74h1v1h-1zM50 74h2v1h-2zM85 74h1v1h-1zM93 74h1v1h-1zM97 74h1v1h-1zM69 75h1v1h-1zM80 75h1v1h-1zM96 75h1v1h-1zM18 76h1v1h-1zM68 76h1v1h-1zM77 76h1v1h-1zM22 77h1v1h-1zM69 77h1v1h-1zM92 77h1v1h-1zM54 78h1v1h-1zM69 78h1v1h-1zM86 78h1v1h-1zM18 79h1v1h-1zM63 79h1v1h-1zM73 79h1v1h-1zM95 79h1v1h-1zM75 80h1v1h-1zM82 80h1v1h-1zM54 81h1v1h-1zM61 81h1v1h-1zM93 81h1v1h-1zM19 82h1v1h-1zM50 82h1v1h-1zM54 82h1v1h-1zM67 82h1v1h-1zM96 82h1v1h-1zM18 83h1v1h-1zM61 83h1v1h-1zM86 83h1v1h-1zM99 83h1v1h-1zM50 84h1v1h-1zM54 84h1v1h-1zM68 84h1v1h-1zM79 84h1v1h-1zM79 85h1v1h-1zM88 85h1v1h-1zM93 85h1v1h-1zM99 85h1v1h-1zM93 86h1v1h-1zM97 86h1v1h-1zM99 86h1v1h-1zM61 87h1v1h-1zM67 87h2v1h-2zM50 88h1v1h-1zM61 88h1v1h-1zM93 88h1v1h-1zM69 89h1v1h-1zM50 90h1v1h-1zM54 90h1v1h-1zM61 90h1v1h-1zM63 90h1v1h-1zM69 90h1v1h-1zM73 90h1v1h-1zM79 90h1v1h-1zM92 90h1v1h-1zM98 90h1v1h-1zM50 91h1v1h-1zM54 91h1v1h-1zM73 91h1v1h-1zM79 91h1v1h-1zM94 91h1v1h-1zM96 91h1v1h-1zM98 91h2v1h-2zM54 92h1v1h-1zM87 92h1v1h-1zM91 92h1v1h-1zM60 93h1v1h-1zM68 93h2v1h-2zM74 93h1v1h-1zM94 93h1v1h-1zM98 93h1v1h-1zM54 94h1v1h-1zM82 94h1v1h-1zM93 94h1v1h-1zM95 94h2v1h-2zM99 94h1v1h-1zM61 95h1v1h-1zM93 95h1v1h-1zM96 95h1v1h-1zM98 95h1v1h-1zM54 96h1v1h-1zM74 96h1v1h-1zM85 96h1v1h-1zM94 96h1v1h-1zM54 97h1v1h-1zM69 97h1v1h-1zM82 97h1v1h-1zM86 97h1v1h-1zM94 97h1v1h-1zM96 97h1v1h-1zM76 98h1v1h-1zM90 98h1v1h-1zM96 98h1v1h-1zM51 99h1v1h-1zM68 99h1v1h-1zM73 99h1v1h-1zM79 99h1v1h-1zM98 99h1v1h-1zM54 100h1v1h-1zM61 100h1v1h-1zM68 100h1v1h-1zM82 100h1v1h-1zM89 100h1v1h-1zM96 100h1v1h-1zM61 101h1v1h-1zM67 101h1v1h-1zM75 101h1v1h-1zM79 101h1v1h-1zM81 101h1v1h-1zM97 101h1v1h-1zM99 101h1v1h-1z"/>
<path fill="#3d0608" d="M51 0h1v1h-1zM53 0h3v1h-3zM71 0h7v1h-7zM80 0h3v1h-3zM87 0h1v1h-1zM99 0h1v1h-1zM19 1h2v1h-2zM23 1h1v1h-1zM47 1h1v1h-1zM61 1h1v1h-1zM64 1h2v1h-2zM79 1h1v1h-1zM90 1h4v1h-4zM97 1h1v1h-1zM0 2h1v1h-1zM20 2h1v1h-1zM64 2h1v1h-1zM79 2h4v1h-4zM12 3h2v1h-2zM30 3h2v1h-2zM50 3h1v1h-1zM67 3h3v1h-3zM75 3h2v1h-2zM83 3h2v1h-2zM88 3h2v1h-2zM92 3h1v1h-1zM97 3h1v1h-1zM83 4h1v1h-1zM0 5h1v1h-1zM20 5h1v1h-1zM22 6h3v1h-3zM36 6h2v1h-2zM44 6h3v1h-3zM96 6h3v1h-3zM18 7h1v1h-1zM21 7h2v1h-2zM3 8h1v1h-1zM6 8h1v1h-1zM12 8h1v1h-1zM23 8h2v1h-2zM27 8h1v1h-1zM34 8h1v1h-1zM36 8h1v1h-1zM38 8h1v1h-1zM46 8h1v1h-1zM48 8h1v1h-1zM27 9h1v1h-1zM41 9h1v1h-1zM48 9h1v1h-1zM9 10h1v1h-1zM11 10h1v1h-1zM18 10h1v1h-1zM20 10h1v1h-1zM22 10h1v1h-1zM30 10h1v1h-1zM38 10h1v1h-1zM45 10h1v1h-1zM48 10h1v1h-1zM52 11h2v1h-2zM58 11h1v1h-1zM74 11h4v1h-4zM82 11h3v1h-3zM94 11h2v1h-2zM72 12h1v1h-1zM84 12h6v1h-6zM62 13h2v1h-2zM68 13h2v1h-2zM82 13h2v1h-2zM88 13h2v1h-2zM93 13h1v1h-1zM98 13h1v1h-1zM55 14h1v1h-1zM62 14h1v1h-1zM67 14h1v1h-1zM69 14h1v1h-1zM90 14h1v1h-1zM24 15h1v1h-1zM53 15h2v1h-2zM59 15h1v1h-1zM65 15h1v1h-1zM83 15h1v1h-1zM68 16h1v1h-1zM93 16h1v1h-1zM97 16h1v1h-1zM51 17h2v1h-2zM99 17h1v1h-1zM54 18h1v1h-1zM61 18h2v1h-2zM96 18h1v1h-1zM51 19h1v1h-1zM67 19h1v1h-1zM83 19h1v1h-1zM68 20h1v1h-1zM73 20h5v1h-5zM91 20h1v1h-1zM62 21h1v1h-1zM76 21h1v1h-1zM85 21h1v1h-1zM87 21h1v1h-1zM94 21h1v1h-1zM68 24h1v1h-1zM85 24h1v1h-1zM69 25h1v1h-1zM69 26h1v1h-1zM69 32h1v1h-1zM69 34h1v1h-1zM69 35h1v1h-1zM69 36h1v1h-1zM69 38h1v1h-1zM54 40h1v1h-1zM79 40h1v1h-1zM69 41h1v1h-1zM68 42h1v1h-1zM69 43h1v1h-1zM76 43h1v1h-1zM54 44h1v1h-1zM69 45h1v1h-1zM69 48h1v1h-1zM2 50h1v1h-1zM13 50h1v1h-1zM50 50h1v1h-1zM58 50h1v1h-1zM63 50h1v1h-1zM67 50h1v1h-1zM73 50h1v1h-1zM79 50h1v1h-1zM90 50h1v1h-1zM94 50h1v1h-1zM96 50h1v1h-1zM69 51h1v1h-1zM73 51h1v1h-1zM77 51h1v1h-1zM92 51h1v1h-1zM95 51h1v1h-1zM69 52h1v1h-1zM61 54h1v1h-1zM69 54h1v1h-1zM69 55h1v1h-1zM95 55h1v1h-1zM69 57h1v1h-1zM99 58h1v1h-1zM69 59h1v1h-1zM96 59h1v1h-1zM67 60h1v1h-1zM24 63h1v1h-1zM50 63h1v1h-1zM61 63h1v1h-1zM68 63h1v1h-1zM79 63h1v1h-1zM81 63h1v1h-1zM94 63h1v1h-1zM19 64h1v1h-1zM67 64h1v1h-1zM78 64h1v1h-1zM94 64h1v1h-1zM47 65h1v1h-1zM54 65h1v1h-1zM68 65h2v1h-2zM86 65h1v1h-1zM92 65h1v1h-1zM95 65h1v1h-1zM19 66h1v1h-1zM53 66h2v1h-2zM67 66h1v1h-1zM73 66h1v1h-1zM45 67h1v1h-1zM50 67h1v1h-1zM61 67h1v1h-1zM63 67h1v1h-1zM69 67h1v1h-1zM77 67h1v1h-1zM80 67h1v1h-1zM97 67h1v1h-1zM18 68h2v1h-2zM45 68h1v1h-1zM50 68h1v1h-1zM61 68h1v1h-1zM68 68h1v1h-1zM73 68h1v1h-1zM75 68h1v1h-1zM83 68h1v1h-1zM99 68h1v1h-1zM50 69h1v1h-1zM54 69h1v1h-1zM75 69h1v1h-1zM79 69h1v1h-1zM99 69h1v1h-1zM19 70h1v1h-1zM67 70h2v1h-2zM78 70h1v1h-1zM82 70h1v1h-1zM90 70h1v1h-1zM94 70h1v1h-1zM22 71h1v1h-1zM50 71h1v1h-1zM67 71h1v1h-1zM76 71h1v1h-1zM79 71h1v1h-1zM95 71h1v1h-1zM19 72h1v1h-1zM63 72h1v1h-1zM67 72h1v1h-1zM93 72h2v1h-2zM99 72h1v1h-1zM19 73h1v1h-1zM23 73h1v1h-1zM42 73h1v1h-1zM45 73h1v1h-1zM50 73h1v1h-1zM85 73h1v1h-1zM96 73h1v1h-1zM45 74h1v1h-1zM67 74h1v1h-1zM74 74h1v1h-1zM77 74h1v1h-1zM90 74h1v1h-1zM50 75h1v1h-1zM93 75h1v1h-1zM27 76h1v1h-1zM71 76h1v1h-1zM74 76h2v1h-2zM79 76h1v1h-1zM82 76h1v1h-1zM95 76h1v1h-1zM53 77h1v1h-1zM79 77h1v1h-1zM21 78h1v1h-1zM67 78h1v1h-1zM74 78h1v1h-1zM81 78h2v1h-2zM92 78h1v1h-1zM96 78h2v1h-2zM54 79h1v1h-1zM61 79h1v1h-1zM68 79h2v1h-2zM71 79h1v1h-1zM85 79h2v1h-2zM94 79h1v1h-1zM53 80h2v1h-2zM67 80h1v1h-1zM99 80h1v1h-1zM18 81h1v1h-1zM50 81h1v1h-1zM79 81h1v1h-1zM85 81h1v1h-1zM96 81h1v1h-1zM99 81h1v1h-1zM18 82h1v1h-1zM56 82h1v1h-1zM73 82h1v1h-1zM76 82h1v1h-1zM88 82h1v1h-1zM90 82h2v1h-2zM94 82h1v1h-1zM97 82h1v1h-1zM50 83h1v1h-1zM54 83h1v1h-1zM67 83h1v1h-1zM75 83h1v1h-1zM79 83h1v1h-1zM85 83h1v1h-1zM92 83h1v1h-1zM96 83h1v1h-1zM67 84h1v1h-1zM73 84h1v1h-1zM85 84h1v1h-1zM93 84h1v1h-1zM96 84h1v1h-1zM50 85h1v1h-1zM52 85h1v1h-1zM54 85h1v1h-1zM68 85h1v1h-1zM85 85h1v1h-1zM94 85h3v1h-3zM98 85h1v1h-1zM18 86h1v1h-1zM50 86h1v1h-1zM61 86h1v1h-1zM67 86h1v1h-1zM75 86h1v1h-1zM90 86h1v1h-1zM96 86h1v1h-1zM98 86h1v1h-1zM18 87h1v1h-1zM50 87h1v1h-1zM85 87h1v1h-1zM92 87h5v1h-5zM98 87h1v1h-1zM18 88h1v1h-1zM45 88h1v1h-1zM68 88h1v1h-1zM73 88h1v1h-1zM85 88h1v1h-1zM89 88h2v1h-2zM94 88h1v1h-1zM96 88h3v1h-3zM18 89h1v1h-1zM50 89h1v1h-1zM53 89h1v1h-1zM61 89h1v1h-1zM77 89h1v1h-1zM90 89h1v1h-1zM95 89h1v1h-1zM97 89h1v1h-1zM52 90h1v1h-1zM67 90h1v1h-1zM75 90h1v1h-1zM90 90h1v1h-1zM93 90h1v1h-1zM85 91h1v1h-1zM92 91h1v1h-1zM50 92h1v1h-1zM60 92h1v1h-1zM67 92h1v1h-1zM79 92h1v1h-1zM88 92h1v1h-1zM93 92h1v1h-1zM95 92h4v1h-4zM50 93h1v1h-1zM53 93h2v1h-2zM77 93h1v1h-1zM81 93h2v1h-2zM88 93h1v1h-1zM90 93h1v1h-1zM95 93h3v1h-3zM19 94h1v1h-1zM50 94h1v1h-1zM73 94h2v1h-2zM77 94h1v1h-1zM86 94h1v1h-1zM88 94h2v1h-2zM91 94h1v1h-1zM94 94h1v1h-1zM98 94h1v1h-1zM50 95h1v1h-1zM67 95h1v1h-1zM73 95h3v1h-3zM79 95h1v1h-1zM82 95h1v1h-1zM85 95h2v1h-2zM90 95h2v1h-2zM94 95h2v1h-2zM50 96h1v1h-1zM56 96h1v1h-1zM67 96h1v1h-1zM77 96h1v1h-1zM82 96h1v1h-1zM93 96h1v1h-1zM97 96h1v1h-1zM99 96h1v1h-1zM73 97h1v1h-1zM76 97h1v1h-1zM79 97h1v1h-1zM91 97h2v1h-2zM95 97h1v1h-1zM98 97h1v1h-1zM61 98h1v1h-1zM67 98h2v1h-2zM73 98h1v1h-1zM79 98h1v1h-1zM85 98h1v1h-1zM94 98h2v1h-2zM97 98h2v1h-2zM18 99h1v1h-1zM53 99h1v1h-1zM56 99h1v1h-1zM61 99h1v1h-1zM67 99h1v1h-1zM74 99h3v1h-3zM88 99h2v1h-2zM91 99h1v1h-1zM94 99h1v1h-1zM96 99h2v1h-2zM50 100h1v1h-1zM74 100h2v1h-2zM79 100h1v1h-1zM85 100h1v1h-1zM98 100h1v1h-1zM54 101h1v1h-1zM73 101h2v1h-2zM76 101h2v1h-2zM84 101h2v1h-2zM88 101h1v1h-1zM90 101h2v1h-2zM94 101h3v1h-3zM98 101h1v1h-1z"/>
<path fill="#260a0c" d="M20 0h2v1h-2zM59 0h1v1h-1zM66 0h1v1h-1zM3 1h1v1h-1zM10 1h1v1h-1zM26 1h1v1h-1zM57 1h1v1h-1zM72 1h1v1h-1zM14 2h2v1h-2zM24 2h3v1h-3zM34 2h1v1h-1zM51 2h2v1h-2zM57 2h2v1h-2zM85 2h1v1h-1zM92 2h7v1h-7zM14 3h2v1h-2zM34 3h2v1h-2zM51 3h2v1h-2zM57 3h1v1h-1zM62 3h1v1h-1zM71 3h3v1h-3zM77 3h5v1h-5zM85 3h1v1h-1zM93 3h1v1h-1zM86 4h4v1h-4zM93 4h4v1h-4zM50 5h1v1h-1zM67 5h1v1h-1zM76 5h1v1h-1zM9 6h1v1h-1zM25 6h1v1h-1zM33 6h1v1h-1zM38 6h1v1h-1zM53 6h1v1h-1zM64 6h2v1h-2zM91 6h2v1h-2zM0 7h1v1h-1zM11 7h1v1h-1zM20 7h1v1h-1zM24 7h1v1h-1zM31 7h1v1h-1zM44 7h2v1h-2zM67 7h1v1h-1zM4 8h2v1h-2zM8 8h2v1h-2zM11 8h1v1h-1zM13 8h1v1h-1zM17 8h1v1h-1zM19 8h1v1h-1zM26 8h1v1h-1zM35 8h1v1h-1zM41 8h1v1h-1zM44 8h1v1h-1zM47 8h1v1h-1zM2 9h2v1h-2zM7 9h2v1h-2zM11 9h1v1h-1zM14 9h1v1h-1zM17 9h1v1h-1zM19 9h1v1h-1zM28 9h1v1h-1zM30 9h2v1h-2zM33 9h1v1h-1zM36 9h1v1h-1zM38 9h1v1h-1zM47 9h1v1h-1zM56 9h1v1h-1zM67 9h2v1h-2zM3 10h1v1h-1zM8 10h1v1h-1zM13 10h1v1h-1zM15 10h1v1h-1zM19 10h1v1h-1zM26 10h1v1h-1zM33 10h2v1h-2zM39 10h1v1h-1zM43 10h1v1h-1zM69 10h1v1h-1zM78 10h1v1h-1zM60 11h1v1h-1zM70 11h1v1h-1zM73 11h1v1h-1zM81 11h1v1h-1zM90 11h2v1h-2zM61 12h1v1h-1zM66 12h1v1h-1zM13 13h1v1h-1zM99 13h1v1h-1zM2 14h1v1h-1zM7 14h1v1h-1zM9 14h1v1h-1zM19 14h1v1h-1zM26 14h1v1h-1zM38 14h2v1h-2zM49 14h1v1h-1zM56 14h1v1h-1zM58 14h4v1h-4zM64 14h1v1h-1zM75 14h1v1h-1zM83 14h1v1h-1zM11 15h1v1h-1zM19 15h3v1h-3zM35 15h2v1h-2zM41 15h1v1h-1zM62 15h3v1h-3zM72 15h2v1h-2zM76 15h3v1h-3zM90 15h3v1h-3zM9 16h1v1h-1zM66 16h1v1h-1zM78 16h2v1h-2zM85 16h3v1h-3zM98 16h1v1h-1zM65 17h1v1h-1zM72 17h1v1h-1zM77 17h1v1h-1zM41 18h2v1h-2zM66 18h3v1h-3zM74 18h2v1h-2zM85 18h3v1h-3zM50 19h1v1h-1zM52 19h2v1h-2zM56 19h1v1h-1zM63 19h4v1h-4zM68 19h1v1h-1zM71 19h1v1h-1zM74 19h2v1h-2zM79 19h1v1h-1zM84 19h1v1h-1zM86 19h4v1h-4zM92 19h2v1h-2zM99 19h1v1h-1zM45 20h1v1h-1zM89 20h2v1h-2zM7 21h1v1h-1zM47 21h1v1h-1zM51 21h1v1h-1zM57 21h1v1h-1zM63 21h3v1h-3zM67 21h1v1h-1zM69 21h1v1h-1zM77 21h1v1h-1zM79 21h1v1h-1zM82 21h1v1h-1zM92 21h1v1h-1zM96 21h1v1h-1zM18 22h1v1h-1zM54 22h1v1h-1zM67 22h3v1h-3zM73 22h1v1h-1zM77 22h1v1h-1zM94 22h1v1h-1zM99 22h1v1h-1zM50 23h1v1h-1zM67 23h1v1h-1zM69 23h1v1h-1zM75 23h1v1h-1zM79 23h1v1h-1zM88 23h1v1h-1zM93 23h1v1h-1zM95 23h1v1h-1zM99 23h1v1h-1zM67 24h1v1h-1zM69 24h1v1h-1zM75 24h1v1h-1zM88 24h1v1h-1zM93 24h1v1h-1zM18 25h1v1h-1zM50 25h1v1h-1zM68 25h1v1h-1zM18 26h1v1h-1zM67 26h1v1h-1zM81 26h1v1h-1zM86 26h1v1h-1zM19 27h1v1h-1zM50 27h1v1h-1zM61 27h1v1h-1zM68 27h2v1h-2zM71 27h1v1h-1zM73 27h1v1h-1zM91 27h1v1h-1zM99 27h1v1h-1zM54 28h1v1h-1zM67 28h1v1h-1zM69 28h1v1h-1zM87 28h1v1h-1zM95 28h1v1h-1zM0 29h1v1h-1zM18 29h1v1h-1zM69 29h1v1h-1zM73 29h1v1h-1zM77 29h1v1h-1zM82 29h1v1h-1zM96 29h1v1h-1zM45 30h1v1h-1zM50 30h1v1h-1zM54 30h1v1h-1zM67 30h1v1h-1zM69 30h1v1h-1zM96 30h1v1h-1zM99 30h1v1h-1zM54 31h1v1h-1zM68 31h2v1h-2zM96 31h1v1h-1zM18 32h1v1h-1zM50 32h1v1h-1zM54 32h1v1h-1zM68 32h1v1h-1zM74 32h1v1h-1zM76 32h1v1h-1zM79 32h1v1h-1zM94 32h1v1h-1zM50 33h1v1h-1zM61 33h1v1h-1zM68 33h2v1h-2zM73 33h1v1h-1zM76 33h1v1h-1zM50 34h1v1h-1zM67 34h1v1h-1zM81 34h1v1h-1zM90 34h2v1h-2zM61 35h1v1h-1zM67 35h2v1h-2zM74 35h1v1h-1zM86 35h1v1h-1zM99 35h1v1h-1zM0 36h1v1h-1zM18 36h1v1h-1zM68 36h1v1h-1zM90 36h1v1h-1zM94 36h1v1h-1zM96 36h1v1h-1zM67 37h3v1h-3zM71 37h1v1h-1zM74 37h1v1h-1zM85 37h1v1h-1zM94 37h2v1h-2zM50 38h1v1h-1zM54 38h1v1h-1zM68 38h1v1h-1zM77 38h1v1h-1zM81 38h1v1h-1zM85 38h1v1h-1zM18 39h2v1h-2zM50 39h1v1h-1zM67 39h2v1h-2zM76 39h1v1h-1zM61 40h1v1h-1zM68 40h2v1h-2zM90 40h2v1h-2zM93 40h1v1h-1zM97 40h3v1h-3zM18 41h1v1h-1zM54 41h1v1h-1zM68 41h1v1h-1zM81 41h1v1h-1zM90 41h1v1h-1zM52 42h1v1h-1zM61 42h1v1h-1zM67 42h1v1h-1zM69 42h1v1h-1zM73 42h1v1h-1zM75 42h1v1h-1zM18 43h1v1h-1zM61 43h1v1h-1zM74 43h2v1h-2zM91 43h1v1h-1zM95 43h1v1h-1zM19 44h1v1h-1zM61 44h1v1h-1zM67 44h2v1h-2zM73 44h1v1h-1zM77 44h1v1h-1zM85 44h1v1h-1zM19 45h1v1h-1zM54 45h1v1h-1zM56 45h1v1h-1zM67 45h2v1h-2zM77 45h2v1h-2zM83 45h1v1h-1zM93 45h1v1h-1zM95 45h1v1h-1zM50 46h1v1h-1zM63 46h1v1h-1zM65 46h1v1h-1zM67 46h3v1h-3zM73 46h4v1h-4zM78 46h1v1h-1zM82 46h1v1h-1zM91 46h1v1h-1zM94 46h1v1h-1zM96 46h1v1h-1zM50 47h1v1h-1zM68 47h1v1h-1zM84 47h2v1h-2zM88 47h1v1h-1zM95 47h1v1h-1zM50 48h1v1h-1zM61 48h1v1h-1zM67 48h1v1h-1zM73 48h1v1h-1zM86 48h1v1h-1zM89 48h1v1h-1zM99 48h1v1h-1zM50 49h1v1h-1zM56 49h1v1h-1zM65 49h1v1h-1zM67 49h3v1h-3zM73 49h1v1h-1zM83 49h1v1h-1zM85 49h1v1h-1zM95 49h1v1h-1zM11 50h1v1h-1zM52 50h1v1h-1zM54 50h2v1h-2zM61 50h2v1h-2zM66 50h1v1h-1zM69 50h1v1h-1zM74 50h3v1h-3zM78 50h1v1h-1zM81 50h1v1h-1zM84 50h2v1h-2zM93 50h1v1h-1zM95 50h1v1h-1zM99 50h1v1h-1zM50 51h2v1h-2zM53 51h1v1h-1zM61 51h1v1h-1zM67 51h2v1h-2zM79 51h2v1h-2zM85 51h1v1h-1zM89 51h2v1h-2zM99 51h1v1h-1zM54 52h1v1h-1zM68 52h1v1h-1zM71 52h1v1h-1zM79 52h1v1h-1zM83 52h1v1h-1zM67 53h1v1h-1zM69 53h1v1h-1zM75 53h1v1h-1zM86 53h1v1h-1zM89 53h2v1h-2zM92 53h1v1h-1zM94 53h1v1h-1zM71 54h1v1h-1zM79 54h2v1h-2zM86 54h1v1h-1zM99 54h1v1h-1zM67 55h2v1h-2zM85 55h1v1h-1zM91 55h1v1h-1zM50 56h1v1h-1zM67 56h1v1h-1zM69 56h1v1h-1zM73 56h2v1h-2zM79 56h1v1h-1zM87 56h1v1h-1zM99 56h1v1h-1zM61 57h1v1h-1zM73 57h1v1h-1zM76 57h1v1h-1zM79 57h1v1h-1zM90 57h1v1h-1zM99 57h1v1h-1zM54 58h1v1h-1zM67 58h3v1h-3zM75 58h1v1h-1zM83 58h1v1h-1zM94 58h1v1h-1zM54 59h1v1h-1zM73 59h2v1h-2zM85 59h1v1h-1zM90 59h1v1h-1zM95 59h1v1h-1zM99 59h1v1h-1zM68 60h1v1h-1zM76 60h1v1h-1zM50 61h1v1h-1zM67 61h3v1h-3zM83 61h1v1h-1zM94 61h1v1h-1zM98 61h2v1h-2zM50 62h1v1h-1zM69 62h1v1h-1zM71 62h2v1h-2zM75 62h1v1h-1zM85 62h1v1h-1zM89 62h1v1h-1zM45 63h1v1h-1zM62 63h1v1h-1zM73 63h1v1h-1zM76 63h2v1h-2zM91 63h1v1h-1zM22 64h1v1h-1zM50 64h1v1h-1zM72 64h2v1h-2zM75 64h1v1h-1zM79 64h1v1h-1zM84 64h1v1h-1zM93 64h1v1h-1zM0 65h1v1h-1zM23 65h2v1h-2zM30 65h1v1h-1zM41 65h1v1h-1zM45 65h1v1h-1zM52 65h2v1h-2zM63 65h1v1h-1zM67 65h1v1h-1zM73 65h1v1h-1zM79 65h1v1h-1zM89 65h1v1h-1zM51 66h1v1h-1zM60 66h1v1h-1zM74 66h3v1h-3zM78 66h1v1h-1zM85 66h1v1h-1zM90 66h1v1h-1zM92 66h2v1h-2zM96 66h1v1h-1zM99 66h1v1h-1zM19 67h1v1h-1zM22 67h1v1h-1zM24 67h1v1h-1zM41 67h1v1h-1zM47 67h1v1h-1zM56 67h1v1h-1zM73 67h2v1h-2zM76 67h1v1h-1zM86 67h1v1h-1zM98 67h1v1h-1zM0 68h1v1h-1zM52 68h1v1h-1zM54 68h1v1h-1zM71 68h1v1h-1zM76 68h1v1h-1zM90 68h1v1h-1zM95 68h1v1h-1zM97 68h1v1h-1zM72 69h1v1h-1zM76 69h1v1h-1zM85 69h1v1h-1zM18 70h1v1h-1zM22 70h1v1h-1zM24 70h1v1h-1zM54 70h1v1h-1zM66 70h1v1h-1zM83 70h1v1h-1zM86 70h1v1h-1zM89 70h1v1h-1zM99 70h1v1h-1zM19 71h1v1h-1zM21 71h1v1h-1zM38 71h1v1h-1zM53 71h2v1h-2zM60 71h1v1h-1zM80 71h1v1h-1zM82 71h2v1h-2zM91 71h1v1h-1zM97 71h1v1h-1zM50 72h1v1h-1zM54 72h1v1h-1zM56 72h1v1h-1zM62 72h1v1h-1zM73 72h2v1h-2zM77 72h1v1h-1zM85 72h1v1h-1zM90 72h2v1h-2zM1 73h1v1h-1zM6 73h1v1h-1zM61 73h1v1h-1zM74 73h1v1h-1zM84 73h1v1h-1zM88 73h1v1h-1zM92 73h1v1h-1zM95 73h1v1h-1zM99 73h1v1h-1zM1 74h1v1h-1zM20 74h1v1h-1zM41 74h1v1h-1zM52 74h2v1h-2zM60 74h2v1h-2zM80 74h1v1h-1zM99 74h1v1h-1zM53 75h1v1h-1zM73 75h3v1h-3zM77 75h1v1h-1zM83 75h1v1h-1zM85 75h1v1h-1zM92 75h1v1h-1zM11 76h1v1h-1zM67 76h1v1h-1zM83 76h1v1h-1zM85 76h1v1h-1zM87 76h1v1h-1zM99 76h1v1h-1zM0 77h1v1h-1zM18 77h2v1h-2zM23 77h1v1h-1zM50 77h1v1h-1zM54 77h1v1h-1zM56 77h1v1h-1zM68 77h1v1h-1zM71 77h1v1h-1zM74 77h1v1h-1zM84 77h2v1h-2zM94 77h1v1h-1zM96 77h1v1h-1zM98 77h1v1h-1zM0 78h1v1h-1zM24 78h1v1h-1zM50 78h1v1h-1zM53 78h1v1h-1zM75 78h2v1h-2zM80 78h1v1h-1zM98 78h2v1h-2zM24 79h1v1h-1zM42 79h1v1h-1zM67 79h1v1h-1zM75 79h1v1h-1zM93 79h1v1h-1zM99 79h1v1h-1zM18 80h2v1h-2zM56 80h1v1h-1zM73 80h1v1h-1zM77 80h1v1h-1zM84 80h1v1h-1zM88 80h1v1h-1zM93 80h1v1h-1zM96 80h1v1h-1zM98 80h1v1h-1zM19 81h1v1h-1zM51 81h1v1h-1zM73 81h1v1h-1zM75 81h2v1h-2zM78 81h1v1h-1zM82 81h1v1h-1zM88 81h1v1h-1zM91 81h1v1h-1zM98 81h1v1h-1zM74 82h1v1h-1zM79 82h1v1h-1zM82 82h1v1h-1zM93 82h1v1h-1zM95 82h1v1h-1zM98 82h2v1h-2zM19 83h1v1h-1zM41 83h1v1h-1zM45 83h1v1h-1zM51 83h2v1h-2zM63 83h1v1h-1zM66 83h1v1h-1zM74 83h1v1h-1zM76 83h1v1h-1zM82 83h2v1h-2zM89 83h3v1h-3zM94 83h2v1h-2zM97 83h2v1h-2zM18 84h1v1h-1zM51 84h1v1h-1zM81 84h1v1h-1zM92 84h1v1h-1zM99 84h1v1h-1zM18 85h1v1h-1zM51 85h1v1h-1zM73 85h2v1h-2zM76 85h2v1h-2zM86 85h1v1h-1zM90 85h1v1h-1zM97 85h1v1h-1zM22 86h1v1h-1zM45 86h1v1h-1zM47 86h1v1h-1zM53 86h2v1h-2zM71 86h1v1h-1zM73 86h1v1h-1zM76 86h1v1h-1zM79 86h1v1h-1zM83 86h1v1h-1zM85 86h1v1h-1zM88 86h1v1h-1zM91 86h2v1h-2zM94 86h2v1h-2zM22 87h1v1h-1zM31 87h1v1h-1zM51 87h1v1h-1zM53 87h1v1h-1zM73 87h2v1h-2zM79 87h1v1h-1zM81 87h1v1h-1zM83 87h1v1h-1zM86 87h1v1h-1zM97 87h1v1h-1zM0 88h1v1h-1zM22 88h1v1h-1zM24 88h1v1h-1zM63 88h1v1h-1zM67 88h1v1h-1zM75 88h2v1h-2zM79 88h1v1h-1zM81 88h1v1h-1zM86 88h1v1h-1zM88 88h1v1h-1zM19 89h1v1h-1zM52 89h1v1h-1zM54 89h1v1h-1zM60 89h1v1h-1zM67 89h1v1h-1zM78 89h1v1h-1zM82 89h1v1h-1zM85 89h1v1h-1zM87 89h1v1h-1zM91 89h1v1h-1zM93 89h1v1h-1zM96 89h1v1h-1zM98 89h2v1h-2zM18 90h1v1h-1zM51 90h1v1h-1zM56 90h1v1h-1zM74 90h1v1h-1zM76 90h3v1h-3zM82 90h1v1h-1zM86 90h1v1h-1zM95 90h2v1h-2zM52 91h1v1h-1zM76 91h1v1h-1zM81 91h2v1h-2zM86 91h2v1h-2zM90 91h2v1h-2zM93 91h1v1h-1zM97 91h1v1h-1zM18 92h2v1h-2zM61 92h1v1h-1zM63 92h1v1h-1zM75 92h1v1h-1zM77 92h1v1h-1zM81 92h1v1h-1zM90 92h1v1h-1zM94 92h1v1h-1zM51 93h1v1h-1zM56 93h1v1h-1zM63 93h1v1h-1zM75 93h2v1h-2zM79 93h2v1h-2zM85 93h1v1h-1zM91 93h1v1h-1zM18 94h1v1h-1zM51 94h3v1h-3zM71 94h1v1h-1zM75 94h1v1h-1zM79 94h1v1h-1zM84 94h2v1h-2zM92 94h1v1h-1zM97 94h1v1h-1zM71 95h1v1h-1zM76 95h2v1h-2zM84 95h1v1h-1zM87 95h2v1h-2zM92 95h1v1h-1zM19 96h1v1h-1zM52 96h2v1h-2zM63 96h1v1h-1zM70 96h1v1h-1zM87 96h1v1h-1zM90 96h2v1h-2zM95 96h2v1h-2zM18 97h1v1h-1zM56 97h1v1h-1zM60 97h1v1h-1zM63 97h1v1h-1zM67 97h1v1h-1zM84 97h2v1h-2zM89 97h1v1h-1zM93 97h1v1h-1zM18 98h1v1h-1zM24 98h1v1h-1zM53 98h1v1h-1zM63 98h1v1h-1zM75 98h1v1h-1zM80 98h1v1h-1zM82 98h1v1h-1zM86 98h2v1h-2zM89 98h1v1h-1zM91 98h3v1h-3zM77 99h2v1h-2zM81 99h1v1h-1zM84 99h3v1h-3zM92 99h1v1h-1zM51 100h1v1h-1zM56 100h1v1h-1zM66 100h1v1h-1zM76 100h2v1h-2zM80 100h2v1h-2zM86 100h2v1h-2zM90 100h1v1h-1zM92 100h2v1h-2zM97 100h1v1h-1zM50 101h2v1h-2zM56 101h1v1h-1zM63 101h1v1h-1zM80 101h1v1h-1zM82 101h1v1h-1zM86 101h1v1h-1zM89 101h1v1h-1zM92 101h1v1h-1z"/>
<path fill="#120406" d="M22 0h1v1h-1zM24 0h1v1h-1zM26 0h2v1h-2zM57 0h2v1h-2zM63 0h3v1h-3zM91 0h1v1h-1zM34 1h2v1h-2zM51 1h2v1h-2zM58 1h1v1h-1zM66 1h3v1h-3zM73 1h3v1h-3zM78 1h1v1h-1zM80 1h1v1h-1zM86 1h2v1h-2zM89 1h1v1h-1zM5 2h1v1h-1zM19 2h1v1h-1zM44 2h2v1h-2zM60 2h1v1h-1zM63 2h1v1h-1zM86 2h6v1h-6zM7 3h1v1h-1zM9 3h3v1h-3zM26 3h1v1h-1zM38 3h3v1h-3zM55 3h1v1h-1zM74 3h1v1h-1zM82 3h1v1h-1zM91 3h1v1h-1zM24 4h1v1h-1zM84 4h2v1h-2zM39 5h4v1h-4zM51 5h4v1h-4zM57 5h1v1h-1zM60 5h4v1h-4zM66 5h1v1h-1zM75 5h1v1h-1zM77 5h1v1h-1zM1 6h3v1h-3zM20 6h2v1h-2zM31 6h1v1h-1zM54 6h1v1h-1zM57 6h1v1h-1zM61 6h1v1h-1zM73 6h1v1h-1zM75 6h3v1h-3zM5 7h1v1h-1zM9 7h1v1h-1zM12 7h2v1h-2zM16 7h1v1h-1zM19 7h1v1h-1zM29 7h1v1h-1zM32 7h1v1h-1zM38 7h1v1h-1zM41 7h2v1h-2zM91 7h1v1h-1zM93 7h1v1h-1zM95 7h1v1h-1zM2 8h1v1h-1zM7 8h1v1h-1zM10 8h1v1h-1zM16 8h1v1h-1zM18 8h1v1h-1zM20 8h2v1h-2zM25 8h1v1h-1zM32 8h2v1h-2zM39 8h1v1h-1zM54 8h1v1h-1zM74 8h1v1h-1zM78 8h1v1h-1zM81 8h1v1h-1zM93 8h1v1h-1zM6 9h1v1h-1zM13 9h1v1h-1zM15 9h2v1h-2zM22 9h2v1h-2zM26 9h1v1h-1zM29 9h1v1h-1zM32 9h1v1h-1zM34 9h2v1h-2zM42 9h5v1h-5zM73 9h2v1h-2zM94 9h1v1h-1zM99 9h1v1h-1zM0 10h3v1h-3zM4 10h1v1h-1zM10 10h1v1h-1zM12 10h1v1h-1zM16 10h1v1h-1zM21 10h1v1h-1zM24 10h1v1h-1zM27 10h1v1h-1zM31 10h2v1h-2zM35 10h1v1h-1zM40 10h1v1h-1zM42 10h1v1h-1zM46 10h2v1h-2zM50 10h2v1h-2zM73 10h1v1h-1zM85 10h2v1h-2zM91 10h1v1h-1zM93 10h1v1h-1zM0 11h1v1h-1zM54 11h1v1h-1zM78 11h1v1h-1zM1 12h2v1h-2zM29 12h1v1h-1zM36 12h1v1h-1zM46 12h2v1h-2zM51 12h2v1h-2zM60 12h1v1h-1zM73 12h1v1h-1zM94 12h1v1h-1zM0 13h2v1h-2zM10 13h1v1h-1zM14 13h3v1h-3zM18 13h1v1h-1zM66 13h2v1h-2zM87 13h1v1h-1zM91 13h1v1h-1zM3 14h1v1h-1zM10 14h3v1h-3zM15 14h1v1h-1zM23 14h2v1h-2zM27 14h1v1h-1zM37 14h1v1h-1zM45 14h1v1h-1zM51 14h1v1h-1zM54 14h1v1h-1zM81 14h1v1h-1zM84 14h1v1h-1zM86 14h2v1h-2zM89 14h1v1h-1zM92 14h1v1h-1zM94 14h1v1h-1zM98 14h1v1h-1zM56 15h3v1h-3zM68 15h1v1h-1zM74 15h1v1h-1zM80 15h1v1h-1zM7 16h2v1h-2zM16 16h1v1h-1zM64 16h2v1h-2zM72 16h2v1h-2zM80 16h2v1h-2zM92 16h1v1h-1zM94 16h1v1h-1zM96 16h1v1h-1zM54 17h1v1h-1zM68 17h2v1h-2zM73 17h1v1h-1zM79 17h1v1h-1zM83 17h1v1h-1zM88 17h3v1h-3zM98 17h1v1h-1zM15 18h3v1h-3zM56 18h1v1h-1zM64 18h2v1h-2zM71 18h1v1h-1zM73 18h1v1h-1zM80 18h2v1h-2zM88 18h3v1h-3zM95 18h1v1h-1zM97 18h2v1h-2zM14 19h1v1h-1zM18 19h1v1h-1zM30 19h1v1h-1zM42 19h1v1h-1zM45 19h2v1h-2zM70 19h1v1h-1zM73 19h1v1h-1zM80 19h1v1h-1zM85 19h1v1h-1zM90 19h1v1h-1zM94 19h2v1h-2zM19 20h1v1h-1zM50 20h1v1h-1zM61 20h3v1h-3zM65 20h1v1h-1zM93 20h6v1h-6zM3 21h1v1h-1zM6 21h1v1h-1zM10 21h1v1h-1zM18 21h1v1h-1zM27 21h1v1h-1zM52 21h1v1h-1zM59 21h1v1h-1zM66 21h1v1h-1zM68 21h1v1h-1zM70 21h1v1h-1zM72 21h1v1h-1zM74 21h1v1h-1zM84 21h1v1h-1zM86 21h1v1h-1zM91 21h1v1h-1zM99 21h1v1h-1zM0 22h2v1h-2zM19 22h1v1h-1zM24 22h1v1h-1zM27 22h1v1h-1zM60 22h2v1h-2zM71 22h2v1h-2zM75 22h1v1h-1zM79 22h1v1h-1zM82 22h1v1h-1zM85 22h2v1h-2zM88 22h1v1h-1zM93 22h1v1h-1zM96 22h1v1h-1zM98 22h1v1h-1zM2 23h1v1h-1zM19 23h1v1h-1zM27 23h1v1h-1zM31 23h1v1h-1zM54 23h2v1h-2zM61 23h1v1h-1zM77 23h1v1h-1zM80 23h1v1h-1zM84 23h1v1h-1zM86 23h1v1h-1zM90 23h3v1h-3zM96 23h2v1h-2zM18 24h2v1h-2zM45 24h1v1h-1zM50 24h1v1h-1zM53 24h1v1h-1zM56 24h1v1h-1zM61 24h1v1h-1zM65 24h1v1h-1zM71 24h4v1h-4zM79 24h5v1h-5zM86 24h1v1h-1zM89 24h2v1h-2zM94 24h1v1h-1zM96 24h4v1h-4zM5 25h1v1h-1zM11 25h1v1h-1zM19 25h1v1h-1zM39 25h1v1h-1zM61 25h1v1h-1zM67 25h1v1h-1zM73 25h5v1h-5zM79 25h1v1h-1zM84 25h1v1h-1zM86 25h1v1h-1zM88 25h4v1h-4zM93 25h4v1h-4zM40 26h1v1h-1zM45 26h1v1h-1zM50 26h1v1h-1zM61 26h1v1h-1zM68 26h1v1h-1zM74 26h1v1h-1zM76 26h3v1h-3zM80 26h1v1h-1zM84 26h1v1h-1zM88 26h1v1h-1zM92 26h8v1h-8zM1 27h1v1h-1zM18 27h1v1h-1zM23 27h1v1h-1zM39 27h1v1h-1zM52 27h1v1h-1zM54 27h1v1h-1zM74 27h3v1h-3zM79 27h2v1h-2zM86 27h1v1h-1zM90 27h1v1h-1zM92 27h6v1h-6zM14 28h1v1h-1zM19 28h1v1h-1zM24 28h1v1h-1zM26 28h1v1h-1zM47 28h1v1h-1zM50 28h1v1h-1zM61 28h1v1h-1zM68 28h1v1h-1zM72 28h4v1h-4zM81 28h2v1h-2zM84 28h3v1h-3zM90 28h1v1h-1zM92 28h2v1h-2zM96 28h1v1h-1zM98 28h1v1h-1zM11 29h1v1h-1zM22 29h1v1h-1zM24 29h1v1h-1zM31 29h1v1h-1zM45 29h1v1h-1zM54 29h1v1h-1zM56 29h1v1h-1zM61 29h1v1h-1zM67 29h2v1h-2zM70 29h1v1h-1zM72 29h1v1h-1zM74 29h3v1h-3zM78 29h2v1h-2zM81 29h1v1h-1zM83 29h6v1h-6zM92 29h3v1h-3zM99 29h1v1h-1zM0 30h1v1h-1zM18 30h1v1h-1zM21 30h1v1h-1zM23 30h1v1h-1zM31 30h1v1h-1zM61 30h1v1h-1zM68 30h1v1h-1zM72 30h1v1h-1zM74 30h4v1h-4zM79 30h3v1h-3zM85 30h4v1h-4zM91 30h3v1h-3zM1 31h1v1h-1zM18 31h1v1h-1zM24 31h1v1h-1zM39 31h1v1h-1zM45 31h1v1h-1zM50 31h1v1h-1zM61 31h1v1h-1zM67 31h1v1h-1zM72 31h3v1h-3zM76 31h1v1h-1zM78 31h4v1h-4zM85 31h2v1h-2zM90 31h1v1h-1zM92 31h3v1h-3zM97 31h3v1h-3zM19 32h1v1h-1zM30 32h1v1h-1zM45 32h1v1h-1zM55 32h1v1h-1zM61 32h1v1h-1zM67 32h1v1h-1zM71 32h1v1h-1zM73 32h1v1h-1zM75 32h1v1h-1zM77 32h1v1h-1zM81 32h7v1h-7zM89 32h2v1h-2zM92 32h2v1h-2zM95 32h2v1h-2zM0 33h2v1h-2zM11 33h1v1h-1zM18 33h2v1h-2zM41 33h1v1h-1zM45 33h1v1h-1zM53 33h1v1h-1zM67 33h1v1h-1zM71 33h1v1h-1zM78 33h2v1h-2zM83 33h1v1h-1zM85 33h1v1h-1zM90 33h3v1h-3zM96 33h1v1h-1zM99 33h1v1h-1zM11 34h1v1h-1zM18 34h2v1h-2zM27 34h1v1h-1zM31 34h1v1h-1zM38 34h1v1h-1zM51 34h2v1h-2zM54 34h1v1h-1zM57 34h1v1h-1zM61 34h1v1h-1zM65 34h1v1h-1zM68 34h1v1h-1zM73 34h2v1h-2zM76 34h2v1h-2zM79 34h2v1h-2zM82 34h2v1h-2zM86 34h1v1h-1zM93 34h1v1h-1zM95 34h5v1h-5zM12 35h1v1h-1zM18 35h2v1h-2zM22 35h1v1h-1zM24 35h1v1h-1zM26 35h1v1h-1zM37 35h1v1h-1zM45 35h1v1h-1zM63 35h1v1h-1zM71 35h1v1h-1zM73 35h1v1h-1zM76 35h3v1h-3zM84 35h2v1h-2zM87 35h1v1h-1zM93 35h3v1h-3zM97 35h2v1h-2zM11 36h1v1h-1zM19 36h1v1h-1zM24 36h1v1h-1zM45 36h1v1h-1zM50 36h1v1h-1zM54 36h1v1h-1zM56 36h1v1h-1zM61 36h1v1h-1zM67 36h1v1h-1zM72 36h5v1h-5zM79 36h3v1h-3zM84 36h2v1h-2zM87 36h3v1h-3zM95 36h1v1h-1zM98 36h2v1h-2zM0 37h1v1h-1zM8 37h1v1h-1zM18 37h1v1h-1zM32 37h1v1h-1zM38 37h1v1h-1zM42 37h1v1h-1zM44 37h1v1h-1zM50 37h2v1h-2zM54 37h1v1h-1zM58 37h1v1h-1zM61 37h1v1h-1zM65 37h1v1h-1zM72 37h2v1h-2zM75 37h2v1h-2zM79 37h1v1h-1zM86 37h1v1h-1zM88 37h4v1h-4zM93 37h1v1h-1zM96 37h4v1h-4zM6 38h1v1h-1zM18 38h1v1h-1zM22 38h1v1h-1zM48 38h1v1h-1zM53 38h1v1h-1zM61 38h1v1h-1zM67 38h1v1h-1zM71 38h1v1h-1zM73 38h1v1h-1zM75 38h2v1h-2zM79 38h1v1h-1zM84 38h1v1h-1zM87 38h1v1h-1zM89 38h11v1h-11zM23 39h1v1h-1zM38 39h1v1h-1zM54 39h1v1h-1zM61 39h1v1h-1zM63 39h1v1h-1zM66 39h1v1h-1zM69 39h1v1h-1zM71 39h1v1h-1zM74 39h1v1h-1zM77 39h1v1h-1zM79 39h1v1h-1zM81 39h3v1h-3zM85 39h2v1h-2zM90 39h1v1h-1zM93 39h4v1h-4zM99 39h1v1h-1zM0 40h1v1h-1zM8 40h1v1h-1zM18 40h1v1h-1zM22 40h1v1h-1zM50 40h1v1h-1zM67 40h1v1h-1zM71 40h1v1h-1zM73 40h5v1h-5zM80 40h1v1h-1zM82 40h1v1h-1zM85 40h2v1h-2zM89 40h1v1h-1zM94 40h1v1h-1zM96 40h1v1h-1zM1 41h2v1h-2zM19 41h1v1h-1zM47 41h1v1h-1zM50 41h2v1h-2zM60 41h1v1h-1zM73 41h1v1h-1zM77 41h1v1h-1zM79 41h2v1h-2zM83 41h1v1h-1zM85 41h1v1h-1zM87 41h1v1h-1zM92 41h2v1h-2zM95 41h2v1h-2zM99 41h1v1h-1zM11 42h1v1h-1zM13 42h1v1h-1zM18 42h1v1h-1zM23 42h1v1h-1zM42 42h1v1h-1zM50 42h1v1h-1zM54 42h1v1h-1zM64 42h1v1h-1zM70 42h1v1h-1zM76 42h2v1h-2zM80 42h3v1h-3zM85 42h2v1h-2zM88 42h2v1h-2zM93 42h3v1h-3zM97 42h3v1h-3zM0 43h1v1h-1zM9 43h1v1h-1zM22 43h1v1h-1zM31 43h1v1h-1zM50 43h1v1h-1zM52 43h1v1h-1zM54 43h2v1h-2zM60 43h1v1h-1zM63 43h1v1h-1zM67 43h2v1h-2zM71 43h3v1h-3zM77 43h3v1h-3zM81 43h1v1h-1zM83 43h3v1h-3zM87 43h2v1h-2zM90 43h1v1h-1zM92 43h3v1h-3zM96 43h1v1h-1zM98 43h2v1h-2zM0 44h1v1h-1zM18 44h1v1h-1zM22 44h1v1h-1zM50 44h1v1h-1zM66 44h1v1h-1zM69 44h1v1h-1zM71 44h1v1h-1zM84 44h1v1h-1zM87 44h1v1h-1zM89 44h4v1h-4zM94 44h6v1h-6zM11 45h1v1h-1zM18 45h1v1h-1zM39 45h1v1h-1zM52 45h2v1h-2zM61 45h1v1h-1zM73 45h4v1h-4zM79 45h4v1h-4zM85 45h3v1h-3zM89 45h4v1h-4zM94 45h1v1h-1zM96 45h4v1h-4zM0 46h1v1h-1zM4 46h1v1h-1zM18 46h1v1h-1zM51 46h1v1h-1zM54 46h1v1h-1zM60 46h1v1h-1zM70 46h2v1h-2zM77 46h1v1h-1zM81 46h1v1h-1zM83 46h1v1h-1zM85 46h2v1h-2zM88 46h3v1h-3zM92 46h2v1h-2zM95 46h1v1h-1zM98 46h2v1h-2zM5 47h1v1h-1zM19 47h1v1h-1zM22 47h1v1h-1zM45 47h1v1h-1zM52 47h1v1h-1zM54 47h1v1h-1zM60 47h2v1h-2zM67 47h1v1h-1zM69 47h1v1h-1zM71 47h1v1h-1zM73 47h5v1h-5zM79 47h1v1h-1zM87 47h1v1h-1zM89 47h1v1h-1zM91 47h1v1h-1zM93 47h2v1h-2zM96 47h1v1h-1zM98 47h1v1h-1zM54 48h1v1h-1zM60 48h1v1h-1zM71 48h1v1h-1zM74 48h10v1h-10zM85 48h1v1h-1zM87 48h2v1h-2zM91 48h3v1h-3zM96 48h1v1h-1zM5 49h1v1h-1zM11 49h1v1h-1zM18 49h2v1h-2zM22 49h1v1h-1zM51 49h1v1h-1zM54 49h1v1h-1zM66 49h1v1h-1zM74 49h1v1h-1zM78 49h2v1h-2zM81 49h1v1h-1zM84 49h1v1h-1zM88 49h1v1h-1zM90 49h2v1h-2zM93 49h1v1h-1zM96 49h1v1h-1zM99 49h1v1h-1zM3 50h1v1h-1zM9 50h1v1h-1zM14 50h2v1h-2zM17 50h1v1h-1zM20 50h1v1h-1zM46 50h1v1h-1zM53 50h1v1h-1zM57 50h1v1h-1zM65 50h1v1h-1zM70 50h1v1h-1zM77 50h1v1h-1zM83 50h1v1h-1zM86 50h1v1h-1zM97 50h2v1h-2zM13 51h1v1h-1zM26 51h1v1h-1zM39 51h1v1h-1zM52 51h1v1h-1zM55 51h2v1h-2zM58 51h1v1h-1zM60 51h1v1h-1zM66 51h1v1h-1zM74 51h1v1h-1zM78 51h1v1h-1zM81 51h3v1h-3zM87 51h1v1h-1zM91 51h1v1h-1zM94 51h1v1h-1zM96 51h1v1h-1zM98 51h1v1h-1zM18 52h1v1h-1zM22 52h1v1h-1zM38 52h1v1h-1zM51 52h2v1h-2zM56 52h1v1h-1zM61 52h1v1h-1zM63 52h1v1h-1zM67 52h1v1h-1zM73 52h2v1h-2zM76 52h3v1h-3zM80 52h3v1h-3zM84 52h1v1h-1zM88 52h2v1h-2zM91 52h5v1h-5zM99 52h1v1h-1zM18 53h1v1h-1zM30 53h1v1h-1zM42 53h1v1h-1zM45 53h1v1h-1zM50 53h3v1h-3zM60 53h1v1h-1zM68 53h1v1h-1zM74 53h1v1h-1zM76 53h2v1h-2zM79 53h3v1h-3zM87 53h2v1h-2zM93 53h1v1h-1zM95 53h3v1h-3zM99 53h1v1h-1zM45 54h1v1h-1zM50 54h1v1h-1zM54 54h1v1h-1zM65 54h1v1h-1zM67 54h2v1h-2zM72 54h2v1h-2zM75 54h1v1h-1zM78 54h1v1h-1zM82 54h1v1h-1zM85 54h1v1h-1zM87 54h2v1h-2zM90 54h7v1h-7zM18 55h1v1h-1zM45 55h1v1h-1zM50 55h1v1h-1zM53 55h2v1h-2zM61 55h1v1h-1zM63 55h1v1h-1zM71 55h1v1h-1zM73 55h4v1h-4zM78 55h2v1h-2zM84 55h1v1h-1zM87 55h3v1h-3zM92 55h3v1h-3zM98 55h2v1h-2zM19 56h1v1h-1zM51 56h4v1h-4zM61 56h1v1h-1zM68 56h1v1h-1zM77 56h2v1h-2zM80 56h3v1h-3zM86 56h1v1h-1zM88 56h2v1h-2zM92 56h7v1h-7zM0 57h1v1h-1zM18 57h2v1h-2zM50 57h1v1h-1zM52 57h3v1h-3zM63 57h1v1h-1zM65 57h1v1h-1zM67 57h2v1h-2zM71 57h1v1h-1zM75 57h1v1h-1zM77 57h1v1h-1zM85 57h1v1h-1zM88 57h1v1h-1zM91 57h2v1h-2zM94 57h3v1h-3zM18 58h1v1h-1zM23 58h1v1h-1zM45 58h1v1h-1zM50 58h1v1h-1zM53 58h1v1h-1zM61 58h1v1h-1zM70 58h1v1h-1zM72 58h3v1h-3zM76 58h4v1h-4zM81 58h2v1h-2zM84 58h1v1h-1zM86 58h2v1h-2zM90 58h2v1h-2zM96 58h3v1h-3zM18 59h2v1h-2zM41 59h1v1h-1zM50 59h1v1h-1zM61 59h1v1h-1zM67 59h2v1h-2zM70 59h3v1h-3zM75 59h2v1h-2zM78 59h3v1h-3zM83 59h1v1h-1zM87 59h1v1h-1zM91 59h1v1h-1zM93 59h2v1h-2zM97 59h1v1h-1zM0 60h1v1h-1zM5 60h1v1h-1zM18 60h1v1h-1zM22 60h1v1h-1zM38 60h1v1h-1zM50 60h2v1h-2zM60 60h4v1h-4zM78 60h1v1h-1zM80 60h2v1h-2zM84 60h2v1h-2zM87 60h2v1h-2zM91 60h5v1h-5zM97 60h1v1h-1zM99 60h1v1h-1zM0 61h1v1h-1zM18 61h2v1h-2zM22 61h1v1h-1zM54 61h1v1h-1zM60 61h3v1h-3zM71 61h2v1h-2zM74 61h3v1h-3zM79 61h1v1h-1zM81 61h1v1h-1zM84 61h2v1h-2zM87 61h3v1h-3zM91 61h3v1h-3zM96 61h1v1h-1zM11 62h1v1h-1zM18 62h2v1h-2zM25 62h1v1h-1zM38 62h1v1h-1zM42 62h1v1h-1zM52 62h3v1h-3zM59 62h1v1h-1zM61 62h1v1h-1zM67 62h2v1h-2zM73 62h2v1h-2zM78 62h1v1h-1zM80 62h4v1h-4zM86 62h2v1h-2zM91 62h2v1h-2zM94 62h2v1h-2zM99 62h1v1h-1zM1 63h1v1h-1zM19 63h2v1h-2zM22 63h2v1h-2zM36 63h1v1h-1zM47 63h1v1h-1zM63 63h1v1h-1zM71 63h2v1h-2zM75 63h1v1h-1zM85 63h2v1h-2zM99 63h1v1h-1zM7 64h1v1h-1zM12 64h1v1h-1zM26 64h2v1h-2zM31 64h1v1h-1zM38 64h1v1h-1zM47 64h1v1h-1zM52 64h1v1h-1zM56 64h1v1h-1zM60 64h1v1h-1zM63 64h2v1h-2zM71 64h1v1h-1zM74 64h1v1h-1zM82 64h2v1h-2zM89 64h1v1h-1zM92 64h1v1h-1zM95 64h3v1h-3zM1 65h1v1h-1zM21 65h1v1h-1zM51 65h1v1h-1zM55 65h1v1h-1zM75 65h3v1h-3zM80 65h3v1h-3zM84 65h1v1h-1zM90 65h1v1h-1zM94 65h1v1h-1zM96 65h2v1h-2zM8 66h1v1h-1zM20 66h1v1h-1zM24 66h1v1h-1zM31 66h1v1h-1zM45 66h1v1h-1zM47 66h2v1h-2zM52 66h1v1h-1zM56 66h1v1h-1zM72 66h1v1h-1zM77 66h1v1h-1zM80 66h5v1h-5zM86 66h1v1h-1zM95 66h1v1h-1zM98 66h1v1h-1zM11 67h1v1h-1zM51 67h1v1h-1zM57 67h1v1h-1zM70 67h1v1h-1zM81 67h4v1h-4zM88 67h1v1h-1zM90 67h1v1h-1zM93 67h4v1h-4zM99 67h1v1h-1zM1 68h1v1h-1zM4 68h1v1h-1zM9 68h1v1h-1zM13 68h1v1h-1zM22 68h1v1h-1zM25 68h2v1h-2zM35 68h1v1h-1zM51 68h1v1h-1zM53 68h1v1h-1zM55 68h2v1h-2zM60 68h1v1h-1zM63 68h1v1h-1zM77 68h1v1h-1zM79 68h1v1h-1zM81 68h2v1h-2zM85 68h1v1h-1zM88 68h1v1h-1zM92 68h1v1h-1zM96 68h1v1h-1zM19 69h1v1h-1zM45 69h1v1h-1zM53 69h1v1h-1zM77 69h2v1h-2zM92 69h2v1h-2zM95 69h1v1h-1zM38 70h1v1h-1zM56 70h1v1h-1zM71 70h1v1h-1zM75 70h1v1h-1zM77 70h1v1h-1zM79 70h3v1h-3zM85 70h1v1h-1zM91 70h2v1h-2zM95 70h2v1h-2zM98 70h1v1h-1zM26 71h1v1h-1zM41 71h1v1h-1zM45 71h1v1h-1zM51 71h1v1h-1zM63 71h1v1h-1zM65 71h2v1h-2zM70 71h1v1h-1zM74 71h1v1h-1zM81 71h1v1h-1zM88 71h1v1h-1zM90 71h1v1h-1zM94 71h1v1h-1zM96 71h1v1h-1zM1 72h1v1h-1zM3 72h1v1h-1zM29 72h1v1h-1zM45 72h1v1h-1zM47 72h1v1h-1zM51 72h1v1h-1zM68 72h1v1h-1zM82 72h1v1h-1zM96 72h2v1h-2zM0 73h1v1h-1zM22 73h1v1h-1zM24 73h1v1h-1zM26 73h1v1h-1zM39 73h1v1h-1zM41 73h1v1h-1zM44 73h1v1h-1zM48 73h1v1h-1zM53 73h2v1h-2zM63 73h1v1h-1zM68 73h1v1h-1zM75 73h2v1h-2zM78 73h1v1h-1zM81 73h1v1h-1zM86 73h1v1h-1zM90 73h1v1h-1zM94 73h1v1h-1zM97 73h2v1h-2zM4 74h1v1h-1zM11 74h1v1h-1zM22 74h2v1h-2zM26 74h1v1h-1zM56 74h1v1h-1zM62 74h1v1h-1zM71 74h3v1h-3zM79 74h1v1h-1zM82 74h1v1h-1zM89 74h1v1h-1zM92 74h1v1h-1zM96 74h1v1h-1zM0 75h2v1h-2zM4 75h1v1h-1zM26 75h1v1h-1zM38 75h1v1h-1zM46 75h1v1h-1zM54 75h2v1h-2zM63 75h1v1h-1zM71 75h1v1h-1zM76 75h1v1h-1zM78 75h2v1h-2zM81 75h1v1h-1zM94 75h1v1h-1zM99 75h1v1h-1zM0 76h2v1h-2zM4 76h1v1h-1zM19 76h1v1h-1zM21 76h2v1h-2zM31 76h1v1h-1zM38 76h1v1h-1zM45 76h1v1h-1zM47 76h1v1h-1zM50 76h1v1h-1zM52 76h1v1h-1zM76 76h1v1h-1zM88 76h2v1h-2zM92 76h1v1h-1zM94 76h1v1h-1zM97 76h1v1h-1zM5 77h1v1h-1zM9 77h1v1h-1zM27 77h2v1h-2zM55 77h1v1h-1zM73 77h1v1h-1zM78 77h1v1h-1zM90 77h1v1h-1zM95 77h1v1h-1zM97 77h1v1h-1zM19 78h1v1h-1zM60 78h1v1h-1zM62 78h1v1h-1zM73 78h1v1h-1zM79 78h1v1h-1zM85 78h1v1h-1zM89 78h2v1h-2zM93 78h1v1h-1zM0 79h1v1h-1zM41 79h1v1h-1zM56 79h1v1h-1zM74 79h1v1h-1zM77 79h1v1h-1zM79 79h1v1h-1zM82 79h1v1h-1zM88 79h2v1h-2zM91 79h2v1h-2zM96 79h1v1h-1zM31 80h1v1h-1zM45 80h1v1h-1zM51 80h2v1h-2zM63 80h1v1h-1zM71 80h1v1h-1zM74 80h1v1h-1zM76 80h1v1h-1zM79 80h3v1h-3zM85 80h2v1h-2zM90 80h2v1h-2zM94 80h2v1h-2zM2 81h1v1h-1zM20 81h3v1h-3zM45 81h1v1h-1zM53 81h1v1h-1zM60 81h1v1h-1zM71 81h1v1h-1zM74 81h1v1h-1zM77 81h1v1h-1zM86 81h1v1h-1zM89 81h2v1h-2zM92 81h1v1h-1zM95 81h1v1h-1zM97 81h1v1h-1zM30 82h1v1h-1zM51 82h1v1h-1zM53 82h1v1h-1zM60 82h1v1h-1zM66 82h1v1h-1zM77 82h1v1h-1zM81 82h1v1h-1zM85 82h2v1h-2zM89 82h1v1h-1zM92 82h1v1h-1zM22 83h3v1h-3zM26 83h1v1h-1zM31 83h1v1h-1zM47 83h1v1h-1zM56 83h1v1h-1zM58 83h1v1h-1zM60 83h1v1h-1zM70 83h2v1h-2zM77 83h1v1h-1zM93 83h1v1h-1zM19 84h1v1h-1zM22 84h1v1h-1zM24 84h1v1h-1zM26 84h1v1h-1zM45 84h1v1h-1zM53 84h1v1h-1zM56 84h1v1h-1zM75 84h1v1h-1zM77 84h1v1h-1zM80 84h1v1h-1zM82 84h1v1h-1zM84 84h1v1h-1zM87 84h5v1h-5zM97 84h1v1h-1zM23 85h2v1h-2zM31 85h1v1h-1zM47 85h1v1h-1zM65 85h1v1h-1zM71 85h2v1h-2zM80 85h1v1h-1zM83 85h1v1h-1zM91 85h2v1h-2zM19 86h1v1h-1zM38 86h1v1h-1zM51 86h2v1h-2zM56 86h1v1h-1zM63 86h1v1h-1zM74 86h1v1h-1zM77 86h1v1h-1zM80 86h3v1h-3zM84 86h1v1h-1zM0 87h1v1h-1zM19 87h1v1h-1zM24 87h1v1h-1zM30 87h1v1h-1zM45 87h1v1h-1zM60 87h1v1h-1zM71 87h2v1h-2zM75 87h1v1h-1zM80 87h1v1h-1zM82 87h1v1h-1zM84 87h1v1h-1zM89 87h2v1h-2zM1 88h2v1h-2zM51 88h1v1h-1zM58 88h1v1h-1zM60 88h1v1h-1zM71 88h1v1h-1zM74 88h1v1h-1zM77 88h1v1h-1zM80 88h1v1h-1zM82 88h1v1h-1zM91 88h2v1h-2zM95 88h1v1h-1zM4 89h1v1h-1zM22 89h3v1h-3zM45 89h1v1h-1zM56 89h1v1h-1zM63 89h1v1h-1zM72 89h2v1h-2zM75 89h1v1h-1zM79 89h2v1h-2zM86 89h1v1h-1zM89 89h1v1h-1zM94 89h1v1h-1zM53 90h1v1h-1zM55 90h1v1h-1zM72 90h1v1h-1zM81 90h1v1h-1zM85 90h1v1h-1zM87 90h2v1h-2zM94 90h1v1h-1zM97 90h1v1h-1zM18 91h1v1h-1zM51 91h1v1h-1zM53 91h1v1h-1zM58 91h1v1h-1zM60 91h1v1h-1zM63 91h1v1h-1zM71 91h2v1h-2zM74 91h2v1h-2zM80 91h1v1h-1zM84 91h1v1h-1zM89 91h1v1h-1zM51 92h2v1h-2zM55 92h1v1h-1zM72 92h1v1h-1zM74 92h1v1h-1zM76 92h1v1h-1zM78 92h1v1h-1zM82 92h3v1h-3zM86 92h1v1h-1zM89 92h1v1h-1zM78 93h1v1h-1zM83 93h2v1h-2zM86 93h2v1h-2zM89 93h1v1h-1zM92 93h1v1h-1zM60 94h1v1h-1zM65 94h1v1h-1zM70 94h1v1h-1zM72 94h1v1h-1zM76 94h1v1h-1zM80 94h2v1h-2zM83 94h1v1h-1zM90 94h1v1h-1zM51 95h3v1h-3zM55 95h1v1h-1zM70 95h1v1h-1zM78 95h1v1h-1zM81 95h1v1h-1zM83 95h1v1h-1zM89 95h1v1h-1zM97 95h1v1h-1zM18 96h1v1h-1zM45 96h1v1h-1zM73 96h1v1h-1zM75 96h2v1h-2zM78 96h2v1h-2zM83 96h2v1h-2zM86 96h1v1h-1zM88 96h2v1h-2zM51 97h1v1h-1zM59 97h1v1h-1zM64 97h1v1h-1zM71 97h2v1h-2zM74 97h2v1h-2zM77 97h2v1h-2zM81 97h1v1h-1zM90 97h1v1h-1zM22 98h1v1h-1zM52 98h1v1h-1zM56 98h1v1h-1zM64 98h1v1h-1zM72 98h1v1h-1zM74 98h1v1h-1zM77 98h2v1h-2zM81 98h1v1h-1zM84 98h1v1h-1zM88 98h1v1h-1zM52 99h1v1h-1zM64 99h3v1h-3zM72 99h1v1h-1zM82 99h1v1h-1zM87 99h1v1h-1zM90 99h1v1h-1zM93 99h1v1h-1zM19 100h1v1h-1zM52 100h2v1h-2zM63 100h2v1h-2zM70 100h1v1h-1zM72 100h1v1h-1zM78 100h1v1h-1zM84 100h1v1h-1zM88 100h1v1h-1zM18 101h1v1h-1zM52 101h2v1h-2zM70 101h2v1h-2zM78 101h1v1h-1zM83 101h1v1h-1zM87 101h1v1h-1z"/>
<path fill="#040803" d="M8 0h1v1h-1zM18 0h1v1h-1zM36 0h2v1h-2zM70 0h1v1h-1zM85 0h2v1h-2zM90 0h1v1h-1zM1 1h2v1h-2zM21 1h2v1h-2zM94 1h1v1h-1zM98 1h2v1h-2zM3 2h2v1h-2zM23 2h1v1h-1zM37 2h4v1h-4zM42 2h1v1h-1zM53 2h2v1h-2zM65 2h2v1h-2zM20 3h1v1h-1zM23 3h1v1h-1zM25 3h1v1h-1zM43 3h1v1h-1zM46 3h1v1h-1zM48 3h1v1h-1zM58 3h3v1h-3zM70 3h1v1h-1zM86 3h2v1h-2zM98 3h2v1h-2zM2 4h1v1h-1zM14 4h1v1h-1zM20 4h1v1h-1zM30 4h3v1h-3zM41 4h5v1h-5zM52 4h2v1h-2zM60 4h1v1h-1zM62 4h1v1h-1zM90 4h3v1h-3zM10 5h3v1h-3zM24 5h1v1h-1zM38 5h1v1h-1zM48 5h1v1h-1zM55 5h2v1h-2zM65 5h1v1h-1zM68 5h1v1h-1zM81 5h1v1h-1zM85 5h3v1h-3zM98 5h1v1h-1zM0 6h1v1h-1zM5 6h1v1h-1zM32 6h1v1h-1zM34 6h1v1h-1zM42 6h1v1h-1zM48 6h1v1h-1zM52 6h1v1h-1zM78 6h2v1h-2zM93 6h1v1h-1zM1 7h1v1h-1zM14 7h2v1h-2zM23 7h1v1h-1zM25 7h3v1h-3zM30 7h1v1h-1zM36 7h2v1h-2zM39 7h1v1h-1zM43 7h1v1h-1zM47 7h6v1h-6zM61 7h1v1h-1zM69 7h1v1h-1zM72 7h1v1h-1zM77 7h1v1h-1zM80 7h1v1h-1zM84 7h1v1h-1zM92 7h1v1h-1zM22 8h1v1h-1zM29 8h1v1h-1zM31 8h1v1h-1zM42 8h1v1h-1zM49 8h2v1h-2zM52 8h1v1h-1zM59 8h1v1h-1zM62 8h2v1h-2zM65 8h1v1h-1zM79 8h2v1h-2zM82 8h2v1h-2zM85 8h2v1h-2zM94 8h1v1h-1zM97 8h1v1h-1zM99 8h1v1h-1zM5 9h1v1h-1zM10 9h1v1h-1zM12 9h1v1h-1zM20 9h2v1h-2zM24 9h2v1h-2zM37 9h1v1h-1zM40 9h1v1h-1zM49 9h2v1h-2zM53 9h1v1h-1zM61 9h1v1h-1zM65 9h1v1h-1zM76 9h2v1h-2zM79 9h1v1h-1zM81 9h1v1h-1zM85 9h2v1h-2zM90 9h1v1h-1zM95 9h2v1h-2zM14 10h1v1h-1zM28 10h1v1h-1zM36 10h1v1h-1zM49 10h1v1h-1zM53 10h3v1h-3zM61 10h1v1h-1zM67 10h1v1h-1zM75 10h1v1h-1zM77 10h1v1h-1zM83 10h1v1h-1zM95 10h1v1h-1zM44 11h1v1h-1zM46 11h2v1h-2zM62 11h5v1h-5zM72 11h1v1h-1zM20 12h1v1h-1zM39 12h1v1h-1zM50 12h1v1h-1zM76 12h1v1h-1zM93 12h1v1h-1zM96 12h1v1h-1zM9 13h1v1h-1zM19 13h1v1h-1zM45 13h1v1h-1zM49 13h3v1h-3zM55 13h1v1h-1zM65 13h1v1h-1zM84 13h1v1h-1zM21 14h2v1h-2zM28 14h1v1h-1zM31 14h4v1h-4zM36 14h1v1h-1zM40 14h1v1h-1zM42 14h3v1h-3zM47 14h1v1h-1zM57 14h1v1h-1zM63 14h1v1h-1zM66 14h1v1h-1zM68 14h1v1h-1zM82 14h1v1h-1zM88 14h1v1h-1zM91 14h1v1h-1zM93 14h1v1h-1zM97 14h1v1h-1zM2 15h1v1h-1zM18 15h1v1h-1zM32 15h2v1h-2zM69 15h2v1h-2zM82 15h1v1h-1zM96 15h2v1h-2zM15 16h1v1h-1zM51 16h2v1h-2zM22 17h1v1h-1zM53 17h1v1h-1zM55 17h2v1h-2zM59 17h1v1h-1zM61 17h1v1h-1zM64 17h1v1h-1zM75 17h2v1h-2zM78 17h1v1h-1zM87 17h1v1h-1zM0 18h2v1h-2zM18 18h4v1h-4zM26 18h1v1h-1zM29 18h1v1h-1zM34 18h2v1h-2zM58 18h1v1h-1zM72 18h1v1h-1zM76 18h1v1h-1zM79 18h1v1h-1zM91 18h4v1h-4zM0 19h5v1h-5zM10 19h1v1h-1zM15 19h2v1h-2zM26 19h1v1h-1zM32 19h1v1h-1zM60 19h2v1h-2zM69 19h1v1h-1zM81 19h2v1h-2zM98 19h1v1h-1zM59 20h2v1h-2zM67 20h1v1h-1zM71 20h1v1h-1zM78 20h4v1h-4zM86 20h1v1h-1zM0 21h1v1h-1zM4 21h1v1h-1zM8 21h1v1h-1zM13 21h1v1h-1zM20 21h3v1h-3zM26 21h1v1h-1zM38 21h1v1h-1zM45 21h1v1h-1zM53 21h1v1h-1zM55 21h2v1h-2zM58 21h1v1h-1zM60 21h2v1h-2zM73 21h1v1h-1zM78 21h1v1h-1zM88 21h1v1h-1zM90 21h1v1h-1zM93 21h1v1h-1zM98 21h1v1h-1zM4 22h1v1h-1zM8 22h1v1h-1zM10 22h2v1h-2zM16 22h1v1h-1zM21 22h1v1h-1zM31 22h3v1h-3zM37 22h3v1h-3zM41 22h1v1h-1zM45 22h3v1h-3zM49 22h3v1h-3zM53 22h1v1h-1zM56 22h1v1h-1zM58 22h1v1h-1zM62 22h1v1h-1zM65 22h1v1h-1zM70 22h1v1h-1zM74 22h1v1h-1zM76 22h1v1h-1zM78 22h1v1h-1zM80 22h2v1h-2zM83 22h2v1h-2zM87 22h1v1h-1zM89 22h2v1h-2zM92 22h1v1h-1zM95 22h1v1h-1zM97 22h1v1h-1zM0 23h2v1h-2zM6 23h1v1h-1zM8 23h2v1h-2zM11 23h1v1h-1zM13 23h2v1h-2zM18 23h1v1h-1zM21 23h6v1h-6zM36 23h4v1h-4zM41 23h1v1h-1zM45 23h1v1h-1zM47 23h1v1h-1zM51 23h3v1h-3zM63 23h4v1h-4zM68 23h1v1h-1zM70 23h2v1h-2zM73 23h2v1h-2zM76 23h1v1h-1zM78 23h1v1h-1zM81 23h3v1h-3zM85 23h1v1h-1zM87 23h1v1h-1zM89 23h1v1h-1zM94 23h1v1h-1zM0 24h2v1h-2zM3 24h1v1h-1zM8 24h1v1h-1zM12 24h1v1h-1zM14 24h2v1h-2zM21 24h2v1h-2zM24 24h1v1h-1zM29 24h1v1h-1zM32 24h1v1h-1zM38 24h2v1h-2zM41 24h2v1h-2zM44 24h1v1h-1zM47 24h1v1h-1zM51 24h2v1h-2zM54 24h2v1h-2zM60 24h1v1h-1zM62 24h1v1h-1zM70 24h1v1h-1zM76 24h3v1h-3zM84 24h1v1h-1zM87 24h1v1h-1zM91 24h2v1h-2zM95 24h1v1h-1zM2 25h1v1h-1zM6 25h1v1h-1zM8 25h1v1h-1zM10 25h1v1h-1zM13 25h1v1h-1zM21 25h4v1h-4zM26 25h1v1h-1zM28 25h1v1h-1zM32 25h1v1h-1zM36 25h1v1h-1zM38 25h1v1h-1zM40 25h3v1h-3zM44 25h2v1h-2zM47 25h1v1h-1zM51 25h1v1h-1zM53 25h3v1h-3zM60 25h1v1h-1zM64 25h2v1h-2zM70 25h3v1h-3zM78 25h1v1h-1zM80 25h1v1h-1zM82 25h1v1h-1zM85 25h1v1h-1zM92 25h1v1h-1zM97 25h3v1h-3zM1 26h1v1h-1zM9 26h1v1h-1zM11 26h1v1h-1zM13 26h1v1h-1zM19 26h1v1h-1zM21 26h1v1h-1zM23 26h2v1h-2zM27 26h1v1h-1zM29 26h1v1h-1zM32 26h1v1h-1zM36 26h3v1h-3zM41 26h1v1h-1zM43 26h2v1h-2zM46 26h2v1h-2zM51 26h4v1h-4zM56 26h1v1h-1zM60 26h1v1h-1zM64 26h3v1h-3zM70 26h4v1h-4zM75 26h1v1h-1zM79 26h1v1h-1zM82 26h2v1h-2zM85 26h1v1h-1zM89 26h3v1h-3zM0 27h1v1h-1zM2 27h1v1h-1zM9 27h1v1h-1zM11 27h1v1h-1zM13 27h3v1h-3zM22 27h1v1h-1zM24 27h4v1h-4zM30 27h2v1h-2zM41 27h2v1h-2zM44 27h2v1h-2zM47 27h3v1h-3zM56 27h1v1h-1zM58 27h3v1h-3zM62 27h1v1h-1zM65 27h1v1h-1zM67 27h1v1h-1zM70 27h1v1h-1zM72 27h1v1h-1zM77 27h2v1h-2zM81 27h3v1h-3zM85 27h1v1h-1zM87 27h3v1h-3zM98 27h1v1h-1zM0 28h3v1h-3zM4 28h1v1h-1zM7 28h2v1h-2zM11 28h1v1h-1zM13 28h1v1h-1zM18 28h1v1h-1zM21 28h3v1h-3zM29 28h1v1h-1zM31 28h1v1h-1zM38 28h4v1h-4zM43 28h1v1h-1zM45 28h1v1h-1zM51 28h3v1h-3zM55 28h2v1h-2zM60 28h1v1h-1zM70 28h2v1h-2zM76 28h5v1h-5zM89 28h1v1h-1zM91 28h1v1h-1zM94 28h1v1h-1zM97 28h1v1h-1zM99 28h1v1h-1zM2 29h1v1h-1zM4 29h4v1h-4zM9 29h2v1h-2zM13 29h2v1h-2zM16 29h1v1h-1zM19 29h1v1h-1zM23 29h1v1h-1zM25 29h2v1h-2zM28 29h1v1h-1zM30 29h1v1h-1zM36 29h2v1h-2zM39 29h1v1h-1zM41 29h1v1h-1zM44 29h1v1h-1zM50 29h1v1h-1zM52 29h2v1h-2zM57 29h2v1h-2zM60 29h1v1h-1zM62 29h1v1h-1zM66 29h1v1h-1zM71 29h1v1h-1zM80 29h1v1h-1zM89 29h1v1h-1zM91 29h1v1h-1zM95 29h1v1h-1zM97 29h2v1h-2zM1 30h2v1h-2zM4 30h1v1h-1zM6 30h1v1h-1zM8 30h1v1h-1zM11 30h1v1h-1zM13 30h1v1h-1zM15 30h1v1h-1zM19 30h2v1h-2zM22 30h1v1h-1zM30 30h1v1h-1zM32 30h1v1h-1zM36 30h2v1h-2zM40 30h2v1h-2zM48 30h2v1h-2zM51 30h1v1h-1zM53 30h1v1h-1zM60 30h1v1h-1zM62 30h1v1h-1zM64 30h3v1h-3zM70 30h2v1h-2zM73 30h1v1h-1zM82 30h3v1h-3zM89 30h2v1h-2zM94 30h2v1h-2zM97 30h2v1h-2zM0 31h1v1h-1zM9 31h1v1h-1zM11 31h1v1h-1zM13 31h1v1h-1zM17 31h1v1h-1zM19 31h1v1h-1zM21 31h3v1h-3zM25 31h1v1h-1zM27 31h2v1h-2zM31 31h1v1h-1zM36 31h1v1h-1zM38 31h1v1h-1zM42 31h1v1h-1zM48 31h1v1h-1zM51 31h3v1h-3zM56 31h1v1h-1zM58 31h1v1h-1zM62 31h5v1h-5zM70 31h1v1h-1zM75 31h1v1h-1zM77 31h1v1h-1zM82 31h3v1h-3zM87 31h3v1h-3zM91 31h1v1h-1zM95 31h1v1h-1zM0 32h4v1h-4zM8 32h2v1h-2zM11 32h1v1h-1zM13 32h2v1h-2zM22 32h3v1h-3zM38 32h1v1h-1zM41 32h2v1h-2zM47 32h2v1h-2zM51 32h3v1h-3zM56 32h1v1h-1zM60 32h1v1h-1zM62 32h2v1h-2zM72 32h1v1h-1zM78 32h1v1h-1zM88 32h1v1h-1zM91 32h1v1h-1zM97 32h3v1h-3zM2 33h1v1h-1zM4 33h4v1h-4zM9 33h2v1h-2zM12 33h2v1h-2zM21 33h1v1h-1zM23 33h4v1h-4zM28 33h1v1h-1zM30 33h2v1h-2zM36 33h4v1h-4zM42 33h1v1h-1zM48 33h1v1h-1zM51 33h2v1h-2zM54 33h1v1h-1zM56 33h1v1h-1zM58 33h1v1h-1zM63 33h1v1h-1zM72 33h1v1h-1zM74 33h2v1h-2zM77 33h1v1h-1zM80 33h3v1h-3zM84 33h1v1h-1zM86 33h4v1h-4zM93 33h3v1h-3zM97 33h2v1h-2zM0 34h3v1h-3zM4 34h1v1h-1zM7 34h1v1h-1zM12 34h2v1h-2zM16 34h2v1h-2zM22 34h1v1h-1zM24 34h1v1h-1zM26 34h1v1h-1zM28 34h1v1h-1zM35 34h1v1h-1zM41 34h1v1h-1zM45 34h3v1h-3zM56 34h1v1h-1zM62 34h2v1h-2zM70 34h3v1h-3zM75 34h1v1h-1zM78 34h1v1h-1zM85 34h1v1h-1zM87 34h3v1h-3zM94 34h1v1h-1zM2 35h1v1h-1zM5 35h3v1h-3zM9 35h1v1h-1zM11 35h1v1h-1zM13 35h1v1h-1zM20 35h1v1h-1zM23 35h1v1h-1zM27 35h1v1h-1zM30 35h3v1h-3zM36 35h1v1h-1zM38 35h3v1h-3zM52 35h3v1h-3zM56 35h1v1h-1zM58 35h1v1h-1zM62 35h1v1h-1zM64 35h3v1h-3zM75 35h1v1h-1zM79 35h4v1h-4zM88 35h5v1h-5zM96 35h1v1h-1zM2 36h2v1h-2zM5 36h1v1h-1zM8 36h1v1h-1zM12 36h1v1h-1zM20 36h3v1h-3zM26 36h1v1h-1zM32 36h1v1h-1zM37 36h3v1h-3zM41 36h1v1h-1zM43 36h1v1h-1zM47 36h2v1h-2zM51 36h1v1h-1zM53 36h1v1h-1zM55 36h1v1h-1zM57 36h1v1h-1zM60 36h1v1h-1zM63 36h1v1h-1zM65 36h2v1h-2zM70 36h2v1h-2zM77 36h2v1h-2zM82 36h2v1h-2zM86 36h1v1h-1zM92 36h2v1h-2zM97 36h1v1h-1zM2 37h2v1h-2zM11 37h1v1h-1zM13 37h1v1h-1zM19 37h4v1h-4zM24 37h4v1h-4zM30 37h2v1h-2zM35 37h1v1h-1zM39 37h1v1h-1zM41 37h1v1h-1zM45 37h1v1h-1zM52 37h1v1h-1zM55 37h1v1h-1zM60 37h1v1h-1zM62 37h2v1h-2zM77 37h2v1h-2zM80 37h5v1h-5zM87 37h1v1h-1zM92 37h1v1h-1zM0 38h1v1h-1zM9 38h1v1h-1zM13 38h1v1h-1zM19 38h2v1h-2zM23 38h2v1h-2zM26 38h1v1h-1zM28 38h1v1h-1zM38 38h2v1h-2zM41 38h2v1h-2zM45 38h1v1h-1zM47 38h1v1h-1zM51 38h1v1h-1zM56 38h1v1h-1zM58 38h1v1h-1zM62 38h1v1h-1zM64 38h1v1h-1zM70 38h1v1h-1zM74 38h1v1h-1zM78 38h1v1h-1zM82 38h2v1h-2zM86 38h1v1h-1zM88 38h1v1h-1zM0 39h2v1h-2zM4 39h2v1h-2zM7 39h1v1h-1zM9 39h2v1h-2zM13 39h2v1h-2zM22 39h1v1h-1zM24 39h7v1h-7zM35 39h2v1h-2zM41 39h1v1h-1zM45 39h1v1h-1zM48 39h1v1h-1zM53 39h1v1h-1zM56 39h1v1h-1zM58 39h1v1h-1zM60 39h1v1h-1zM65 39h1v1h-1zM70 39h1v1h-1zM72 39h2v1h-2zM75 39h1v1h-1zM78 39h1v1h-1zM80 39h1v1h-1zM84 39h1v1h-1zM87 39h3v1h-3zM91 39h2v1h-2zM97 39h2v1h-2zM1 40h2v1h-2zM4 40h1v1h-1zM7 40h1v1h-1zM11 40h1v1h-1zM14 40h1v1h-1zM16 40h1v1h-1zM19 40h1v1h-1zM21 40h1v1h-1zM23 40h2v1h-2zM27 40h2v1h-2zM30 40h2v1h-2zM36 40h1v1h-1zM38 40h1v1h-1zM40 40h1v1h-1zM42 40h1v1h-1zM45 40h1v1h-1zM47 40h1v1h-1zM52 40h2v1h-2zM55 40h1v1h-1zM58 40h3v1h-3zM63 40h2v1h-2zM66 40h1v1h-1zM70 40h1v1h-1zM72 40h1v1h-1zM78 40h1v1h-1zM81 40h1v1h-1zM83 40h2v1h-2zM87 40h2v1h-2zM95 40h1v1h-1zM0 41h1v1h-1zM3 41h2v1h-2zM8 41h1v1h-1zM16 41h1v1h-1zM22 41h2v1h-2zM25 41h3v1h-3zM31 41h2v1h-2zM40 41h2v1h-2zM45 41h1v1h-1zM52 41h2v1h-2zM56 41h1v1h-1zM61 41h2v1h-2zM65 41h1v1h-1zM67 41h1v1h-1zM70 41h3v1h-3zM74 41h3v1h-3zM78 41h1v1h-1zM82 41h1v1h-1zM84 41h1v1h-1zM86 41h1v1h-1zM89 41h1v1h-1zM91 41h1v1h-1zM94 41h1v1h-1zM97 41h2v1h-2zM0 42h1v1h-1zM2 42h1v1h-1zM7 42h1v1h-1zM9 42h1v1h-1zM12 42h1v1h-1zM19 42h4v1h-4zM24 42h1v1h-1zM26 42h1v1h-1zM30 42h1v1h-1zM32 42h1v1h-1zM35 42h2v1h-2zM38 42h1v1h-1zM41 42h1v1h-1zM45 42h1v1h-1zM47 42h1v1h-1zM49 42h1v1h-1zM51 42h1v1h-1zM53 42h1v1h-1zM55 42h2v1h-2zM63 42h1v1h-1zM65 42h1v1h-1zM74 42h1v1h-1zM78 42h2v1h-2zM87 42h1v1h-1zM90 42h3v1h-3zM1 43h1v1h-1zM4 43h1v1h-1zM6 43h1v1h-1zM8 43h1v1h-1zM14 43h2v1h-2zM19 43h2v1h-2zM24 43h1v1h-1zM27 43h1v1h-1zM42 43h1v1h-1zM44 43h2v1h-2zM47 43h2v1h-2zM51 43h1v1h-1zM53 43h1v1h-1zM56 43h1v1h-1zM64 43h3v1h-3zM70 43h1v1h-1zM80 43h1v1h-1zM82 43h1v1h-1zM86 43h1v1h-1zM89 43h1v1h-1zM97 43h1v1h-1zM1 44h1v1h-1zM5 44h1v1h-1zM11 44h1v1h-1zM14 44h1v1h-1zM20 44h1v1h-1zM24 44h1v1h-1zM26 44h1v1h-1zM29 44h1v1h-1zM31 44h1v1h-1zM39 44h1v1h-1zM41 44h1v1h-1zM45 44h1v1h-1zM51 44h3v1h-3zM55 44h2v1h-2zM59 44h1v1h-1zM63 44h1v1h-1zM65 44h1v1h-1zM70 44h1v1h-1zM74 44h3v1h-3zM78 44h3v1h-3zM82 44h1v1h-1zM86 44h1v1h-1zM88 44h1v1h-1zM0 45h1v1h-1zM6 45h1v1h-1zM20 45h1v1h-1zM23 45h1v1h-1zM35 45h1v1h-1zM43 45h1v1h-1zM50 45h2v1h-2zM55 45h1v1h-1zM58 45h1v1h-1zM70 45h3v1h-3zM84 45h1v1h-1zM88 45h1v1h-1zM5 46h1v1h-1zM8 46h1v1h-1zM21 46h3v1h-3zM26 46h1v1h-1zM31 46h1v1h-1zM38 46h1v1h-1zM45 46h1v1h-1zM48 46h1v1h-1zM52 46h2v1h-2zM56 46h2v1h-2zM61 46h2v1h-2zM64 46h1v1h-1zM66 46h1v1h-1zM79 46h2v1h-2zM84 46h1v1h-1zM87 46h1v1h-1zM97 46h1v1h-1zM4 47h1v1h-1zM8 47h1v1h-1zM18 47h1v1h-1zM21 47h1v1h-1zM23 47h1v1h-1zM31 47h1v1h-1zM38 47h1v1h-1zM47 47h1v1h-1zM53 47h1v1h-1zM55 47h1v1h-1zM59 47h1v1h-1zM62 47h1v1h-1zM65 47h2v1h-2zM70 47h1v1h-1zM72 47h1v1h-1zM78 47h1v1h-1zM80 47h4v1h-4zM86 47h1v1h-1zM90 47h1v1h-1zM97 47h1v1h-1zM99 47h1v1h-1zM1 48h1v1h-1zM5 48h1v1h-1zM10 48h1v1h-1zM13 48h1v1h-1zM17 48h3v1h-3zM22 48h4v1h-4zM28 48h1v1h-1zM38 48h2v1h-2zM41 48h1v1h-1zM47 48h2v1h-2zM51 48h1v1h-1zM56 48h1v1h-1zM58 48h1v1h-1zM62 48h1v1h-1zM64 48h1v1h-1zM70 48h1v1h-1zM72 48h1v1h-1zM84 48h1v1h-1zM90 48h1v1h-1zM94 48h2v1h-2zM97 48h2v1h-2zM2 49h1v1h-1zM6 49h1v1h-1zM27 49h1v1h-1zM32 49h1v1h-1zM35 49h1v1h-1zM39 49h1v1h-1zM45 49h1v1h-1zM48 49h1v1h-1zM52 49h2v1h-2zM55 49h1v1h-1zM57 49h1v1h-1zM61 49h4v1h-4zM70 49h3v1h-3zM75 49h3v1h-3zM80 49h1v1h-1zM86 49h2v1h-2zM89 49h1v1h-1zM92 49h1v1h-1zM94 49h1v1h-1zM98 49h1v1h-1zM10 50h1v1h-1zM18 50h1v1h-1zM21 50h1v1h-1zM24 50h1v1h-1zM26 50h1v1h-1zM28 50h1v1h-1zM31 50h3v1h-3zM36 50h1v1h-1zM39 50h1v1h-1zM41 50h1v1h-1zM44 50h2v1h-2zM56 50h1v1h-1zM59 50h1v1h-1zM71 50h1v1h-1zM80 50h1v1h-1zM91 50h1v1h-1zM8 51h1v1h-1zM11 51h1v1h-1zM18 51h2v1h-2zM21 51h2v1h-2zM34 51h1v1h-1zM38 51h1v1h-1zM40 51h1v1h-1zM42 51h1v1h-1zM45 51h3v1h-3zM59 51h1v1h-1zM62 51h2v1h-2zM72 51h1v1h-1zM75 51h2v1h-2zM84 51h1v1h-1zM88 51h1v1h-1zM97 51h1v1h-1zM0 52h2v1h-2zM7 52h5v1h-5zM21 52h1v1h-1zM23 52h2v1h-2zM26 52h1v1h-1zM32 52h1v1h-1zM45 52h3v1h-3zM50 52h1v1h-1zM53 52h1v1h-1zM58 52h1v1h-1zM62 52h1v1h-1zM64 52h1v1h-1zM66 52h1v1h-1zM72 52h1v1h-1zM75 52h1v1h-1zM85 52h3v1h-3zM90 52h1v1h-1zM96 52h1v1h-1zM98 52h1v1h-1zM0 53h2v1h-2zM5 53h1v1h-1zM8 53h1v1h-1zM11 53h2v1h-2zM19 53h1v1h-1zM23 53h2v1h-2zM26 53h1v1h-1zM29 53h1v1h-1zM34 53h1v1h-1zM37 53h1v1h-1zM39 53h1v1h-1zM53 53h3v1h-3zM58 53h1v1h-1zM61 53h1v1h-1zM63 53h1v1h-1zM65 53h2v1h-2zM70 53h3v1h-3zM83 53h1v1h-1zM85 53h1v1h-1zM91 53h1v1h-1zM98 53h1v1h-1zM0 54h1v1h-1zM10 54h2v1h-2zM18 54h2v1h-2zM21 54h2v1h-2zM24 54h1v1h-1zM29 54h4v1h-4zM37 54h1v1h-1zM39 54h1v1h-1zM41 54h1v1h-1zM44 54h1v1h-1zM47 54h1v1h-1zM51 54h2v1h-2zM55 54h1v1h-1zM57 54h2v1h-2zM60 54h1v1h-1zM63 54h1v1h-1zM70 54h1v1h-1zM74 54h1v1h-1zM76 54h2v1h-2zM81 54h1v1h-1zM83 54h2v1h-2zM89 54h1v1h-1zM97 54h2v1h-2zM1 55h3v1h-3zM6 55h1v1h-1zM11 55h1v1h-1zM13 55h1v1h-1zM19 55h3v1h-3zM24 55h2v1h-2zM28 55h1v1h-1zM32 55h1v1h-1zM38 55h2v1h-2zM41 55h2v1h-2zM44 55h1v1h-1zM46 55h2v1h-2zM51 55h2v1h-2zM55 55h2v1h-2zM58 55h2v1h-2zM62 55h1v1h-1zM65 55h2v1h-2zM72 55h1v1h-1zM77 55h1v1h-1zM80 55h4v1h-4zM86 55h1v1h-1zM90 55h1v1h-1zM96 55h2v1h-2zM0 56h2v1h-2zM5 56h1v1h-1zM8 56h1v1h-1zM14 56h1v1h-1zM18 56h1v1h-1zM22 56h1v1h-1zM24 56h1v1h-1zM41 56h1v1h-1zM45 56h1v1h-1zM55 56h4v1h-4zM66 56h1v1h-1zM70 56h3v1h-3zM75 56h2v1h-2zM83 56h3v1h-3zM90 56h2v1h-2zM2 57h1v1h-1zM5 57h1v1h-1zM7 57h1v1h-1zM10 57h2v1h-2zM26 57h1v1h-1zM31 57h1v1h-1zM41 57h1v1h-1zM43 57h1v1h-1zM45 57h3v1h-3zM49 57h1v1h-1zM51 57h1v1h-1zM55 57h1v1h-1zM58 57h1v1h-1zM60 57h1v1h-1zM64 57h1v1h-1zM66 57h1v1h-1zM70 57h1v1h-1zM72 57h1v1h-1zM74 57h1v1h-1zM78 57h1v1h-1zM80 57h5v1h-5zM87 57h1v1h-1zM89 57h1v1h-1zM93 57h1v1h-1zM97 57h2v1h-2zM0 58h3v1h-3zM7 58h1v1h-1zM19 58h1v1h-1zM21 58h2v1h-2zM24 58h2v1h-2zM28 58h1v1h-1zM31 58h1v1h-1zM42 58h1v1h-1zM51 58h1v1h-1zM55 58h2v1h-2zM59 58h2v1h-2zM62 58h2v1h-2zM65 58h2v1h-2zM71 58h1v1h-1zM80 58h1v1h-1zM85 58h1v1h-1zM88 58h2v1h-2zM92 58h2v1h-2zM95 58h1v1h-1zM0 59h2v1h-2zM8 59h1v1h-1zM11 59h1v1h-1zM14 59h2v1h-2zM23 59h2v1h-2zM26 59h2v1h-2zM30 59h1v1h-1zM45 59h1v1h-1zM47 59h1v1h-1zM49 59h1v1h-1zM52 59h1v1h-1zM58 59h1v1h-1zM60 59h1v1h-1zM62 59h1v1h-1zM77 59h1v1h-1zM81 59h2v1h-2zM84 59h1v1h-1zM86 59h1v1h-1zM88 59h1v1h-1zM92 59h1v1h-1zM98 59h1v1h-1zM8 60h3v1h-3zM13 60h1v1h-1zM19 60h1v1h-1zM21 60h1v1h-1zM24 60h1v1h-1zM28 60h1v1h-1zM31 60h1v1h-1zM42 60h1v1h-1zM45 60h1v1h-1zM53 60h4v1h-4zM58 60h1v1h-1zM64 60h2v1h-2zM70 60h2v1h-2zM73 60h3v1h-3zM77 60h1v1h-1zM82 60h2v1h-2zM86 60h1v1h-1zM89 60h2v1h-2zM96 60h1v1h-1zM98 60h1v1h-1zM2 61h1v1h-1zM4 61h1v1h-1zM7 61h2v1h-2zM12 61h1v1h-1zM21 61h1v1h-1zM24 61h1v1h-1zM27 61h1v1h-1zM31 61h1v1h-1zM35 61h1v1h-1zM37 61h2v1h-2zM51 61h3v1h-3zM55 61h2v1h-2zM58 61h1v1h-1zM63 61h3v1h-3zM70 61h1v1h-1zM73 61h1v1h-1zM77 61h1v1h-1zM80 61h1v1h-1zM82 61h1v1h-1zM86 61h1v1h-1zM90 61h1v1h-1zM97 61h1v1h-1zM0 62h2v1h-2zM4 62h1v1h-1zM6 62h1v1h-1zM8 62h3v1h-3zM13 62h1v1h-1zM20 62h2v1h-2zM23 62h2v1h-2zM29 62h1v1h-1zM31 62h1v1h-1zM39 62h1v1h-1zM41 62h1v1h-1zM45 62h1v1h-1zM51 62h1v1h-1zM55 62h2v1h-2zM62 62h2v1h-2zM66 62h1v1h-1zM70 62h1v1h-1zM76 62h2v1h-2zM79 62h1v1h-1zM84 62h1v1h-1zM88 62h1v1h-1zM90 62h1v1h-1zM93 62h1v1h-1zM96 62h3v1h-3zM0 63h1v1h-1zM10 63h3v1h-3zM21 63h1v1h-1zM26 63h1v1h-1zM38 63h1v1h-1zM51 63h1v1h-1zM55 63h1v1h-1zM60 63h1v1h-1zM66 63h1v1h-1zM82 63h1v1h-1zM87 63h1v1h-1zM95 63h1v1h-1zM97 63h1v1h-1zM0 64h2v1h-2zM3 64h2v1h-2zM8 64h1v1h-1zM11 64h1v1h-1zM15 64h1v1h-1zM21 64h1v1h-1zM23 64h3v1h-3zM30 64h1v1h-1zM34 64h1v1h-1zM36 64h1v1h-1zM41 64h1v1h-1zM45 64h1v1h-1zM51 64h1v1h-1zM53 64h1v1h-1zM62 64h1v1h-1zM77 64h1v1h-1zM85 64h2v1h-2zM90 64h2v1h-2zM98 64h1v1h-1zM7 65h1v1h-1zM9 65h1v1h-1zM11 65h2v1h-2zM15 65h1v1h-1zM22 65h1v1h-1zM25 65h1v1h-1zM31 65h1v1h-1zM37 65h1v1h-1zM42 65h3v1h-3zM83 65h1v1h-1zM85 65h1v1h-1zM87 65h1v1h-1zM93 65h1v1h-1zM1 66h2v1h-2zM4 66h1v1h-1zM6 66h1v1h-1zM11 66h1v1h-1zM13 66h1v1h-1zM26 66h4v1h-4zM38 66h1v1h-1zM42 66h1v1h-1zM63 66h1v1h-1zM71 66h1v1h-1zM87 66h1v1h-1zM89 66h1v1h-1zM94 66h1v1h-1zM5 67h1v1h-1zM21 67h1v1h-1zM23 67h1v1h-1zM26 67h2v1h-2zM38 67h3v1h-3zM53 67h1v1h-1zM62 67h1v1h-1zM72 67h1v1h-1zM75 67h1v1h-1zM78 67h1v1h-1zM87 67h1v1h-1zM92 67h1v1h-1zM5 68h1v1h-1zM8 68h1v1h-1zM12 68h1v1h-1zM20 68h2v1h-2zM23 68h1v1h-1zM27 68h2v1h-2zM36 68h1v1h-1zM38 68h1v1h-1zM41 68h1v1h-1zM59 68h1v1h-1zM65 68h1v1h-1zM70 68h1v1h-1zM72 68h1v1h-1zM74 68h1v1h-1zM78 68h1v1h-1zM91 68h1v1h-1zM93 68h2v1h-2zM18 69h1v1h-1zM52 69h1v1h-1zM64 69h1v1h-1zM70 69h1v1h-1zM73 69h1v1h-1zM80 69h1v1h-1zM82 69h1v1h-1zM91 69h1v1h-1zM98 69h1v1h-1zM3 70h3v1h-3zM8 70h1v1h-1zM11 70h1v1h-1zM13 70h1v1h-1zM15 70h1v1h-1zM23 70h1v1h-1zM26 70h1v1h-1zM43 70h1v1h-1zM51 70h1v1h-1zM53 70h1v1h-1zM57 70h1v1h-1zM60 70h1v1h-1zM64 70h2v1h-2zM73 70h1v1h-1zM76 70h1v1h-1zM93 70h1v1h-1zM97 70h1v1h-1zM10 71h1v1h-1zM29 71h3v1h-3zM39 71h1v1h-1zM43 71h1v1h-1zM52 71h1v1h-1zM56 71h2v1h-2zM64 71h1v1h-1zM71 71h1v1h-1zM75 71h1v1h-1zM77 71h2v1h-2zM86 71h1v1h-1zM0 72h1v1h-1zM8 72h2v1h-2zM22 72h3v1h-3zM42 72h1v1h-1zM53 72h1v1h-1zM66 72h1v1h-1zM70 72h3v1h-3zM80 72h2v1h-2zM83 72h2v1h-2zM86 72h2v1h-2zM92 72h1v1h-1zM98 72h1v1h-1zM4 73h1v1h-1zM8 73h1v1h-1zM11 73h1v1h-1zM13 73h1v1h-1zM29 73h2v1h-2zM40 73h1v1h-1zM56 73h1v1h-1zM62 73h1v1h-1zM71 73h1v1h-1zM77 73h1v1h-1zM79 73h1v1h-1zM83 73h1v1h-1zM87 73h1v1h-1zM89 73h1v1h-1zM91 73h1v1h-1zM5 74h1v1h-1zM9 74h1v1h-1zM31 74h1v1h-1zM47 74h2v1h-2zM54 74h1v1h-1zM58 74h1v1h-1zM63 74h1v1h-1zM75 74h1v1h-1zM78 74h1v1h-1zM81 74h1v1h-1zM84 74h1v1h-1zM86 74h1v1h-1zM91 74h1v1h-1zM94 74h1v1h-1zM98 74h1v1h-1zM13 75h1v1h-1zM17 75h1v1h-1zM22 75h3v1h-3zM31 75h1v1h-1zM41 75h1v1h-1zM47 75h1v1h-1zM51 75h2v1h-2zM56 75h1v1h-1zM70 75h1v1h-1zM72 75h1v1h-1zM84 75h1v1h-1zM86 75h3v1h-3zM90 75h1v1h-1zM95 75h1v1h-1zM97 75h1v1h-1zM2 76h1v1h-1zM9 76h2v1h-2zM12 76h1v1h-1zM23 76h2v1h-2zM53 76h2v1h-2zM62 76h2v1h-2zM78 76h1v1h-1zM91 76h1v1h-1zM93 76h1v1h-1zM4 77h1v1h-1zM7 77h1v1h-1zM13 77h1v1h-1zM20 77h2v1h-2zM25 77h1v1h-1zM30 77h1v1h-1zM32 77h1v1h-1zM36 77h1v1h-1zM38 77h1v1h-1zM40 77h1v1h-1zM43 77h1v1h-1zM45 77h1v1h-1zM48 77h1v1h-1zM60 77h1v1h-1zM62 77h1v1h-1zM75 77h1v1h-1zM81 77h1v1h-1zM83 77h1v1h-1zM87 77h1v1h-1zM89 77h1v1h-1zM4 78h1v1h-1zM6 78h1v1h-1zM8 78h2v1h-2zM22 78h1v1h-1zM31 78h1v1h-1zM43 78h1v1h-1zM45 78h1v1h-1zM47 78h1v1h-1zM51 78h2v1h-2zM63 78h1v1h-1zM78 78h1v1h-1zM83 78h1v1h-1zM88 78h1v1h-1zM94 78h1v1h-1zM5 79h1v1h-1zM19 79h1v1h-1zM21 79h2v1h-2zM36 79h1v1h-1zM45 79h1v1h-1zM51 79h1v1h-1zM53 79h1v1h-1zM64 79h1v1h-1zM70 79h1v1h-1zM84 79h1v1h-1zM87 79h1v1h-1zM97 79h1v1h-1zM0 80h1v1h-1zM4 80h2v1h-2zM9 80h1v1h-1zM13 80h1v1h-1zM23 80h2v1h-2zM27 80h1v1h-1zM38 80h1v1h-1zM41 80h1v1h-1zM47 80h1v1h-1zM60 80h1v1h-1zM62 80h1v1h-1zM66 80h1v1h-1zM72 80h1v1h-1zM78 80h1v1h-1zM83 80h1v1h-1zM87 80h1v1h-1zM92 80h1v1h-1zM97 80h1v1h-1zM0 81h1v1h-1zM6 81h1v1h-1zM24 81h3v1h-3zM38 81h1v1h-1zM44 81h1v1h-1zM52 81h1v1h-1zM56 81h1v1h-1zM63 81h1v1h-1zM81 81h1v1h-1zM84 81h1v1h-1zM0 82h3v1h-3zM5 82h1v1h-1zM21 82h1v1h-1zM31 82h2v1h-2zM41 82h1v1h-1zM45 82h1v1h-1zM47 82h1v1h-1zM55 82h1v1h-1zM62 82h2v1h-2zM71 82h1v1h-1zM75 82h1v1h-1zM78 82h1v1h-1zM84 82h1v1h-1zM87 82h1v1h-1zM1 83h2v1h-2zM21 83h1v1h-1zM39 83h1v1h-1zM53 83h1v1h-1zM55 83h1v1h-1zM62 83h1v1h-1zM72 83h1v1h-1zM78 83h1v1h-1zM81 83h1v1h-1zM84 83h1v1h-1zM87 83h2v1h-2zM1 84h2v1h-2zM5 84h2v1h-2zM9 84h1v1h-1zM11 84h1v1h-1zM21 84h1v1h-1zM28 84h1v1h-1zM38 84h1v1h-1zM52 84h1v1h-1zM62 84h3v1h-3zM66 84h1v1h-1zM71 84h2v1h-2zM74 84h1v1h-1zM76 84h1v1h-1zM78 84h1v1h-1zM83 84h1v1h-1zM86 84h1v1h-1zM94 84h2v1h-2zM98 84h1v1h-1zM0 85h1v1h-1zM5 85h1v1h-1zM7 85h1v1h-1zM19 85h1v1h-1zM22 85h1v1h-1zM27 85h1v1h-1zM38 85h1v1h-1zM41 85h1v1h-1zM45 85h1v1h-1zM53 85h1v1h-1zM56 85h1v1h-1zM60 85h1v1h-1zM62 85h2v1h-2zM66 85h1v1h-1zM70 85h1v1h-1zM75 85h1v1h-1zM81 85h2v1h-2zM89 85h1v1h-1zM0 86h1v1h-1zM10 86h1v1h-1zM12 86h1v1h-1zM23 86h2v1h-2zM26 86h2v1h-2zM37 86h1v1h-1zM64 86h2v1h-2zM70 86h1v1h-1zM72 86h1v1h-1zM78 86h1v1h-1zM86 86h2v1h-2zM89 86h1v1h-1zM2 87h1v1h-1zM8 87h1v1h-1zM11 87h1v1h-1zM21 87h1v1h-1zM26 87h1v1h-1zM56 87h1v1h-1zM58 87h1v1h-1zM62 87h3v1h-3zM66 87h1v1h-1zM70 87h1v1h-1zM76 87h2v1h-2zM87 87h1v1h-1zM5 88h2v1h-2zM11 88h1v1h-1zM19 88h1v1h-1zM21 88h1v1h-1zM31 88h1v1h-1zM36 88h1v1h-1zM38 88h1v1h-1zM52 88h2v1h-2zM56 88h1v1h-1zM66 88h1v1h-1zM78 88h1v1h-1zM83 88h1v1h-1zM87 88h1v1h-1zM0 89h2v1h-2zM21 89h1v1h-1zM30 89h1v1h-1zM38 89h1v1h-1zM41 89h2v1h-2zM51 89h1v1h-1zM62 89h1v1h-1zM64 89h1v1h-1zM70 89h2v1h-2zM74 89h1v1h-1zM83 89h2v1h-2zM88 89h1v1h-1zM92 89h1v1h-1zM24 90h1v1h-1zM45 90h1v1h-1zM60 90h1v1h-1zM62 90h1v1h-1zM64 90h2v1h-2zM70 90h1v1h-1zM80 90h1v1h-1zM84 90h1v1h-1zM89 90h1v1h-1zM91 90h1v1h-1zM22 91h1v1h-1zM24 91h1v1h-1zM41 91h1v1h-1zM45 91h1v1h-1zM55 91h2v1h-2zM65 91h1v1h-1zM77 91h1v1h-1zM83 91h1v1h-1zM88 91h1v1h-1zM0 92h1v1h-1zM11 92h1v1h-1zM24 92h1v1h-1zM45 92h1v1h-1zM53 92h1v1h-1zM56 92h1v1h-1zM58 92h2v1h-2zM62 92h1v1h-1zM65 92h1v1h-1zM70 92h2v1h-2zM73 92h1v1h-1zM85 92h1v1h-1zM92 92h1v1h-1zM21 93h1v1h-1zM24 93h1v1h-1zM45 93h1v1h-1zM55 93h1v1h-1zM59 93h1v1h-1zM65 93h2v1h-2zM71 93h2v1h-2zM22 94h2v1h-2zM55 94h2v1h-2zM58 94h1v1h-1zM63 94h1v1h-1zM66 94h1v1h-1zM87 94h1v1h-1zM18 95h2v1h-2zM23 95h1v1h-1zM25 95h1v1h-1zM31 95h1v1h-1zM60 95h1v1h-1zM63 95h1v1h-1zM65 95h1v1h-1zM72 95h1v1h-1zM11 96h1v1h-1zM51 96h1v1h-1zM55 96h1v1h-1zM62 96h1v1h-1zM64 96h3v1h-3zM71 96h2v1h-2zM80 96h2v1h-2zM92 96h1v1h-1zM0 97h1v1h-1zM19 97h1v1h-1zM24 97h1v1h-1zM26 97h1v1h-1zM38 97h1v1h-1zM52 97h2v1h-2zM55 97h1v1h-1zM58 97h1v1h-1zM65 97h2v1h-2zM70 97h1v1h-1zM80 97h1v1h-1zM83 97h1v1h-1zM97 97h1v1h-1zM23 98h1v1h-1zM51 98h1v1h-1zM57 98h1v1h-1zM59 98h2v1h-2zM62 98h1v1h-1zM65 98h2v1h-2zM71 98h1v1h-1zM83 98h1v1h-1zM19 99h1v1h-1zM58 99h1v1h-1zM60 99h1v1h-1zM63 99h1v1h-1zM70 99h2v1h-2zM80 99h1v1h-1zM60 100h1v1h-1zM83 100h1v1h-1zM91 100h1v1h-1zM22 101h1v1h-1zM55 101h1v1h-1zM62 101h1v1h-1zM66 101h1v1h-1zM72 101h1v1h-1z"/>
<path fill="#14301a" d="M1 0h3v1h-3zM5 0h2v1h-2zM11 0h1v1h-1zM19 0h1v1h-1zM28 0h1v1h-1zM30 0h3v1h-3zM34 0h1v1h-1zM40 0h3v1h-3zM17 1h1v1h-1zM8 2h4v1h-4zM41 2h1v1h-1zM46 2h1v1h-1zM84 2h1v1h-1zM3 3h2v1h-2zM6 3h1v1h-1zM22 3h1v1h-1zM32 3h2v1h-2zM36 3h1v1h-1zM47 3h1v1h-1zM25 4h2v1h-2zM34 4h1v1h-1zM37 4h4v1h-4zM58 4h1v1h-1zM73 4h1v1h-1zM80 4h1v1h-1zM13 5h1v1h-1zM21 5h1v1h-1zM23 5h1v1h-1zM36 5h1v1h-1zM59 5h1v1h-1zM74 5h1v1h-1zM82 5h1v1h-1zM90 5h3v1h-3zM94 5h1v1h-1zM14 6h1v1h-1zM35 6h1v1h-1zM60 6h1v1h-1zM66 6h1v1h-1zM69 6h1v1h-1zM74 6h1v1h-1zM95 6h1v1h-1zM99 6h1v1h-1zM53 7h1v1h-1zM55 7h1v1h-1zM60 7h1v1h-1zM62 7h1v1h-1zM65 7h2v1h-2zM75 7h1v1h-1zM78 7h1v1h-1zM85 7h2v1h-2zM51 8h1v1h-1zM53 8h1v1h-1zM55 8h1v1h-1zM58 8h1v1h-1zM60 8h1v1h-1zM67 8h1v1h-1zM70 8h1v1h-1zM73 8h1v1h-1zM75 8h3v1h-3zM89 8h3v1h-3zM9 9h1v1h-1zM51 9h2v1h-2zM55 9h1v1h-1zM57 9h2v1h-2zM63 9h2v1h-2zM71 9h2v1h-2zM82 9h1v1h-1zM89 9h1v1h-1zM93 9h1v1h-1zM59 10h2v1h-2zM63 10h1v1h-1zM71 10h1v1h-1zM80 10h1v1h-1zM97 10h1v1h-1zM26 11h1v1h-1zM34 11h2v1h-2zM57 11h1v1h-1zM71 11h1v1h-1zM98 11h1v1h-1zM13 12h3v1h-3zM22 12h1v1h-1zM65 12h1v1h-1zM4 13h2v1h-2zM7 13h1v1h-1zM20 13h4v1h-4zM32 13h1v1h-1zM35 13h2v1h-2zM38 13h3v1h-3zM54 13h1v1h-1zM94 13h4v1h-4zM1 14h1v1h-1zM5 14h1v1h-1zM16 14h1v1h-1zM20 14h1v1h-1zM25 14h1v1h-1zM41 14h1v1h-1zM70 14h1v1h-1zM5 15h1v1h-1zM13 15h1v1h-1zM16 15h2v1h-2zM37 15h1v1h-1zM42 15h1v1h-1zM55 15h1v1h-1zM66 15h1v1h-1zM79 15h1v1h-1zM2 16h1v1h-1zM17 16h2v1h-2zM24 16h2v1h-2zM32 16h4v1h-4zM45 16h1v1h-1zM50 16h1v1h-1zM55 16h4v1h-4zM75 16h3v1h-3zM8 17h1v1h-1zM24 17h2v1h-2zM35 17h3v1h-3zM58 17h1v1h-1zM60 17h1v1h-1zM62 17h1v1h-1zM80 17h3v1h-3zM91 17h2v1h-2zM4 18h1v1h-1zM6 18h7v1h-7zM24 18h1v1h-1zM31 18h2v1h-2zM44 18h2v1h-2zM49 18h1v1h-1zM57 18h1v1h-1zM63 18h1v1h-1zM7 19h1v1h-1zM17 19h1v1h-1zM20 19h1v1h-1zM31 19h1v1h-1zM35 19h1v1h-1zM38 19h1v1h-1zM40 19h2v1h-2zM47 19h2v1h-2zM55 19h1v1h-1zM76 19h1v1h-1zM0 20h3v1h-3zM10 20h4v1h-4zM17 20h2v1h-2zM23 20h4v1h-4zM28 20h1v1h-1zM36 20h2v1h-2zM47 20h1v1h-1zM52 20h3v1h-3zM70 20h1v1h-1zM72 20h1v1h-1zM88 20h1v1h-1zM92 20h1v1h-1zM1 21h1v1h-1zM9 21h1v1h-1zM14 21h2v1h-2zM25 21h1v1h-1zM33 21h3v1h-3zM37 21h1v1h-1zM42 21h1v1h-1zM48 21h2v1h-2zM71 21h1v1h-1zM80 21h1v1h-1zM89 21h1v1h-1zM2 22h1v1h-1zM40 22h1v1h-1zM44 22h1v1h-1zM17 23h1v1h-1zM20 23h1v1h-1zM34 23h2v1h-2zM40 23h1v1h-1zM4 24h1v1h-1zM16 24h1v1h-1zM33 24h2v1h-2zM36 24h2v1h-2zM59 24h1v1h-1zM15 25h1v1h-1zM33 25h2v1h-2zM37 25h1v1h-1zM43 25h1v1h-1zM7 26h1v1h-1zM12 26h1v1h-1zM33 26h1v1h-1zM42 26h1v1h-1zM58 26h2v1h-2zM16 27h1v1h-1zM33 27h1v1h-1zM35 27h1v1h-1zM40 27h1v1h-1zM46 27h1v1h-1zM55 27h1v1h-1zM66 27h1v1h-1zM33 28h1v1h-1zM57 28h1v1h-1zM12 29h1v1h-1zM32 29h1v1h-1zM34 29h1v1h-1zM46 29h1v1h-1zM16 30h1v1h-1zM34 30h2v1h-2zM44 30h1v1h-1zM58 30h1v1h-1zM12 31h1v1h-1zM14 31h1v1h-1zM29 31h1v1h-1zM10 32h1v1h-1zM17 32h1v1h-1zM28 32h1v1h-1zM33 32h2v1h-2zM36 32h1v1h-1zM40 32h1v1h-1zM44 32h1v1h-1zM49 32h1v1h-1zM59 32h1v1h-1zM15 33h1v1h-1zM46 33h1v1h-1zM49 33h1v1h-1zM57 33h1v1h-1zM59 33h1v1h-1zM3 34h1v1h-1zM15 34h1v1h-1zM32 34h1v1h-1zM36 34h1v1h-1zM40 34h1v1h-1zM66 34h1v1h-1zM34 35h1v1h-1zM49 35h1v1h-1zM60 35h1v1h-1zM10 36h1v1h-1zM34 36h1v1h-1zM49 36h1v1h-1zM59 36h1v1h-1zM17 37h1v1h-1zM36 37h1v1h-1zM46 37h1v1h-1zM49 37h1v1h-1zM16 38h1v1h-1zM37 38h1v1h-1zM55 38h1v1h-1zM21 39h1v1h-1zM32 39h1v1h-1zM34 39h1v1h-1zM49 39h1v1h-1zM57 39h1v1h-1zM13 40h1v1h-1zM15 40h1v1h-1zM17 40h1v1h-1zM34 40h1v1h-1zM44 40h1v1h-1zM46 40h1v1h-1zM62 40h1v1h-1zM12 41h1v1h-1zM33 41h2v1h-2zM14 42h1v1h-1zM17 42h1v1h-1zM28 42h1v1h-1zM34 42h1v1h-1zM37 42h1v1h-1zM40 42h1v1h-1zM43 42h2v1h-2zM59 42h1v1h-1zM3 43h1v1h-1zM16 43h2v1h-2zM23 43h1v1h-1zM32 43h2v1h-2zM35 43h2v1h-2zM38 43h1v1h-1zM43 43h1v1h-1zM46 43h1v1h-1zM49 43h1v1h-1zM57 43h1v1h-1zM10 44h1v1h-1zM15 44h3v1h-3zM34 44h2v1h-2zM40 44h1v1h-1zM43 44h1v1h-1zM49 44h1v1h-1zM5 45h1v1h-1zM9 45h1v1h-1zM14 45h1v1h-1zM22 45h1v1h-1zM24 45h2v1h-2zM28 45h2v1h-2zM33 45h1v1h-1zM42 45h1v1h-1zM49 45h1v1h-1zM59 45h1v1h-1zM3 46h1v1h-1zM13 46h4v1h-4zM20 46h1v1h-1zM30 46h1v1h-1zM35 46h3v1h-3zM39 46h2v1h-2zM43 46h1v1h-1zM49 46h1v1h-1zM2 47h1v1h-1zM6 47h2v1h-2zM11 47h1v1h-1zM15 47h1v1h-1zM17 47h1v1h-1zM26 47h1v1h-1zM28 47h2v1h-2zM33 47h1v1h-1zM35 47h3v1h-3zM40 47h2v1h-2zM43 47h1v1h-1zM46 47h1v1h-1zM49 47h1v1h-1zM6 48h2v1h-2zM9 48h1v1h-1zM16 48h1v1h-1zM26 48h1v1h-1zM29 48h2v1h-2zM32 48h6v1h-6zM49 48h1v1h-1zM53 48h1v1h-1zM8 49h1v1h-1zM17 49h1v1h-1zM23 49h1v1h-1zM28 49h1v1h-1zM33 49h2v1h-2zM44 49h1v1h-1zM46 49h1v1h-1zM49 49h1v1h-1zM1 50h1v1h-1zM4 50h1v1h-1zM7 50h1v1h-1zM25 50h1v1h-1zM27 50h1v1h-1zM30 50h1v1h-1zM2 51h3v1h-3zM23 51h1v1h-1zM25 51h1v1h-1zM30 51h1v1h-1zM37 51h1v1h-1zM41 51h1v1h-1zM64 51h1v1h-1zM86 51h1v1h-1zM93 51h1v1h-1zM5 52h1v1h-1zM12 52h1v1h-1zM27 52h2v1h-2zM35 52h1v1h-1zM37 52h1v1h-1zM40 52h1v1h-1zM49 52h1v1h-1zM55 52h1v1h-1zM57 52h1v1h-1zM59 52h1v1h-1zM2 53h2v1h-2zM7 53h1v1h-1zM10 53h1v1h-1zM15 53h1v1h-1zM17 53h1v1h-1zM20 53h1v1h-1zM27 53h1v1h-1zM43 53h1v1h-1zM46 53h1v1h-1zM49 53h1v1h-1zM3 54h1v1h-1zM5 54h1v1h-1zM16 54h2v1h-2zM34 54h1v1h-1zM36 54h1v1h-1zM46 54h1v1h-1zM66 54h1v1h-1zM10 55h1v1h-1zM12 55h1v1h-1zM14 55h1v1h-1zM34 55h2v1h-2zM48 55h2v1h-2zM2 56h2v1h-2zM17 56h1v1h-1zM26 56h1v1h-1zM33 56h1v1h-1zM35 56h1v1h-1zM40 56h1v1h-1zM43 56h2v1h-2zM46 56h1v1h-1zM48 56h1v1h-1zM60 56h1v1h-1zM64 56h1v1h-1zM16 57h1v1h-1zM21 57h1v1h-1zM27 57h1v1h-1zM32 57h4v1h-4zM40 57h1v1h-1zM57 57h1v1h-1zM59 57h1v1h-1zM6 58h1v1h-1zM15 58h1v1h-1zM20 58h1v1h-1zM34 58h1v1h-1zM46 58h1v1h-1zM49 58h1v1h-1zM3 59h1v1h-1zM10 59h1v1h-1zM17 59h1v1h-1zM20 59h1v1h-1zM33 59h1v1h-1zM35 59h1v1h-1zM59 59h1v1h-1zM12 60h1v1h-1zM15 60h1v1h-1zM17 60h1v1h-1zM20 60h1v1h-1zM29 60h1v1h-1zM32 60h1v1h-1zM34 60h1v1h-1zM37 60h1v1h-1zM40 60h1v1h-1zM43 60h1v1h-1zM46 60h1v1h-1zM48 60h2v1h-2zM5 61h1v1h-1zM9 61h1v1h-1zM14 61h4v1h-4zM20 61h1v1h-1zM32 61h1v1h-1zM34 61h1v1h-1zM47 61h1v1h-1zM49 61h1v1h-1zM2 62h1v1h-1zM7 62h1v1h-1zM12 62h1v1h-1zM14 62h1v1h-1zM17 62h1v1h-1zM32 62h1v1h-1zM35 62h1v1h-1zM37 62h1v1h-1zM40 62h1v1h-1zM49 62h1v1h-1zM5 63h1v1h-1zM15 63h1v1h-1zM30 63h1v1h-1zM32 63h1v1h-1zM59 63h1v1h-1zM70 63h1v1h-1zM78 63h1v1h-1zM84 63h1v1h-1zM98 63h1v1h-1zM9 64h2v1h-2zM32 64h1v1h-1zM39 64h1v1h-1zM46 64h1v1h-1zM58 64h2v1h-2zM76 64h1v1h-1zM8 65h1v1h-1zM13 65h1v1h-1zM26 65h1v1h-1zM32 65h1v1h-1zM34 65h2v1h-2zM38 65h3v1h-3zM46 65h1v1h-1zM49 65h1v1h-1zM57 65h1v1h-1zM66 65h1v1h-1zM71 65h2v1h-2zM3 66h1v1h-1zM7 66h1v1h-1zM10 66h1v1h-1zM12 66h1v1h-1zM16 66h1v1h-1zM23 66h1v1h-1zM36 66h1v1h-1zM40 66h1v1h-1zM55 66h1v1h-1zM57 66h1v1h-1zM59 66h1v1h-1zM62 66h1v1h-1zM66 66h1v1h-1zM88 66h1v1h-1zM7 67h3v1h-3zM12 67h4v1h-4zM25 67h1v1h-1zM28 67h2v1h-2zM32 67h1v1h-1zM35 67h1v1h-1zM37 67h1v1h-1zM42 67h1v1h-1zM58 67h1v1h-1zM60 67h1v1h-1zM85 67h1v1h-1zM7 68h1v1h-1zM16 68h2v1h-2zM32 68h1v1h-1zM42 68h3v1h-3zM46 68h2v1h-2zM57 68h1v1h-1zM62 68h1v1h-1zM84 68h1v1h-1zM0 69h3v1h-3zM22 69h1v1h-1zM30 69h2v1h-2zM42 69h1v1h-1zM56 69h1v1h-1zM58 69h1v1h-1zM62 69h1v1h-1zM66 69h1v1h-1zM86 69h2v1h-2zM89 69h1v1h-1zM97 69h1v1h-1zM2 70h1v1h-1zM7 70h1v1h-1zM9 70h1v1h-1zM21 70h1v1h-1zM39 70h2v1h-2zM48 70h1v1h-1zM58 70h1v1h-1zM87 70h1v1h-1zM1 71h1v1h-1zM5 71h5v1h-5zM14 71h2v1h-2zM24 71h2v1h-2zM27 71h1v1h-1zM42 71h1v1h-1zM47 71h1v1h-1zM58 71h2v1h-2zM72 71h2v1h-2zM87 71h1v1h-1zM89 71h1v1h-1zM2 72h1v1h-1zM10 72h1v1h-1zM14 72h2v1h-2zM17 72h1v1h-1zM28 72h1v1h-1zM34 72h1v1h-1zM48 72h1v1h-1zM52 72h1v1h-1zM55 72h1v1h-1zM57 72h2v1h-2zM60 72h1v1h-1zM88 72h1v1h-1zM2 73h1v1h-1zM5 73h1v1h-1zM9 73h1v1h-1zM21 73h1v1h-1zM27 73h1v1h-1zM32 73h1v1h-1zM34 73h1v1h-1zM36 73h1v1h-1zM43 73h1v1h-1zM51 73h2v1h-2zM60 73h1v1h-1zM80 73h1v1h-1zM82 73h1v1h-1zM93 73h1v1h-1zM3 74h1v1h-1zM7 74h1v1h-1zM13 74h1v1h-1zM15 74h1v1h-1zM21 74h1v1h-1zM24 74h1v1h-1zM27 74h2v1h-2zM33 74h1v1h-1zM36 74h1v1h-1zM42 74h2v1h-2zM49 74h1v1h-1zM57 74h1v1h-1zM70 74h1v1h-1zM76 74h1v1h-1zM3 75h1v1h-1zM9 75h2v1h-2zM15 75h1v1h-1zM28 75h1v1h-1zM30 75h1v1h-1zM37 75h1v1h-1zM40 75h1v1h-1zM48 75h1v1h-1zM57 75h2v1h-2zM65 75h2v1h-2zM89 75h1v1h-1zM5 76h2v1h-2zM14 76h1v1h-1zM16 76h2v1h-2zM25 76h1v1h-1zM35 76h1v1h-1zM43 76h1v1h-1zM46 76h1v1h-1zM48 76h1v1h-1zM55 76h3v1h-3zM60 76h1v1h-1zM66 76h1v1h-1zM70 76h1v1h-1zM86 76h1v1h-1zM98 76h1v1h-1zM8 77h1v1h-1zM12 77h1v1h-1zM35 77h1v1h-1zM39 77h1v1h-1zM41 77h1v1h-1zM44 77h1v1h-1zM47 77h1v1h-1zM57 77h3v1h-3zM64 77h1v1h-1zM72 77h1v1h-1zM80 77h1v1h-1zM82 77h1v1h-1zM86 77h1v1h-1zM91 77h1v1h-1zM7 78h1v1h-1zM14 78h3v1h-3zM26 78h2v1h-2zM29 78h1v1h-1zM35 78h2v1h-2zM40 78h1v1h-1zM48 78h2v1h-2zM58 78h2v1h-2zM72 78h1v1h-1zM84 78h1v1h-1zM91 78h1v1h-1zM2 79h3v1h-3zM11 79h2v1h-2zM14 79h2v1h-2zM27 79h1v1h-1zM31 79h1v1h-1zM37 79h1v1h-1zM47 79h1v1h-1zM57 79h2v1h-2zM65 79h1v1h-1zM76 79h1v1h-1zM2 80h1v1h-1zM11 80h1v1h-1zM15 80h1v1h-1zM20 80h1v1h-1zM25 80h2v1h-2zM35 80h1v1h-1zM39 80h1v1h-1zM48 80h1v1h-1zM3 81h2v1h-2zM27 81h1v1h-1zM29 81h2v1h-2zM35 81h2v1h-2zM41 81h3v1h-3zM46 81h1v1h-1zM58 81h2v1h-2zM70 81h1v1h-1zM72 81h1v1h-1zM3 82h1v1h-1zM7 82h1v1h-1zM10 82h1v1h-1zM14 82h3v1h-3zM23 82h1v1h-1zM26 82h2v1h-2zM35 82h1v1h-1zM39 82h1v1h-1zM44 82h1v1h-1zM48 82h1v1h-1zM58 82h2v1h-2zM64 82h1v1h-1zM70 82h1v1h-1zM5 83h1v1h-1zM7 83h5v1h-5zM13 83h1v1h-1zM16 83h1v1h-1zM25 83h1v1h-1zM37 83h1v1h-1zM43 83h1v1h-1zM46 83h1v1h-1zM59 83h1v1h-1zM65 83h1v1h-1zM20 84h1v1h-1zM23 84h1v1h-1zM25 84h1v1h-1zM27 84h1v1h-1zM37 84h1v1h-1zM41 84h2v1h-2zM58 84h3v1h-3zM3 85h1v1h-1zM9 85h2v1h-2zM12 85h1v1h-1zM14 85h1v1h-1zM16 85h1v1h-1zM29 85h1v1h-1zM33 85h1v1h-1zM36 85h1v1h-1zM43 85h2v1h-2zM58 85h2v1h-2zM64 85h1v1h-1zM2 86h1v1h-1zM6 86h2v1h-2zM9 86h1v1h-1zM16 86h1v1h-1zM25 86h1v1h-1zM28 86h1v1h-1zM30 86h1v1h-1zM34 86h1v1h-1zM36 86h1v1h-1zM43 86h2v1h-2zM46 86h1v1h-1zM49 86h1v1h-1zM58 86h2v1h-2zM62 86h1v1h-1zM66 86h1v1h-1zM3 87h1v1h-1zM5 87h3v1h-3zM28 87h1v1h-1zM39 87h2v1h-2zM42 87h1v1h-1zM47 87h1v1h-1zM57 87h1v1h-1zM7 88h4v1h-4zM12 88h1v1h-1zM14 88h1v1h-1zM25 88h1v1h-1zM27 88h1v1h-1zM29 88h1v1h-1zM40 88h1v1h-1zM44 88h1v1h-1zM47 88h1v1h-1zM70 88h1v1h-1zM3 89h1v1h-1zM5 89h1v1h-1zM8 89h3v1h-3zM12 89h3v1h-3zM25 89h1v1h-1zM27 89h1v1h-1zM29 89h1v1h-1zM35 89h2v1h-2zM39 89h1v1h-1zM43 89h2v1h-2zM46 89h3v1h-3zM55 89h1v1h-1zM58 89h2v1h-2zM81 89h1v1h-1zM1 90h1v1h-1zM11 90h1v1h-1zM14 90h1v1h-1zM22 90h2v1h-2zM31 90h1v1h-1zM37 90h1v1h-1zM43 90h1v1h-1zM47 90h1v1h-1zM57 90h1v1h-1zM0 91h1v1h-1zM13 91h1v1h-1zM19 91h1v1h-1zM25 91h1v1h-1zM31 91h1v1h-1zM39 91h1v1h-1zM59 91h1v1h-1zM78 91h1v1h-1zM2 92h1v1h-1zM4 92h2v1h-2zM8 92h1v1h-1zM14 92h1v1h-1zM23 92h1v1h-1zM38 92h1v1h-1zM0 93h1v1h-1zM8 93h2v1h-2zM13 93h1v1h-1zM29 93h4v1h-4zM37 93h1v1h-1zM41 93h1v1h-1zM48 93h1v1h-1zM58 93h1v1h-1zM64 93h1v1h-1zM1 94h1v1h-1zM7 94h1v1h-1zM20 94h2v1h-2zM24 94h1v1h-1zM26 94h1v1h-1zM31 94h1v1h-1zM36 94h1v1h-1zM38 94h1v1h-1zM41 94h1v1h-1zM43 94h1v1h-1zM48 94h1v1h-1zM59 94h1v1h-1zM62 94h1v1h-1zM2 95h1v1h-1zM8 95h1v1h-1zM11 95h1v1h-1zM21 95h2v1h-2zM26 95h1v1h-1zM41 95h1v1h-1zM44 95h1v1h-1zM48 95h1v1h-1zM66 95h1v1h-1zM80 95h1v1h-1zM2 96h1v1h-1zM5 96h2v1h-2zM36 96h1v1h-1zM38 96h2v1h-2zM44 96h1v1h-1zM59 96h1v1h-1zM1 97h1v1h-1zM4 97h1v1h-1zM6 97h3v1h-3zM10 97h1v1h-1zM14 97h1v1h-1zM21 97h1v1h-1zM25 97h1v1h-1zM28 97h1v1h-1zM31 97h1v1h-1zM62 97h1v1h-1zM1 98h1v1h-1zM4 98h2v1h-2zM7 98h1v1h-1zM27 98h1v1h-1zM30 98h1v1h-1zM39 98h1v1h-1zM2 99h1v1h-1zM4 99h1v1h-1zM20 99h1v1h-1zM24 99h1v1h-1zM48 99h1v1h-1zM59 99h1v1h-1zM0 100h1v1h-1zM4 100h1v1h-1zM9 100h1v1h-1zM11 100h1v1h-1zM22 100h1v1h-1zM28 100h1v1h-1zM31 100h1v1h-1zM47 100h1v1h-1zM0 101h2v1h-2zM8 101h2v1h-2zM11 101h1v1h-1zM45 101h1v1h-1z"/>
<path fill="#1d4125" d="M33 0h1v1h-1zM45 0h1v1h-1zM60 0h3v1h-3zM0 1h1v1h-1zM11 1h2v1h-2zM28 1h1v1h-1zM31 1h1v1h-1zM44 1h2v1h-2zM2 2h1v1h-1zM21 2h2v1h-2zM32 2h1v1h-1zM36 2h1v1h-1zM47 2h1v1h-1zM5 3h1v1h-1zM8 3h1v1h-1zM21 3h1v1h-1zM27 3h3v1h-3zM46 4h1v1h-1zM49 4h1v1h-1zM97 4h2v1h-2zM1 5h1v1h-1zM9 5h1v1h-1zM25 5h1v1h-1zM78 5h2v1h-2zM89 5h1v1h-1zM96 5h1v1h-1zM10 6h1v1h-1zM50 6h2v1h-2zM56 6h1v1h-1zM68 6h1v1h-1zM71 6h2v1h-2zM88 6h1v1h-1zM2 7h1v1h-1zM33 7h1v1h-1zM70 7h2v1h-2zM87 7h1v1h-1zM61 8h1v1h-1zM68 8h1v1h-1zM72 8h1v1h-1zM88 8h1v1h-1zM98 8h1v1h-1zM60 9h1v1h-1zM62 9h1v1h-1zM80 9h1v1h-1zM83 9h1v1h-1zM57 10h1v1h-1zM62 10h1v1h-1zM74 10h1v1h-1zM81 10h1v1h-1zM88 10h1v1h-1zM94 10h1v1h-1zM98 10h1v1h-1zM5 11h3v1h-3zM30 11h2v1h-2zM79 11h2v1h-2zM92 11h1v1h-1zM23 12h1v1h-1zM33 12h3v1h-3zM40 12h1v1h-1zM43 12h1v1h-1zM57 12h2v1h-2zM74 12h2v1h-2zM6 13h1v1h-1zM73 13h2v1h-2zM76 13h3v1h-3zM8 14h1v1h-1zM17 14h1v1h-1zM0 15h2v1h-2zM26 15h1v1h-1zM38 15h3v1h-3zM81 15h1v1h-1zM1 16h1v1h-1zM6 16h1v1h-1zM44 16h1v1h-1zM48 16h1v1h-1zM61 16h2v1h-2zM70 16h1v1h-1zM83 16h1v1h-1zM4 17h1v1h-1zM28 17h1v1h-1zM48 17h2v1h-2zM66 17h2v1h-2zM74 17h1v1h-1zM86 17h1v1h-1zM25 18h1v1h-1zM27 18h2v1h-2zM43 18h1v1h-1zM78 18h1v1h-1zM21 19h1v1h-1zM27 19h1v1h-1zM29 19h1v1h-1zM34 19h1v1h-1zM44 19h1v1h-1zM62 19h1v1h-1zM4 20h1v1h-1zM20 20h2v1h-2zM27 20h1v1h-1zM29 20h1v1h-1zM31 20h3v1h-3zM38 20h1v1h-1zM51 20h1v1h-1zM12 21h1v1h-1zM16 21h2v1h-2zM24 21h1v1h-1zM30 21h2v1h-2zM39 21h2v1h-2zM17 24h1v1h-1zM34 26h1v1h-1zM34 27h1v1h-1zM57 32h1v1h-1zM33 34h2v1h-2zM17 39h1v1h-1zM33 39h1v1h-1zM33 42h1v1h-1zM39 43h1v1h-1zM3 44h1v1h-1zM8 44h1v1h-1zM33 44h1v1h-1zM16 45h2v1h-2zM46 45h1v1h-1zM10 46h1v1h-1zM3 47h1v1h-1zM25 47h1v1h-1zM34 47h1v1h-1zM3 48h1v1h-1zM29 49h1v1h-1zM8 50h1v1h-1zM38 50h1v1h-1zM43 50h1v1h-1zM48 50h2v1h-2zM6 51h1v1h-1zM14 51h1v1h-1zM27 51h2v1h-2zM32 51h1v1h-1zM35 51h1v1h-1zM43 51h1v1h-1zM10 56h1v1h-1zM16 56h1v1h-1zM17 57h1v1h-1zM33 60h1v1h-1zM33 61h1v1h-1zM34 62h1v1h-1zM4 63h1v1h-1zM7 63h1v1h-1zM17 63h1v1h-1zM29 63h1v1h-1zM41 63h1v1h-1zM46 63h1v1h-1zM57 63h1v1h-1zM2 64h1v1h-1zM29 64h1v1h-1zM40 64h1v1h-1zM43 64h1v1h-1zM49 64h1v1h-1zM33 65h1v1h-1zM58 65h1v1h-1zM62 65h1v1h-1zM65 65h1v1h-1zM9 66h1v1h-1zM14 66h1v1h-1zM17 66h1v1h-1zM25 66h1v1h-1zM32 66h4v1h-4zM41 66h1v1h-1zM44 66h1v1h-1zM4 67h1v1h-1zM6 67h1v1h-1zM16 67h1v1h-1zM46 67h1v1h-1zM49 67h1v1h-1zM64 67h1v1h-1zM2 68h1v1h-1zM30 68h2v1h-2zM39 68h2v1h-2zM48 68h2v1h-2zM13 69h1v1h-1zM21 69h1v1h-1zM24 69h5v1h-5zM36 69h1v1h-1zM47 69h1v1h-1zM60 69h1v1h-1zM65 69h1v1h-1zM17 70h1v1h-1zM25 70h1v1h-1zM28 70h2v1h-2zM35 70h1v1h-1zM42 70h1v1h-1zM44 70h1v1h-1zM46 70h2v1h-2zM70 70h1v1h-1zM20 71h1v1h-1zM28 71h1v1h-1zM32 71h2v1h-2zM7 72h1v1h-1zM27 72h1v1h-1zM33 72h1v1h-1zM38 72h1v1h-1zM40 72h1v1h-1zM59 72h1v1h-1zM89 72h1v1h-1zM17 73h1v1h-1zM25 73h1v1h-1zM28 73h1v1h-1zM46 73h1v1h-1zM55 73h1v1h-1zM58 73h2v1h-2zM64 73h1v1h-1zM66 73h1v1h-1zM2 74h1v1h-1zM8 74h1v1h-1zM14 74h1v1h-1zM17 74h1v1h-1zM29 74h2v1h-2zM37 74h1v1h-1zM39 74h2v1h-2zM46 74h1v1h-1zM64 74h1v1h-1zM87 74h2v1h-2zM5 75h3v1h-3zM14 75h1v1h-1zM33 75h1v1h-1zM98 75h1v1h-1zM3 76h1v1h-1zM32 76h2v1h-2zM41 76h2v1h-2zM1 77h1v1h-1zM3 77h1v1h-1zM10 77h1v1h-1zM14 77h2v1h-2zM26 77h1v1h-1zM33 77h2v1h-2zM77 77h1v1h-1zM10 78h2v1h-2zM13 78h1v1h-1zM17 78h1v1h-1zM25 78h1v1h-1zM28 78h1v1h-1zM41 78h2v1h-2zM44 78h1v1h-1zM55 78h2v1h-2zM65 78h1v1h-1zM77 78h1v1h-1zM6 79h1v1h-1zM8 79h1v1h-1zM16 79h2v1h-2zM32 79h1v1h-1zM44 79h1v1h-1zM48 79h1v1h-1zM66 79h1v1h-1zM72 79h1v1h-1zM98 79h1v1h-1zM3 80h1v1h-1zM8 80h1v1h-1zM12 80h1v1h-1zM14 80h1v1h-1zM17 80h1v1h-1zM28 80h3v1h-3zM36 80h1v1h-1zM43 80h1v1h-1zM46 80h1v1h-1zM49 80h1v1h-1zM58 80h1v1h-1zM64 80h1v1h-1zM5 81h1v1h-1zM10 81h1v1h-1zM16 81h1v1h-1zM37 81h1v1h-1zM40 81h1v1h-1zM49 81h1v1h-1zM62 81h1v1h-1zM25 82h1v1h-1zM28 82h1v1h-1zM46 82h1v1h-1zM49 82h1v1h-1zM3 83h1v1h-1zM17 83h1v1h-1zM30 83h1v1h-1zM35 83h1v1h-1zM42 83h1v1h-1zM44 83h1v1h-1zM57 83h1v1h-1zM3 84h1v1h-1zM10 84h1v1h-1zM14 84h1v1h-1zM17 84h1v1h-1zM29 84h1v1h-1zM32 84h2v1h-2zM35 84h1v1h-1zM43 84h1v1h-1zM46 84h1v1h-1zM48 84h2v1h-2zM8 85h1v1h-1zM25 85h1v1h-1zM28 85h1v1h-1zM34 85h2v1h-2zM46 85h1v1h-1zM3 86h1v1h-1zM20 86h1v1h-1zM29 86h1v1h-1zM40 86h1v1h-1zM48 86h1v1h-1zM1 87h1v1h-1zM9 87h2v1h-2zM14 87h1v1h-1zM32 87h1v1h-1zM34 87h1v1h-1zM43 87h1v1h-1zM3 88h2v1h-2zM15 88h3v1h-3zM33 88h1v1h-1zM43 88h1v1h-1zM46 88h1v1h-1zM49 88h1v1h-1zM62 88h1v1h-1zM84 88h1v1h-1zM2 89h1v1h-1zM20 89h1v1h-1zM33 89h1v1h-1zM40 89h1v1h-1zM0 90h1v1h-1zM2 90h1v1h-1zM5 90h2v1h-2zM9 90h1v1h-1zM13 90h1v1h-1zM15 90h2v1h-2zM20 90h2v1h-2zM25 90h2v1h-2zM30 90h1v1h-1zM36 90h1v1h-1zM38 90h2v1h-2zM1 91h2v1h-2zM6 91h2v1h-2zM10 91h1v1h-1zM21 91h1v1h-1zM26 91h1v1h-1zM30 91h1v1h-1zM32 91h1v1h-1zM40 91h1v1h-1zM47 91h1v1h-1zM1 92h1v1h-1zM6 92h1v1h-1zM9 92h2v1h-2zM13 92h1v1h-1zM15 92h1v1h-1zM20 92h2v1h-2zM25 92h1v1h-1zM28 92h1v1h-1zM30 92h1v1h-1zM32 92h1v1h-1zM39 92h2v1h-2zM44 92h1v1h-1zM46 92h1v1h-1zM48 92h1v1h-1zM2 93h3v1h-3zM6 93h1v1h-1zM10 93h3v1h-3zM20 93h1v1h-1zM23 93h1v1h-1zM26 93h3v1h-3zM39 93h1v1h-1zM44 93h1v1h-1zM49 93h1v1h-1zM57 93h1v1h-1zM5 94h2v1h-2zM8 94h4v1h-4zM14 94h1v1h-1zM16 94h1v1h-1zM27 94h2v1h-2zM34 94h1v1h-1zM37 94h1v1h-1zM39 94h1v1h-1zM44 94h1v1h-1zM47 94h1v1h-1zM57 94h1v1h-1zM1 95h1v1h-1zM3 95h2v1h-2zM6 95h2v1h-2zM15 95h1v1h-1zM27 95h3v1h-3zM32 95h1v1h-1zM34 95h1v1h-1zM37 95h1v1h-1zM39 95h1v1h-1zM43 95h1v1h-1zM57 95h1v1h-1zM8 96h1v1h-1zM10 96h1v1h-1zM20 96h2v1h-2zM23 96h1v1h-1zM26 96h4v1h-4zM37 96h1v1h-1zM42 96h1v1h-1zM48 96h1v1h-1zM12 97h1v1h-1zM20 97h1v1h-1zM27 97h1v1h-1zM30 97h1v1h-1zM33 97h1v1h-1zM37 97h1v1h-1zM39 97h1v1h-1zM43 97h2v1h-2zM47 97h1v1h-1zM2 98h2v1h-2zM11 98h1v1h-1zM13 98h1v1h-1zM20 98h1v1h-1zM26 98h1v1h-1zM29 98h1v1h-1zM32 98h1v1h-1zM36 98h1v1h-1zM40 98h1v1h-1zM42 98h3v1h-3zM47 98h2v1h-2zM1 99h1v1h-1zM12 99h1v1h-1zM23 99h1v1h-1zM30 99h2v1h-2zM36 99h2v1h-2zM42 99h1v1h-1zM45 99h1v1h-1zM47 99h1v1h-1zM2 100h1v1h-1zM6 100h1v1h-1zM8 100h1v1h-1zM14 100h1v1h-1zM16 100h1v1h-1zM20 100h2v1h-2zM23 100h1v1h-1zM26 100h1v1h-1zM32 100h1v1h-1zM38 100h1v1h-1zM41 100h2v1h-2zM44 100h1v1h-1zM5 101h1v1h-1zM13 101h1v1h-1zM23 101h1v1h-1zM25 101h1v1h-1zM27 101h1v1h-1zM32 101h1v1h-1zM41 101h1v1h-1zM48 101h1v1h-1zM57 101h1v1h-1z"/>
<path fill="#2a5a35" d="M9 0h2v1h-2zM8 1h1v1h-1zM24 1h2v1h-2zM27 1h1v1h-1zM29 1h2v1h-2zM12 2h2v1h-2zM59 2h1v1h-1zM72 2h1v1h-1zM76 2h3v1h-3zM16 3h2v1h-2zM41 3h1v1h-1zM1 4h1v1h-1zM6 4h2v1h-2zM15 4h4v1h-4zM28 4h1v1h-1zM59 4h1v1h-1zM76 4h3v1h-3zM2 5h1v1h-1zM7 5h1v1h-1zM15 5h1v1h-1zM29 5h1v1h-1zM32 5h1v1h-1zM44 5h4v1h-4zM58 5h1v1h-1zM49 6h1v1h-1zM80 6h2v1h-2zM94 6h1v1h-1zM76 7h1v1h-1zM65 10h1v1h-1zM84 10h1v1h-1zM3 11h1v1h-1zM10 11h3v1h-3zM16 11h1v1h-1zM21 11h4v1h-4zM28 11h1v1h-1zM32 11h2v1h-2zM39 11h3v1h-3zM59 11h1v1h-1zM88 11h2v1h-2zM0 12h1v1h-1zM4 12h5v1h-5zM11 12h2v1h-2zM41 12h1v1h-1zM53 12h1v1h-1zM90 12h1v1h-1zM97 12h1v1h-1zM30 13h2v1h-2zM48 13h1v1h-1zM85 13h1v1h-1zM48 14h1v1h-1zM3 15h2v1h-2zM7 15h1v1h-1zM15 15h1v1h-1zM34 15h1v1h-1zM44 15h2v1h-2zM47 15h3v1h-3zM4 16h2v1h-2zM10 16h1v1h-1zM19 16h1v1h-1zM23 16h1v1h-1zM41 16h3v1h-3zM46 16h2v1h-2zM5 17h1v1h-1zM15 17h1v1h-1zM17 17h2v1h-2zM20 17h2v1h-2zM32 17h1v1h-1zM39 17h7v1h-7zM2 18h1v1h-1zM5 18h1v1h-1zM22 18h2v1h-2zM30 18h1v1h-1zM33 18h1v1h-1zM36 19h2v1h-2zM15 20h2v1h-2zM22 20h1v1h-1zM34 20h2v1h-2zM41 20h4v1h-4zM19 21h1v1h-1zM41 21h1v1h-1zM46 21h1v1h-1zM16 50h1v1h-1zM19 50h1v1h-1zM10 51h1v1h-1zM17 51h1v1h-1zM36 51h1v1h-1zM57 51h1v1h-1zM3 63h1v1h-1zM6 63h1v1h-1zM8 63h2v1h-2zM14 63h1v1h-1zM27 63h1v1h-1zM33 63h1v1h-1zM42 63h1v1h-1zM93 63h1v1h-1zM16 64h2v1h-2zM33 64h1v1h-1zM35 64h1v1h-1zM42 64h1v1h-1zM44 64h1v1h-1zM57 64h1v1h-1zM3 65h1v1h-1zM5 65h1v1h-1zM14 65h1v1h-1zM17 65h1v1h-1zM48 65h1v1h-1zM59 65h1v1h-1zM49 66h1v1h-1zM17 67h1v1h-1zM48 67h1v1h-1zM15 68h1v1h-1zM6 69h3v1h-3zM12 69h1v1h-1zM14 69h1v1h-1zM20 69h1v1h-1zM35 69h1v1h-1zM38 69h1v1h-1zM40 69h1v1h-1zM44 69h1v1h-1zM48 69h2v1h-2zM10 70h1v1h-1zM30 70h1v1h-1zM32 70h3v1h-3zM49 70h1v1h-1zM59 70h1v1h-1zM4 71h1v1h-1zM17 71h1v1h-1zM34 71h2v1h-2zM46 71h1v1h-1zM48 71h2v1h-2zM20 72h1v1h-1zM32 72h1v1h-1zM35 72h1v1h-1zM49 72h1v1h-1zM3 73h1v1h-1zM10 73h1v1h-1zM15 73h1v1h-1zM33 73h1v1h-1zM49 73h1v1h-1zM57 73h1v1h-1zM16 74h1v1h-1zM16 75h1v1h-1zM32 75h1v1h-1zM39 75h1v1h-1zM44 75h1v1h-1zM59 75h1v1h-1zM15 76h1v1h-1zM34 76h1v1h-1zM40 76h1v1h-1zM44 76h1v1h-1zM58 76h1v1h-1zM64 76h1v1h-1zM2 77h1v1h-1zM16 77h2v1h-2zM70 77h1v1h-1zM1 78h1v1h-1zM32 78h3v1h-3zM64 78h1v1h-1zM9 79h1v1h-1zM29 79h2v1h-2zM34 79h1v1h-1zM43 79h1v1h-1zM55 79h1v1h-1zM59 79h1v1h-1zM10 80h1v1h-1zM33 80h2v1h-2zM40 80h1v1h-1zM7 81h1v1h-1zM15 81h1v1h-1zM17 81h1v1h-1zM33 81h1v1h-1zM29 82h1v1h-1zM34 82h1v1h-1zM33 83h2v1h-2zM48 83h2v1h-2zM15 84h2v1h-2zM40 85h1v1h-1zM49 85h1v1h-1zM17 86h1v1h-1zM32 86h1v1h-1zM17 87h1v1h-1zM33 87h1v1h-1zM35 87h1v1h-1zM49 87h1v1h-1zM34 88h1v1h-1zM37 88h1v1h-1zM15 89h1v1h-1zM17 89h1v1h-1zM34 89h1v1h-1zM3 90h1v1h-1zM7 90h2v1h-2zM12 90h1v1h-1zM29 90h1v1h-1zM32 90h1v1h-1zM34 90h2v1h-2zM42 90h1v1h-1zM44 90h1v1h-1zM48 90h1v1h-1zM3 91h1v1h-1zM8 91h2v1h-2zM12 91h1v1h-1zM16 91h1v1h-1zM27 91h3v1h-3zM36 91h2v1h-2zM3 92h1v1h-1zM7 92h1v1h-1zM12 92h1v1h-1zM27 92h1v1h-1zM29 92h1v1h-1zM36 92h1v1h-1zM42 92h2v1h-2zM7 93h1v1h-1zM14 93h2v1h-2zM25 93h1v1h-1zM35 93h1v1h-1zM40 93h1v1h-1zM42 93h1v1h-1zM3 94h2v1h-2zM12 94h1v1h-1zM15 94h1v1h-1zM25 94h1v1h-1zM29 94h1v1h-1zM32 94h1v1h-1zM35 94h1v1h-1zM42 94h1v1h-1zM46 94h1v1h-1zM9 95h1v1h-1zM14 95h1v1h-1zM16 95h1v1h-1zM20 95h1v1h-1zM36 95h1v1h-1zM40 95h1v1h-1zM42 95h1v1h-1zM49 95h1v1h-1zM59 95h1v1h-1zM3 96h2v1h-2zM7 96h1v1h-1zM9 96h1v1h-1zM12 96h1v1h-1zM14 96h2v1h-2zM30 96h1v1h-1zM41 96h1v1h-1zM43 96h1v1h-1zM46 96h1v1h-1zM49 96h1v1h-1zM3 97h1v1h-1zM5 97h1v1h-1zM9 97h1v1h-1zM16 97h1v1h-1zM23 97h1v1h-1zM29 97h1v1h-1zM34 97h1v1h-1zM40 97h3v1h-3zM46 97h1v1h-1zM6 98h1v1h-1zM8 98h2v1h-2zM12 98h1v1h-1zM14 98h1v1h-1zM16 98h1v1h-1zM28 98h1v1h-1zM34 98h1v1h-1zM37 98h1v1h-1zM5 99h3v1h-3zM10 99h1v1h-1zM13 99h1v1h-1zM16 99h1v1h-1zM26 99h3v1h-3zM32 99h1v1h-1zM38 99h1v1h-1zM40 99h1v1h-1zM43 99h1v1h-1zM46 99h1v1h-1zM5 100h1v1h-1zM10 100h1v1h-1zM12 100h2v1h-2zM27 100h1v1h-1zM36 100h2v1h-2zM39 100h2v1h-2zM2 101h3v1h-3zM7 101h1v1h-1zM10 101h1v1h-1zM12 101h1v1h-1zM14 101h1v1h-1zM28 101h1v1h-1zM31 101h1v1h-1zM36 101h1v1h-1zM38 101h1v1h-1zM42 101h1v1h-1zM46 101h2v1h-2z"/>
<path fill="#31703f" d="M49 0h1v1h-1zM7 1h1v1h-1zM14 1h3v1h-3zM41 1h3v1h-3zM1 2h1v1h-1zM6 2h1v1h-1zM27 2h2v1h-2zM33 2h1v1h-1zM49 2h1v1h-1zM44 3h1v1h-1zM8 4h1v1h-1zM11 4h1v1h-1zM19 4h1v1h-1zM22 4h2v1h-2zM3 5h4v1h-4zM14 5h1v1h-1zM18 5h1v1h-1zM47 6h1v1h-1zM62 6h2v1h-2zM70 6h1v1h-1zM86 6h1v1h-1zM87 10h1v1h-1zM2 11h1v1h-1zM15 11h1v1h-1zM19 11h2v1h-2zM51 11h1v1h-1zM59 12h1v1h-1zM2 13h2v1h-2zM11 13h2v1h-2zM33 13h2v1h-2zM41 13h2v1h-2zM8 15h3v1h-3zM23 15h1v1h-1zM31 15h1v1h-1zM43 15h1v1h-1zM59 16h1v1h-1zM6 17h2v1h-2zM10 17h2v1h-2zM16 17h1v1h-1zM23 17h1v1h-1zM33 17h2v1h-2zM46 17h2v1h-2zM3 18h1v1h-1zM13 18h1v1h-1zM46 18h3v1h-3zM59 18h2v1h-2zM8 19h2v1h-2zM33 19h1v1h-1zM7 20h1v1h-1zM30 20h1v1h-1zM48 20h1v1h-1zM55 20h3v1h-3zM87 20h1v1h-1zM29 21h1v1h-1zM36 21h1v1h-1zM44 21h1v1h-1zM35 63h1v1h-1zM39 63h2v1h-2zM43 63h2v1h-2zM10 65h1v1h-1zM43 66h1v1h-1zM34 67h1v1h-1zM37 68h1v1h-1zM3 69h3v1h-3zM9 69h3v1h-3zM17 69h1v1h-1zM29 69h1v1h-1zM33 69h1v1h-1zM37 69h1v1h-1zM41 69h1v1h-1zM46 69h1v1h-1zM57 69h1v1h-1zM6 70h1v1h-1zM16 70h1v1h-1zM3 71h1v1h-1zM16 71h1v1h-1zM4 72h1v1h-1zM64 72h1v1h-1zM34 75h1v1h-1zM36 75h1v1h-1zM43 75h1v1h-1zM46 77h1v1h-1zM49 77h1v1h-1zM37 78h1v1h-1zM46 78h1v1h-1zM33 79h1v1h-1zM35 79h1v1h-1zM49 79h1v1h-1zM34 81h1v1h-1zM17 82h1v1h-1zM34 84h1v1h-1zM17 85h1v1h-1zM33 86h1v1h-1zM46 87h1v1h-1zM4 90h1v1h-1zM10 90h1v1h-1zM27 90h2v1h-2zM40 90h1v1h-1zM46 90h1v1h-1zM49 90h1v1h-1zM5 91h1v1h-1zM11 91h1v1h-1zM14 91h2v1h-2zM17 91h1v1h-1zM42 91h1v1h-1zM44 91h1v1h-1zM46 91h1v1h-1zM48 91h2v1h-2zM16 92h2v1h-2zM34 92h2v1h-2zM37 92h1v1h-1zM33 93h2v1h-2zM46 93h1v1h-1zM17 94h1v1h-1zM33 94h1v1h-1zM40 94h1v1h-1zM49 94h1v1h-1zM17 95h1v1h-1zM30 95h1v1h-1zM35 95h1v1h-1zM46 95h1v1h-1zM16 96h2v1h-2zM34 96h1v1h-1zM40 96h1v1h-1zM17 97h1v1h-1zM32 97h1v1h-1zM36 97h1v1h-1zM49 97h1v1h-1zM10 98h1v1h-1zM15 98h1v1h-1zM33 98h1v1h-1zM49 98h1v1h-1zM3 99h1v1h-1zM9 99h1v1h-1zM14 99h2v1h-2zM25 99h1v1h-1zM49 99h1v1h-1zM3 100h1v1h-1zM7 100h1v1h-1zM15 100h1v1h-1zM17 100h1v1h-1zM25 100h1v1h-1zM33 100h3v1h-3zM48 100h2v1h-2zM6 101h1v1h-1zM15 101h1v1h-1zM20 101h2v1h-2zM26 101h1v1h-1zM29 101h2v1h-2zM35 101h1v1h-1zM37 101h1v1h-1zM40 101h1v1h-1zM44 101h1v1h-1z"/>
<path fill="#338347" d="M36 1h1v1h-1zM48 1h1v1h-1zM29 2h3v1h-3zM0 4h1v1h-1zM13 4h1v1h-1zM27 4h1v1h-1zM33 4h1v1h-1zM57 4h1v1h-1zM1 11h1v1h-1zM13 11h1v1h-1zM29 11h1v1h-1zM38 11h1v1h-1zM9 12h1v1h-1zM21 12h1v1h-1zM44 12h1v1h-1zM95 12h1v1h-1zM6 15h1v1h-1zM46 15h1v1h-1zM11 16h4v1h-4zM20 16h1v1h-1zM30 16h2v1h-2zM12 17h2v1h-2zM26 17h2v1h-2zM14 20h1v1h-1zM16 63h1v1h-1zM25 63h1v1h-1zM34 63h1v1h-1zM34 69h1v1h-1zM39 69h1v1h-1zM43 69h1v1h-1zM35 74h1v1h-1zM39 79h1v1h-1zM17 90h1v1h-1zM33 90h1v1h-1zM33 91h1v1h-1zM35 91h1v1h-1zM43 91h1v1h-1zM33 92h1v1h-1zM49 92h1v1h-1zM16 93h2v1h-2zM43 93h1v1h-1zM10 95h1v1h-1zM33 96h1v1h-1zM35 96h1v1h-1zM15 97h1v1h-1zM35 97h1v1h-1zM17 98h1v1h-1zM25 98h1v1h-1zM35 98h1v1h-1zM46 98h1v1h-1zM8 99h1v1h-1zM17 99h1v1h-1zM29 99h1v1h-1zM33 99h1v1h-1zM35 99h1v1h-1zM39 99h1v1h-1zM44 99h1v1h-1zM29 100h1v1h-1zM43 100h1v1h-1zM46 100h1v1h-1zM17 101h1v1h-1zM33 101h1v1h-1zM49 101h1v1h-1z"/>
<path fill="#37974a" d="M61 2h1v1h-1zM3 4h3v1h-3zM10 4h1v1h-1zM12 4h1v1h-1zM19 5h1v1h-1zM22 5h1v1h-1zM59 6h1v1h-1zM87 6h1v1h-1zM4 11h1v1h-1zM25 11h1v1h-1zM36 11h2v1h-2zM27 12h1v1h-1zM8 13h1v1h-1zM0 16h1v1h-1zM26 16h3v1h-3zM49 16h1v1h-1zM49 19h1v1h-1zM6 20h1v1h-1zM37 63h1v1h-1zM49 63h1v1h-1zM33 68h1v1h-1zM15 69h1v1h-1zM32 69h1v1h-1zM49 76h1v1h-1zM33 82h1v1h-1zM33 95h1v1h-1zM34 99h1v1h-1zM16 101h1v1h-1zM43 101h1v1h-1z"/>
<path fill="#3dab4f" d="M12 0h6v1h-6zM23 0h1v1h-1zM29 0h1v1h-1zM93 0h1v1h-1zM16 2h1v1h-1zM29 4h1v1h-1zM35 4h2v1h-2zM26 5h2v1h-2zM90 6h1v1h-1zM27 11h1v1h-1zM37 13h1v1h-1zM25 15h1v1h-1zM37 16h1v1h-1zM16 69h1v1h-1zM34 91h1v1h-1zM34 101h1v1h-1z"/>
<path fill="#4bb858" d="M7 0h1v1h-1zM38 0h2v1h-2zM68 0h2v1h-2zM88 0h2v1h-2zM8 5h1v1h-1zM34 5h1v1h-1zM49 5h1v1h-1zM8 11h2v1h-2zM14 11h1v1h-1zM43 11h1v1h-1zM45 11h1v1h-1zM48 11h2v1h-2zM16 12h2v1h-2zM37 12h2v1h-2zM48 12h2v1h-2zM17 13h1v1h-1zM46 13h1v1h-1zM3 16h1v1h-1zM3 20h1v1h-1zM5 20h1v1h-1zM34 74h1v1h-1z"/>
</g>
<rect x="204.7" y="924.30" width="28" height="24.90" fill="#c3c1da"/>
<rect x="204.7" y="949.00" width="28" height="24.90" fill="#5b86b8"/>
<rect x="204.7" y="973.70" width="28" height="24.90" fill="#4ebfb3"/>
<rect x="204.7" y="998.39" width="28" height="49.60" fill="#c3c1da"/>
<rect x="204.7" y="1047.79" width="28" height="24.90" fill="#5773a8"/>
<rect x="204.7" y="1072.49" width="28" height="49.60" fill="#c3c1da"/>
<rect x="204.7" y="1121.88" width="28" height="74.29" fill="#5b86b8"/>
<rect x="204.7" y="1195.98" width="28" height="74.29" fill="#c3c1da"/>
<rect x="204.7" y="1270.07" width="28" height="24.90" fill="#4ebfb3"/>
<rect x="204.7" y="1294.77" width="28" height="74.29" fill="#c3c1da"/>
<rect x="204.7" y="1368.86" width="28" height="24.90" fill="#85bac2"/>
<rect x="204.7" y="1393.56" width="28" height="1679.66" fill="#c3c1da"/>
<rect x="204.7" y="3073.03" width="28" height="24.90" fill="#e9e6df"/>
<rect x="204.7" y="3097.72" width="28" height="345.97" fill="#c3c1da"/>
<text x="241" y="3469.5" text-anchor="end" font-size="27.5" font-weight="bold" fill="#111">Class</text>
<path d="M126.4 1077.8H55.2V2426.3H107.6M171.8 975.2H126.4V1180.3H141.4M202.2 936.6H171.8V1013.8H179.9M186.3 979.9H179.9V1047.8H184.9M202.2 961.3H186.3V998.4H190.7M202.2 986.0H190.7V1010.7H202.2M202.2 1035.4H184.9V1060.1H202.2M168.4 1108.0H141.4V1252.6H150.1M202.2 1084.8H168.4V1131.1H187.2M202.2 1109.5H187.2V1152.8H191.2M202.2 1134.2H191.2V1171.3H195.0M202.2 1158.9H195.0V1183.6H202.2M187.2 1220.7H150.1V1284.5H166.9M202.2 1208.3H187.2V1233.0H202.2M202.2 1257.7H166.9V1311.4H168.7M202.2 1282.4H168.7V1340.3H170.1M202.2 1307.1H170.1V1373.5H171.6M178.8 1344.2H171.6V1402.8H177.6M202.2 1331.8H178.8V1356.5H202.2M202.2 1381.2H177.6V1424.4H185.4M202.2 1405.9H185.4V1443.0H187.8M202.2 1430.6H187.8V1455.3H202.2M177.6 1991.6H107.6V2861.1H137.1M183.4 1777.4H177.6V2205.7H183.4M193.0 1542.5H183.4V2012.4H187.2M202.2 1480.0H193.0V1605.0H193.0M196.2 1532.5H193.0V1677.6H195.5M202.2 1504.7H196.2V1560.3H198.7M201.2 1541.8H198.7V1578.8H202.2M202.2 1529.4H201.2V1554.1H202.2M198.0 1625.1H195.5V1730.1H198.0M202.2 1603.5H198.0V1646.7H200.5M202.2 1628.2H200.5V1665.2H203.0M202.2 1652.9H203.0V1677.6H202.2M202.2 1702.3H198.0V1757.9H200.5M203.0 1739.3H200.5V1776.4H202.2M202.2 1727.0H203.0V1751.7H202.2M191.5 1877.9H187.2V2146.9H202.2M202.2 1801.1H191.5V1954.7H194.0M196.5 1889.1H194.0V2020.3H196.5M199.0 1853.6H196.5V1924.6H202.2M202.2 1825.8H199.0V1881.3H201.5M204.0 1862.8H201.5V1899.9H202.2M202.2 1850.5H204.0V1875.2H202.2M199.0 1970.9H196.5V2069.7H199.0M202.2 1949.3H199.0V1992.5H201.5M202.2 1974.0H201.5V2011.0H204.0M202.2 1998.7H204.0V2023.4H202.2M202.2 2048.1H199.0V2091.3H201.5M202.2 2072.8H201.5V2109.8H204.0M202.2 2097.5H204.0V2122.2H202.2M202.2 2171.5H183.4V2240.0H188.0M202.2 2196.2H188.0V2283.7H193.2M202.2 2220.9H193.2V2346.4H195.7M198.2 2271.1H195.7V2421.6H198.2M202.2 2245.6H198.2V2296.6H200.7M202.2 2270.3H200.7V2322.8H203.2M202.2 2295.0H203.2V2350.6H205.7M208.2 2332.1H205.7V2369.1H202.2M202.2 2319.7H208.2V2344.4H202.2M202.2 2393.8H198.2V2449.4H200.7M203.2 2430.9H200.7V2467.9H202.2M202.2 2418.5H203.2V2443.2H202.2M172.7 2612.4H137.1V3109.7H158.2M179.1 2525.0H172.7V2699.9H173.9M202.2 2492.6H179.1V2557.5H186.3M194.1 2529.7H186.3V2585.2H192.1M202.2 2517.3H194.1V2542.0H202.2M202.2 2566.7H192.1V2603.8H194.1M202.2 2591.4H194.1V2616.1H202.2M187.2 2653.2H173.9V2746.5H179.1M202.2 2640.8H187.2V2665.5H202.2M187.8 2702.6H179.1V2790.5H180.5M202.2 2690.2H187.8V2714.9H202.2M187.8 2752.0H180.5V2829.1H183.4M202.2 2739.6H187.8V2764.3H202.2M190.7 2801.3H183.4V2856.9H184.9M202.2 2789.0H190.7V2813.7H202.2M202.2 2838.4H184.9V2875.4H190.1M202.2 2863.1H190.1V2887.8H202.2M192.6 2976.5H158.2V3242.8H184.4M202.2 2912.5H192.6V3040.6H194.3M196.8 2983.5H194.3V3097.7H196.8M199.3 2949.5H196.8V3017.5H199.3M202.2 2937.2H199.3V2961.9H202.2M201.8 2998.9H199.3V3036.0H202.2M202.2 2986.6H201.8V3011.3H202.2M199.3 3073.0H196.8V3122.4H199.3M202.2 3060.7H199.3V3085.4H202.2M202.2 3110.1H199.3V3134.8H202.2M195.5 3178.0H184.4V3307.7H189.7M202.2 3159.5H195.5V3196.5H197.2M202.2 3184.2H197.2V3208.9H202.2M194.6 3252.1H189.7V3363.2H191.1M202.2 3233.6H194.6V3270.6H196.7M202.2 3258.3H196.7V3283.0H202.2M196.1 3326.2H191.1V3400.3H192.6M202.2 3307.7H196.1V3344.7H197.8M202.2 3332.4H197.8V3357.1H202.2M202.2 3381.8H192.6V3418.8H199.6M202.2 3406.4H199.6V3431.1H202.2" fill="none" stroke="#0a0a0a" stroke-width="2.1"/>
<g font-size="28" fill="#111">
<text x="1298.5" y="946.6">1−stearoyl−2−arachidonoyl−GPS (18:0/20:4)</text>
<text x="1298.5" y="971.3">adenosine</text>
<text x="1298.5" y="996.0">maltotriose</text>
<text x="1298.5" y="1020.7">1−stearoyl−2−oleoyl−GPS (18:0/18:1)</text>
<text x="1298.5" y="1045.4">1−stearoyl−GPS (18:0)*</text>
<text x="1298.5" y="1070.1">valylglycine</text>
<text x="1298.5" y="1094.8">cholate</text>
<text x="1298.5" y="1119.5">stearoyl ethanolamide</text>
<text x="1298.5" y="1144.2">hypoxanthine</text>
<text x="1298.5" y="1168.9">guanosine</text>
<text x="1298.5" y="1193.6">inosine</text>
<text x="1298.5" y="1218.3">isoursodeoxycholate sulfate (1)</text>
<text x="1298.5" y="1243.0">isoursodeoxycholate</text>
<text x="1298.5" y="1267.7">branched chain 14:0 dicarboxylic acid</text>
<text x="1298.5" y="1292.4">mannitol/sorbitol</text>
<text x="1298.5" y="1317.1">estrone 3−sulfate</text>
<text x="1298.5" y="1341.8">nisinate (24:6n3)</text>
<text x="1298.5" y="1366.5">heneicosapentaenoate (21:5n3)</text>
<text x="1298.5" y="1391.2">gentisate</text>
<text x="1298.5" y="1415.9">docosahexaenoylcarnitine (C22:6)*</text>
<text x="1298.5" y="1440.6">tetrahydrocortisol sulfate (1)</text>
<text x="1298.5" y="1465.3">cortolone glucuronide (1)</text>
<text x="1298.5" y="1490.0">caproate (6:0)</text>
<text x="1298.5" y="1514.7">caprate (10:0)</text>
<text x="1298.5" y="1539.4">caprylate (8:0)</text>
<text x="1298.5" y="1564.1">3−hydroxyoleate*</text>
<text x="1298.5" y="1588.8">acetylcarnitine (C2)</text>
<text x="1298.5" y="1613.5">(16 or 17)−methylstearate (a19:0 or i19:0)</text>
<text x="1298.5" y="1638.2">docosahexaenoate (DHA; 22:6n3)</text>
<text x="1298.5" y="1662.9">arachidonate (20:4n6)</text>
<text x="1298.5" y="1687.6">myristate (14:0)</text>
<text x="1298.5" y="1712.3">margarate (17:0)</text>
<text x="1298.5" y="1737.0">16−hydroxypalmitate</text>
<text x="1298.5" y="1761.7">docosapentaenoate (n3 DPA; 22:5n3)</text>
<text x="1298.5" y="1786.4">docosapentaenoate (n6 DPA; 22:5n6)</text>
<text x="1298.5" y="1811.1">stearidonate (18:4n3)</text>
<text x="1298.5" y="1835.8">docosatrienoate (22:3n3)</text>
<text x="1298.5" y="1860.5">dihomo−linolenate (20:3n3 or n6)</text>
<text x="1298.5" y="1885.2">palmitoleate (16:1n7)</text>
<text x="1298.5" y="1909.9">10−heptadecenoate (17:1n7)</text>
<text x="1298.5" y="1934.6">10−nonadecenoate (19:1n9)</text>
<text x="1298.5" y="1959.3">hexadecadienoate (16:2n6)</text>
<text x="1298.5" y="1984.0">linolenate [alpha or gamma; (18:3n3 or 6)]</text>
<text x="1298.5" y="2008.7">oleate/vaccenate (18:1)</text>
<text x="1298.5" y="2033.4">linoleate (18:2n6)</text>
<text x="1298.5" y="2058.1">eicosenoate (20:1)</text>
<text x="1298.5" y="2082.8">docosadienoate (22:2n6)</text>
<text x="1298.5" y="2107.5">dihomo−linoleate (20:2n6)</text>
<text x="1298.5" y="2132.2">N−oleoyltaurine</text>
<text x="1298.5" y="2156.9">adrenate (22:4n6)</text>
<text x="1298.5" y="2181.5">erucate (22:1n9)</text>
<text x="1298.5" y="2206.2">dodecenedioate (C12:1−DC)*</text>
<text x="1298.5" y="2230.9">3−hydroxyhexanoate</text>
<text x="1298.5" y="2255.6">3−hydroxyoctanoate</text>
<text x="1298.5" y="2280.3">glycerol</text>
<text x="1298.5" y="2305.0">myristoylcarnitine (C14)</text>
<text x="1298.5" y="2329.7">palmitoleoylcarnitine (C16:1)*</text>
<text x="1298.5" y="2354.4">10−undecenoate (11:1n1)</text>
<text x="1298.5" y="2379.1">undecenoylcarnitine (C11:1)</text>
<text x="1298.5" y="2403.8">3b−hydroxy−5−cholenoic acid</text>
<text x="1298.5" y="2428.5">2−hydroxydecanoate</text>
<text x="1298.5" y="2453.2">nervonoylcarnitine (C24:1)*</text>
<text x="1298.5" y="2477.9">linolenoylcarnitine (C18:3)*</text>
<text x="1298.5" y="2502.6">tridecenedioate (C13:1−DC)*</text>
<text x="1298.5" y="2527.3">tetradecanedioate (C14−DC)</text>
<text x="1298.5" y="2552.0">dodecanedioate (C12−DC)</text>
<text x="1298.5" y="2576.7">hexadecenedioate (C16:1−DC)*</text>
<text x="1298.5" y="2601.4">hexadecanedioate (C16−DC)</text>
<text x="1298.5" y="2626.1">octadecenedioylcarnitine (C18:1−DC)*</text>
<text x="1298.5" y="2650.8">3−hydroxydodecanedioate*</text>
<text x="1298.5" y="2675.5">3−hydroxysebacate</text>
<text x="1298.5" y="2700.2">N−linoleoyltaurine*</text>
<text x="1298.5" y="2724.9">N−linoleoylglycine</text>
<text x="1298.5" y="2749.6">trans−2−hexenoylglycine</text>
<text x="1298.5" y="2774.3">3−hydroxybutyrylcarnitine (2)</text>
<text x="1298.5" y="2799.0">tetradecadienedioate (C14:2−DC)*</text>
<text x="1298.5" y="2823.7">decadienedioic acid (C10:2−DC)</text>
<text x="1298.5" y="2848.4">hexanoylglycine</text>
<text x="1298.5" y="2873.1">hexanoylglutamine</text>
<text x="1298.5" y="2897.8">3−hydroxyoleoylcarnitine</text>
<text x="1298.5" y="2922.5">cis−4−decenoate (10:1n6)*</text>
<text x="1298.5" y="2947.2">myristoleate (14:1n5)</text>
<text x="1298.5" y="2971.9">tetradecadienoate (14:2)*</text>
<text x="1298.5" y="2996.6">5−dodecenoate (12:1n7)</text>
<text x="1298.5" y="3021.3">3−hydroxymyristate</text>
<text x="1298.5" y="3046.0">3−hydroxylaurate</text>
<text x="1298.5" y="3070.7">3−hydroxydecanoate</text>
<text x="1298.5" y="3095.4">branched, straight−chain, or cyclopropyl 12:1 fatty acid*</text>
<text x="1298.5" y="3120.1">(2 or 3)−decenoate (10:1n7 or n8)</text>
<text x="1298.5" y="3144.8">dodecadienoate (12:2)*</text>
<text x="1298.5" y="3169.5">3−hydroxyoctanoylcarnitine (2)</text>
<text x="1298.5" y="3194.2">3−hydroxyoctanoylcarnitine (1)</text>
<text x="1298.5" y="3218.9">3−hydroxydecanoylcarnitine</text>
<text x="1298.5" y="3243.6">3−decenoylcarnitine</text>
<text x="1298.5" y="3268.3">hexanoylcarnitine (C6)</text>
<text x="1298.5" y="3293.0">cis−4−decenoylcarnitine (C10:1)</text>
<text x="1298.5" y="3317.7">laurylcarnitine (C12)</text>
<text x="1298.5" y="3342.4">5−dodecenoylcarnitine (C12:1)</text>
<text x="1298.5" y="3367.1">myristoleoylcarnitine (C14:1)*</text>
<text x="1298.5" y="3391.8">nonanoylcarnitine (C9)</text>
<text x="1298.5" y="3416.4">decanoylcarnitine (C10)</text>
<text x="1298.5" y="3441.1">octanoylcarnitine (C8)</text>
</g>
<rect x="1882" y="821.10" width="28.3" height="20.5" fill="#ee2729"/>
<rect x="1882" y="841.37" width="28.3" height="20.5" fill="#d7262c"/>
<rect x="1882" y="861.63" width="28.3" height="20.5" fill="#bb2630"/>
<rect x="1882" y="881.89" width="28.3" height="20.5" fill="#9b282e"/>
<rect x="1882" y="902.16" width="28.3" height="20.5" fill="#842228"/>
<rect x="1882" y="922.43" width="28.3" height="20.5" fill="#691a1e"/>
<rect x="1882" y="942.69" width="28.3" height="20.5" fill="#4f1216"/>
<rect x="1882" y="962.96" width="28.3" height="20.5" fill="#3d0608"/>
<rect x="1882" y="983.22" width="28.3" height="20.5" fill="#260a0c"/>
<rect x="1882" y="1003.49" width="28.3" height="20.5" fill="#120406"/>
<rect x="1882" y="1023.75" width="28.3" height="20.5" fill="#040803"/>
<rect x="1882" y="1044.02" width="28.3" height="20.5" fill="#0b1f0d"/>
<rect x="1882" y="1064.28" width="28.3" height="20.5" fill="#14301a"/>
<rect x="1882" y="1084.55" width="28.3" height="20.5" fill="#1d4125"/>
<rect x="1882" y="1104.81" width="28.3" height="20.5" fill="#2a5a35"/>
<rect x="1882" y="1125.08" width="28.3" height="20.5" fill="#31703f"/>
<rect x="1882" y="1145.34" width="28.3" height="20.5" fill="#338347"/>
<rect x="1882" y="1165.61" width="28.3" height="20.5" fill="#37974a"/>
<rect x="1882" y="1185.87" width="28.3" height="20.5" fill="#3dab4f"/>
<rect x="1882" y="1206.13" width="28.3" height="20.5" fill="#4bb858"/>
<text x="1915.5" y="872.4" font-size="27.5" fill="#111">1.2</text>
<text x="1915.5" y="959.1" font-size="27.5" fill="#111">1.1</text>
<text x="1915.5" y="1044.7" font-size="27.5" fill="#111">1</text>
<text x="1915.5" y="1131.4" font-size="27.5" fill="#111">0.9</text>
<text x="1915.5" y="1217.5" font-size="27.5" fill="#111">0.8</text>
<text x="1872.4" y="1298" font-size="27.7" font-weight="bold" fill="#111">Gender</text><rect x="1878.5" y="1310.6" width="40.2" height="39.1" fill="#379a7c"/><text x="1928" y="1337.6" font-size="27.7" fill="#111">F</text><rect x="1878.5" y="1349.4" width="40.2" height="39.1" fill="#cd6228"/><text x="1928" y="1376.4" font-size="27.7" fill="#111">M</text>
<text x="1879.3" y="1431.4" font-size="27.7" font-weight="bold" fill="#111">Approach</text><rect x="1878.5" y="1444.0" width="40.2" height="39.9" fill="#c87eb8"/><text x="1928" y="1471.4" font-size="27.7" fill="#111">T</text><rect x="1878.5" y="1483.6" width="40.2" height="39.9" fill="#2aa4b5"/><text x="1928" y="1511.0" font-size="27.7" fill="#111">H</text>
<text x="1871.6" y="1570.5" font-size="27.7" font-weight="bold" fill="#111">Time</text><rect x="1878.5" y="1582.7" width="40.2" height="38.9" fill="#2353a5"/><text x="1928" y="1609.6" font-size="27.7" fill="#111">t0</text><rect x="1878.5" y="1621.3" width="40.2" height="38.9" fill="#ee2a2a"/><text x="1928" y="1648.2" font-size="27.7" fill="#111">t1</text>
<text x="1879.3" y="1707.6" font-size="27.7" font-weight="bold" fill="#111">Class</text><rect x="1878.5" y="1718.5" width="40.2" height="39.0" fill="#4ebfb3"/><text x="1928" y="1745.4" font-size="27.7" fill="#111">Carbohydrate</text><rect x="1878.5" y="1757.2" width="40.2" height="39.0" fill="#c3c1da"/><text x="1928" y="1784.1" font-size="27.7" fill="#111">Lipid</text><rect x="1878.5" y="1795.9" width="40.2" height="39.0" fill="#5b86b8"/><text x="1928" y="1822.8" font-size="27.7" fill="#111">Nucleotide</text><rect x="1878.5" y="1834.6" width="40.2" height="39.0" fill="#e9e6df"/><text x="1928" y="1861.5" font-size="27.7" fill="#111">Others</text><rect x="1878.5" y="1873.3" width="40.2" height="39.0" fill="#9ea3a5"/><text x="1928" y="1900.2" font-size="27.7" fill="#111">Cofactors and Vitamins</text><rect x="1878.5" y="1912.0" width="40.2" height="39.0" fill="#83bac2"/><text x="1928" y="1938.9" font-size="27.7" fill="#111">Amino Acid</text><rect x="1878.5" y="1950.7" width="40.2" height="39.0" fill="#5773a8"/><text x="1928" y="1977.6" font-size="27.7" fill="#111">Peptide</text><rect x="1878.5" y="1989.4" width="40.2" height="39.0" fill="#d9c0b5"/><text x="1928" y="2016.3" font-size="27.7" fill="#111">Energy</text>
<text transform="translate(30 836) scale(0.92 1)" font-size="59" font-weight="bold" fill="#1a1a1a">d</text>
</g>
<g id="pe">
<line x1="2446.2" y1="857.2" x2="2446.2" y2="1648.5" stroke="#ededed" stroke-width="1.2"/>
<line x1="2625.4" y1="857.2" x2="2625.4" y2="1648.5" stroke="#ededed" stroke-width="1.2"/>
<line x1="2804.6" y1="857.2" x2="2804.6" y2="1648.5" stroke="#ededed" stroke-width="1.2"/>
<line x1="2356.6" y1="857.2" x2="2356.6" y2="1648.5" stroke="#e2e2e2" stroke-width="1.8"/>
<line x1="2535.8" y1="857.2" x2="2535.8" y2="1648.5" stroke="#e2e2e2" stroke-width="1.8"/>
<line x1="2715.0" y1="857.2" x2="2715.0" y2="1648.5" stroke="#e2e2e2" stroke-width="1.8"/>
<line x1="2894.2" y1="857.2" x2="2894.2" y2="1648.5" stroke="#e2e2e2" stroke-width="1.8"/>
<line x1="2349.6" y1="900.7" x2="2915.4" y2="900.7" stroke="#e2e2e2" stroke-width="1.8"/>
<line x1="2349.6" y1="971.2" x2="2915.4" y2="971.2" stroke="#e2e2e2" stroke-width="1.8"/>
<line x1="2349.6" y1="1041.8" x2="2915.4" y2="1041.8" stroke="#e2e2e2" stroke-width="1.8"/>
<line x1="2349.6" y1="1112.3" x2="2915.4" y2="1112.3" stroke="#e2e2e2" stroke-width="1.8"/>
<line x1="2349.6" y1="1182.9" x2="2915.4" y2="1182.9" stroke="#e2e2e2" stroke-width="1.8"/>
<line x1="2349.6" y1="1253.4" x2="2915.4" y2="1253.4" stroke="#e2e2e2" stroke-width="1.8"/>
<line x1="2349.6" y1="1324.0" x2="2915.4" y2="1324.0" stroke="#e2e2e2" stroke-width="1.8"/>
<line x1="2349.6" y1="1394.5" x2="2915.4" y2="1394.5" stroke="#e2e2e2" stroke-width="1.8"/>
<line x1="2349.6" y1="1465.1" x2="2915.4" y2="1465.1" stroke="#e2e2e2" stroke-width="1.8"/>
<line x1="2349.6" y1="1535.6" x2="2915.4" y2="1535.6" stroke="#e2e2e2" stroke-width="1.8"/>
<line x1="2349.6" y1="1606.2" x2="2915.4" y2="1606.2" stroke="#e2e2e2" stroke-width="1.8"/>
<rect x="2736.9" y="1321.8" width="177.5" height="314.7" fill="#fff"/>
<circle cx="2889.7" cy="900.7" r="10.9" fill="#ec2a2b"/>
<circle cx="2565.3" cy="971.2" r="7.4" fill="#ed2f2d"/>
<circle cx="2469.7" cy="1041.8" r="11.4" fill="#ee4434"/>
<circle cx="2448.6" cy="1112.3" r="6.3" fill="#ef4f3b"/>
<circle cx="2434.3" cy="1182.9" r="8.0" fill="#f16a4c"/>
<circle cx="2426.3" cy="1253.4" r="7.4" fill="#f37a58"/>
<circle cx="2408.5" cy="1324.0" r="6.0" fill="#f59566"/>
<circle cx="2399.4" cy="1394.5" r="5.7" fill="#f7a877"/>
<circle cx="2394.2" cy="1465.1" r="5.4" fill="#f8b283"/>
<circle cx="2391.3" cy="1535.6" r="5.1" fill="#f9bb8c"/>
<circle cx="2374.8" cy="1606.2" r="3.4" fill="#fbedb0"/>
<rect x="2349.6" y="857.2" width="565.8000000000002" height="791.3" fill="none" stroke="#8c8c8c" stroke-width="1.6"/>
<g font-size="27.6" text-anchor="end" fill="#111">
<line x1="2344.6" y1="900.7" x2="2349.6" y2="900.7" stroke="#555" stroke-width="1.5"/>
<text x="2339.8" y="895.3">Biosynthesis of</text><text x="2339.8" y="922.1">unsaturated fatty acids</text>
<line x1="2344.6" y1="971.2" x2="2349.6" y2="971.2" stroke="#555" stroke-width="1.5"/>
<text x="2337.5" y="965.8">Purine</text><text x="2337.5" y="992.6">metabolism</text>
<line x1="2344.6" y1="1041.8" x2="2349.6" y2="1041.8" stroke="#555" stroke-width="1.5"/>
<text x="2335.7" y="1036.4">Linoleic acid</text><text x="2335.7" y="1063.2">metabolism</text>
<line x1="2344.6" y1="1112.3" x2="2349.6" y2="1112.3" stroke="#555" stroke-width="1.5"/>
<text x="2333.5" y="1106.9">Fatty acid</text><text x="2333.5" y="1133.7">biosynthesis</text>
<line x1="2344.6" y1="1182.9" x2="2349.6" y2="1182.9" stroke="#555" stroke-width="1.5"/>
<text x="2331.8" y="1177.5">Alpha-Linoleic acid</text><text x="2331.8" y="1204.3">metabolism</text>
<line x1="2344.6" y1="1253.4" x2="2349.6" y2="1253.4" stroke="#555" stroke-width="1.5"/>
<text x="2333.6" y="1248.0">Glycerolipid</text><text x="2333.6" y="1274.8">metabolism</text>
<line x1="2344.6" y1="1324.0" x2="2349.6" y2="1324.0" stroke="#555" stroke-width="1.5"/>
<text x="2333" y="1318.6">Glactose</text><text x="2333" y="1345.4">metabolism</text>
<line x1="2344.6" y1="1394.5" x2="2349.6" y2="1394.5" stroke="#555" stroke-width="1.5"/>
<text x="2331.8" y="1389.1">Arachidonic acid</text><text x="2331.8" y="1415.9">metabolism</text>
<line x1="2344.6" y1="1465.1" x2="2349.6" y2="1465.1" stroke="#555" stroke-width="1.5"/>
<text x="2333" y="1459.7">Tyrosine</text><text x="2333" y="1486.5">metabolism</text>
<line x1="2344.6" y1="1535.6" x2="2349.6" y2="1535.6" stroke="#555" stroke-width="1.5"/>
<text x="2331.8" y="1530.2">Primary bile acid</text><text x="2331.8" y="1557.0">biosynthesis</text>
<line x1="2344.6" y1="1606.2" x2="2349.6" y2="1606.2" stroke="#555" stroke-width="1.5"/>
<text x="2333" y="1600.8">Steroid hormone</text><text x="2333" y="1627.6">biosynthesis</text>
</g>
<line x1="2356.6" y1="1648.5" x2="2356.6" y2="1653.5" stroke="#555" stroke-width="1.5"/>
<text x="2356.6" y="1678" text-anchor="middle" font-size="27.6" fill="#111">0</text>
<line x1="2535.8" y1="1648.5" x2="2535.8" y2="1653.5" stroke="#555" stroke-width="1.5"/>
<text x="2535.8" y="1678" text-anchor="middle" font-size="27.6" fill="#111">2</text>
<line x1="2715.0" y1="1648.5" x2="2715.0" y2="1653.5" stroke="#555" stroke-width="1.5"/>
<text x="2715.0" y="1678" text-anchor="middle" font-size="27.6" fill="#111">4</text>
<line x1="2894.2" y1="1648.5" x2="2894.2" y2="1653.5" stroke="#555" stroke-width="1.5"/>
<text x="2894.2" y="1678" text-anchor="middle" font-size="27.6" fill="#111">6</text>
<text x="2620.8" y="1710.5" text-anchor="middle" font-size="27.6" fill="#111">-log10 (p value)</text>
<text x="2748.4" y="1344.1" font-size="18.4" fill="#222" style="font-family:'DejaVu Sans','Liberation Sans',sans-serif">Enrichment Ratio</text>
<circle cx="2761.0" cy="1369.3" r="6.9" fill="#000"/>
<text x="2785.0" y="1374.8" font-size="16.2" fill="#222" style="font-family:'DejaVu Sans','Liberation Sans',sans-serif">5</text>
<circle cx="2761.0" cy="1395.0" r="8.9" fill="#000"/>
<text x="2785.0" y="1400.5" font-size="16.2" fill="#222" style="font-family:'DejaVu Sans','Liberation Sans',sans-serif">10</text>
<circle cx="2761.0" cy="1420.2" r="10.9" fill="#000"/>
<text x="2785.0" y="1425.7" font-size="16.2" fill="#222" style="font-family:'DejaVu Sans','Liberation Sans',sans-serif">15</text>
<text x="2748.4" y="1490.0" font-size="18.4" fill="#222" style="font-family:'DejaVu Sans','Liberation Sans',sans-serif">P-value</text>
<defs><linearGradient id="pv" x1="0" y1="0" x2="0" y2="1"><stop offset="0" stop-color="#fdf6c2"/><stop offset="0.33" stop-color="#fbc78f"/><stop offset="0.66" stop-color="#f58660"/><stop offset="1" stop-color="#ec2a2b"/></linearGradient></defs>
<rect x="2748.4" y="1503.7" width="21.2" height="118.4" fill="url(#pv)"/>
<text x="2779.3" y="1513.8" font-size="16.2" fill="#222" style="font-family:'DejaVu Sans','Liberation Sans',sans-serif">0.6</text>
<text x="2779.3" y="1552.2" font-size="16.2" fill="#222" style="font-family:'DejaVu Sans','Liberation Sans',sans-serif">0.4</text>
<text x="2779.3" y="1590.5" font-size="16.2" fill="#222" style="font-family:'DejaVu Sans','Liberation Sans',sans-serif">0.2</text>
<text x="2779.3" y="1627.7" font-size="16.2" fill="#222" style="font-family:'DejaVu Sans','Liberation Sans',sans-serif">0.0</text>
<text transform="translate(2045 837) scale(0.92 1)" font-size="59" font-weight="bold" fill="#1a1a1a">e</text>
</g>
</svg>
</body></html>
